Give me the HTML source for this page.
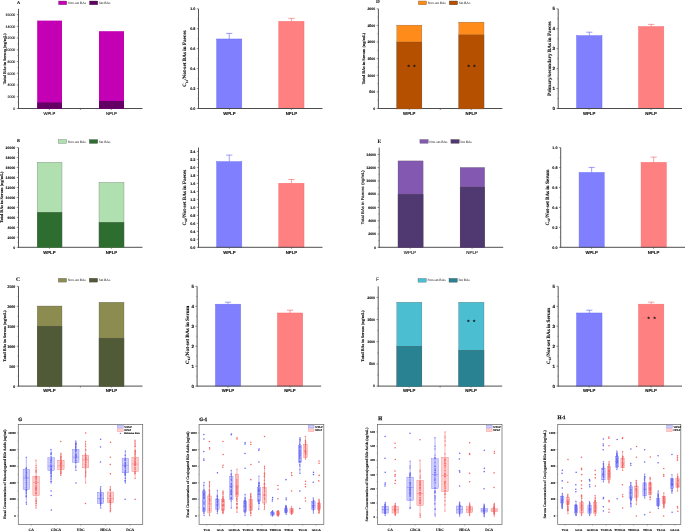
<!DOCTYPE html><html><head><meta charset="utf-8"><title>Bile acid figure</title><style>html,body{margin:0;padding:0;background:#fff}svg{display:block}</style></head><body>
<svg width="685" height="532" viewBox="0 0 685 532" style="will-change:transform" text-rendering="geometricPrecision">
<rect x="0.00" y="0.00" width="685.00" height="532.00" fill="#ffffff" stroke="none" stroke-width="0.3" />
<line x1="18.50" y1="8.80" x2="18.50" y2="108.90" stroke="#444" stroke-width="0.9" />
<line x1="18.10" y1="108.50" x2="142.50" y2="108.50" stroke="#444" stroke-width="0.95" />
<line x1="16.80" y1="108.50" x2="18.50" y2="108.50" stroke="#444" stroke-width="0.6" />
<text x="15.30" y="109.76" font-size="3.5" text-anchor="end" font-family='"Liberation Sans", sans-serif' font-weight="normal" fill="#111"  stroke="#111" stroke-width="0.12">0</text>
<line x1="16.80" y1="96.76" x2="18.50" y2="96.76" stroke="#444" stroke-width="0.6" />
<text x="15.30" y="98.02" font-size="3.5" text-anchor="end" font-family='"Liberation Sans", sans-serif' font-weight="normal" fill="#111"  stroke="#111" stroke-width="0.12">2000</text>
<line x1="16.80" y1="85.03" x2="18.50" y2="85.03" stroke="#444" stroke-width="0.6" />
<text x="15.30" y="86.29" font-size="3.5" text-anchor="end" font-family='"Liberation Sans", sans-serif' font-weight="normal" fill="#111"  stroke="#111" stroke-width="0.12">4000</text>
<line x1="16.80" y1="73.29" x2="18.50" y2="73.29" stroke="#444" stroke-width="0.6" />
<text x="15.30" y="74.55" font-size="3.5" text-anchor="end" font-family='"Liberation Sans", sans-serif' font-weight="normal" fill="#111"  stroke="#111" stroke-width="0.12">6000</text>
<line x1="16.80" y1="61.55" x2="18.50" y2="61.55" stroke="#444" stroke-width="0.6" />
<text x="15.30" y="62.81" font-size="3.5" text-anchor="end" font-family='"Liberation Sans", sans-serif' font-weight="normal" fill="#111"  stroke="#111" stroke-width="0.12">8000</text>
<line x1="16.80" y1="49.81" x2="18.50" y2="49.81" stroke="#444" stroke-width="0.6" />
<text x="15.30" y="51.07" font-size="3.5" text-anchor="end" font-family='"Liberation Sans", sans-serif' font-weight="normal" fill="#111"  stroke="#111" stroke-width="0.12">10000</text>
<line x1="16.80" y1="38.07" x2="18.50" y2="38.07" stroke="#444" stroke-width="0.6" />
<text x="15.30" y="39.33" font-size="3.5" text-anchor="end" font-family='"Liberation Sans", sans-serif' font-weight="normal" fill="#111"  stroke="#111" stroke-width="0.12">12000</text>
<line x1="16.80" y1="26.34" x2="18.50" y2="26.34" stroke="#444" stroke-width="0.6" />
<text x="15.30" y="27.60" font-size="3.5" text-anchor="end" font-family='"Liberation Sans", sans-serif' font-weight="normal" fill="#111"  stroke="#111" stroke-width="0.12">14000</text>
<line x1="16.80" y1="14.60" x2="18.50" y2="14.60" stroke="#444" stroke-width="0.6" />
<text x="15.30" y="15.86" font-size="3.5" text-anchor="end" font-family='"Liberation Sans", sans-serif' font-weight="normal" fill="#111"  stroke="#111" stroke-width="0.12">16000</text>
<line x1="17.50" y1="102.63" x2="18.50" y2="102.63" stroke="#555" stroke-width="0.5" />
<line x1="17.50" y1="90.89" x2="18.50" y2="90.89" stroke="#555" stroke-width="0.5" />
<line x1="17.50" y1="79.16" x2="18.50" y2="79.16" stroke="#555" stroke-width="0.5" />
<line x1="17.50" y1="67.42" x2="18.50" y2="67.42" stroke="#555" stroke-width="0.5" />
<line x1="17.50" y1="55.68" x2="18.50" y2="55.68" stroke="#555" stroke-width="0.5" />
<line x1="17.50" y1="43.94" x2="18.50" y2="43.94" stroke="#555" stroke-width="0.5" />
<line x1="17.50" y1="32.21" x2="18.50" y2="32.21" stroke="#555" stroke-width="0.5" />
<line x1="17.50" y1="20.47" x2="18.50" y2="20.47" stroke="#555" stroke-width="0.5" />
<line x1="49.40" y1="108.50" x2="49.40" y2="110.00" stroke="#444" stroke-width="0.6" />
<line x1="80.40" y1="108.50" x2="80.40" y2="110.00" stroke="#444" stroke-width="0.6" />
<line x1="111.40" y1="108.50" x2="111.40" y2="110.00" stroke="#444" stroke-width="0.6" />
<text x="49.40" y="114.80" font-size="4.2" text-anchor="middle" font-family='"Liberation Sans", sans-serif' font-weight="normal" fill="#111"  stroke="#111" stroke-width="0.12">WPLP</text>
<text x="111.40" y="114.80" font-size="4.2" text-anchor="middle" font-family='"Liberation Sans", sans-serif' font-weight="normal" fill="#111"  stroke="#111" stroke-width="0.12">NPLP</text>
<text x="5.70" y="58.80" font-size="4.2" text-anchor="middle" font-family='"Liberation Serif", serif' font-weight="bold" fill="#111" transform="rotate(-90 5.70 58.80)"  textLength="50.8" lengthAdjust="spacingAndGlyphs" stroke="#111" stroke-width="0.12">Total BAs in Serum (ng/mL)</text>
<rect x="37.20" y="20.60" width="24.80" height="88.35" fill="#c400b4" stroke="none" stroke-width="0.25" />
<rect x="37.20" y="102.50" width="24.80" height="6.45" fill="#640064" stroke="none" stroke-width="0.25" />
<rect x="99.00" y="31.20" width="25.00" height="77.75" fill="#c400b4" stroke="none" stroke-width="0.25" />
<rect x="99.00" y="101.00" width="25.00" height="7.95" fill="#640064" stroke="none" stroke-width="0.25" />
<text x="16.90" y="3.90" font-size="4.3" text-anchor="start" font-family='"Liberation Serif", serif' font-weight="bold" fill="#111"  stroke="#111" stroke-width="0.12">A</text>
<rect x="58.50" y="1.00" width="8.30" height="3.80" fill="#c400b4" stroke="#555" stroke-width="0.3" />
<text x="67.90" y="4.00" font-size="3.5" text-anchor="start" font-family='"Liberation Serif", serif' font-weight="normal" fill="#444"  stroke="#444" stroke-width="0.04">Non-set BAs</text>
<rect x="89.50" y="1.00" width="8.30" height="3.80" fill="#640064" stroke="#333" stroke-width="0.3" />
<text x="98.90" y="4.00" font-size="3.5" text-anchor="start" font-family='"Liberation Serif", serif' font-weight="normal" fill="#444"  stroke="#444" stroke-width="0.04">Set BAs</text>
<line x1="229.25" y1="33.40" x2="229.25" y2="39.00" stroke="#6a6af5" stroke-width="0.65" />
<line x1="226.15" y1="33.40" x2="232.35" y2="33.40" stroke="#6a6af5" stroke-width="0.65" />
<rect x="216.70" y="39.00" width="25.10" height="69.50" fill="#8080ff" stroke="#6a6af5" stroke-width="0.5" />
<line x1="291.40" y1="18.30" x2="291.40" y2="21.40" stroke="#f56a6a" stroke-width="0.65" />
<line x1="288.30" y1="18.30" x2="294.50" y2="18.30" stroke="#f56a6a" stroke-width="0.65" />
<rect x="278.80" y="21.40" width="25.20" height="87.10" fill="#ff8080" stroke="#f56a6a" stroke-width="0.5" />
<line x1="198.50" y1="8.80" x2="198.50" y2="108.90" stroke="#444" stroke-width="0.9" />
<line x1="198.10" y1="108.50" x2="322.50" y2="108.50" stroke="#444" stroke-width="0.95" />
<line x1="196.80" y1="108.50" x2="198.50" y2="108.50" stroke="#444" stroke-width="0.6" />
<text x="195.30" y="109.83" font-size="3.7" text-anchor="end" font-family='"Liberation Sans", sans-serif' font-weight="bold" fill="#111"  stroke="#111" stroke-width="0.12">0.0</text>
<line x1="196.80" y1="88.56" x2="198.50" y2="88.56" stroke="#444" stroke-width="0.6" />
<text x="195.30" y="89.89" font-size="3.7" text-anchor="end" font-family='"Liberation Sans", sans-serif' font-weight="bold" fill="#111"  stroke="#111" stroke-width="0.12">0.2</text>
<line x1="196.80" y1="68.62" x2="198.50" y2="68.62" stroke="#444" stroke-width="0.6" />
<text x="195.30" y="69.95" font-size="3.7" text-anchor="end" font-family='"Liberation Sans", sans-serif' font-weight="bold" fill="#111"  stroke="#111" stroke-width="0.12">0.4</text>
<line x1="196.80" y1="48.68" x2="198.50" y2="48.68" stroke="#444" stroke-width="0.6" />
<text x="195.30" y="50.01" font-size="3.7" text-anchor="end" font-family='"Liberation Sans", sans-serif' font-weight="bold" fill="#111"  stroke="#111" stroke-width="0.12">0.6</text>
<line x1="196.80" y1="28.74" x2="198.50" y2="28.74" stroke="#444" stroke-width="0.6" />
<text x="195.30" y="30.07" font-size="3.7" text-anchor="end" font-family='"Liberation Sans", sans-serif' font-weight="bold" fill="#111"  stroke="#111" stroke-width="0.12">0.8</text>
<line x1="196.80" y1="8.80" x2="198.50" y2="8.80" stroke="#444" stroke-width="0.6" />
<text x="195.30" y="10.13" font-size="3.7" text-anchor="end" font-family='"Liberation Sans", sans-serif' font-weight="bold" fill="#111"  stroke="#111" stroke-width="0.12">1.0</text>
<line x1="197.50" y1="98.53" x2="198.50" y2="98.53" stroke="#555" stroke-width="0.5" />
<line x1="197.50" y1="78.59" x2="198.50" y2="78.59" stroke="#555" stroke-width="0.5" />
<line x1="197.50" y1="58.65" x2="198.50" y2="58.65" stroke="#555" stroke-width="0.5" />
<line x1="197.50" y1="38.71" x2="198.50" y2="38.71" stroke="#555" stroke-width="0.5" />
<line x1="197.50" y1="18.77" x2="198.50" y2="18.77" stroke="#555" stroke-width="0.5" />
<line x1="229.40" y1="108.50" x2="229.40" y2="110.00" stroke="#444" stroke-width="0.6" />
<line x1="291.40" y1="108.50" x2="291.40" y2="110.00" stroke="#444" stroke-width="0.6" />
<text x="229.40" y="114.80" font-size="4.3" text-anchor="middle" font-family='"Liberation Sans", sans-serif' font-weight="bold" fill="#111"  stroke="#111" stroke-width="0.12">WPLP</text>
<text x="291.40" y="114.80" font-size="4.3" text-anchor="middle" font-family='"Liberation Sans", sans-serif' font-weight="bold" fill="#111"  stroke="#111" stroke-width="0.12">NPLP</text>
<text x="186.50" y="58.70" font-size="5.0" text-anchor="middle" font-family='"Liberation Serif", serif' font-weight="bold" fill="#111" transform="rotate(-90 186.50 58.70)"  textLength="56.4" lengthAdjust="spacingAndGlyphs" stroke="#111" stroke-width="0.12">C<tspan font-size="3.2" dy="1.2">12</tspan><tspan dy="-1.2">/Not-set BAs in Faeces</tspan></text>
<line x1="378.40" y1="8.80" x2="378.40" y2="108.90" stroke="#444" stroke-width="0.9" />
<line x1="378.00" y1="108.50" x2="502.40" y2="108.50" stroke="#444" stroke-width="0.95" />
<line x1="376.70" y1="108.50" x2="378.40" y2="108.50" stroke="#444" stroke-width="0.6" />
<text x="375.20" y="109.76" font-size="3.5" text-anchor="end" font-family='"Liberation Sans", sans-serif' font-weight="bold" fill="#111"  stroke="#111" stroke-width="0.12">0</text>
<line x1="376.70" y1="91.88" x2="378.40" y2="91.88" stroke="#444" stroke-width="0.6" />
<text x="375.20" y="93.14" font-size="3.5" text-anchor="end" font-family='"Liberation Sans", sans-serif' font-weight="bold" fill="#111"  stroke="#111" stroke-width="0.12">500</text>
<line x1="376.70" y1="75.27" x2="378.40" y2="75.27" stroke="#444" stroke-width="0.6" />
<text x="375.20" y="76.53" font-size="3.5" text-anchor="end" font-family='"Liberation Sans", sans-serif' font-weight="bold" fill="#111"  stroke="#111" stroke-width="0.12">1000</text>
<line x1="376.70" y1="58.65" x2="378.40" y2="58.65" stroke="#444" stroke-width="0.6" />
<text x="375.20" y="59.91" font-size="3.5" text-anchor="end" font-family='"Liberation Sans", sans-serif' font-weight="bold" fill="#111"  stroke="#111" stroke-width="0.12">1500</text>
<line x1="376.70" y1="42.03" x2="378.40" y2="42.03" stroke="#444" stroke-width="0.6" />
<text x="375.20" y="43.29" font-size="3.5" text-anchor="end" font-family='"Liberation Sans", sans-serif' font-weight="bold" fill="#111"  stroke="#111" stroke-width="0.12">2000</text>
<line x1="376.70" y1="25.42" x2="378.40" y2="25.42" stroke="#444" stroke-width="0.6" />
<text x="375.20" y="26.68" font-size="3.5" text-anchor="end" font-family='"Liberation Sans", sans-serif' font-weight="bold" fill="#111"  stroke="#111" stroke-width="0.12">2500</text>
<line x1="376.70" y1="8.80" x2="378.40" y2="8.80" stroke="#444" stroke-width="0.6" />
<text x="375.20" y="10.06" font-size="3.5" text-anchor="end" font-family='"Liberation Sans", sans-serif' font-weight="bold" fill="#111"  stroke="#111" stroke-width="0.12">3000</text>
<line x1="377.40" y1="100.19" x2="378.40" y2="100.19" stroke="#555" stroke-width="0.5" />
<line x1="377.40" y1="83.58" x2="378.40" y2="83.58" stroke="#555" stroke-width="0.5" />
<line x1="377.40" y1="66.96" x2="378.40" y2="66.96" stroke="#555" stroke-width="0.5" />
<line x1="377.40" y1="50.34" x2="378.40" y2="50.34" stroke="#555" stroke-width="0.5" />
<line x1="377.40" y1="33.72" x2="378.40" y2="33.72" stroke="#555" stroke-width="0.5" />
<line x1="377.40" y1="17.11" x2="378.40" y2="17.11" stroke="#555" stroke-width="0.5" />
<line x1="409.30" y1="108.50" x2="409.30" y2="110.00" stroke="#444" stroke-width="0.6" />
<line x1="440.30" y1="108.50" x2="440.30" y2="110.00" stroke="#444" stroke-width="0.6" />
<line x1="471.30" y1="108.50" x2="471.30" y2="110.00" stroke="#444" stroke-width="0.6" />
<text x="409.30" y="114.80" font-size="4.3" text-anchor="middle" font-family='"Liberation Sans", sans-serif' font-weight="bold" fill="#111"  stroke="#111" stroke-width="0.12">WPLP</text>
<text x="471.30" y="114.80" font-size="4.3" text-anchor="middle" font-family='"Liberation Sans", sans-serif' font-weight="bold" fill="#111"  stroke="#111" stroke-width="0.12">NPLP</text>
<text x="365.00" y="58.45" font-size="4.2" text-anchor="middle" font-family='"Liberation Serif", serif' font-weight="bold" fill="#111" transform="rotate(-90 365.00 58.45)"  textLength="51.5" lengthAdjust="spacingAndGlyphs" stroke="#111" stroke-width="0.12">Total BAs in Serum (ng/mL)</text>
<rect x="396.80" y="25.10" width="25.10" height="83.85" fill="#ff8c1a" stroke="#555" stroke-width="0.25" />
<rect x="396.80" y="42.00" width="25.10" height="66.95" fill="#b45000" stroke="#555" stroke-width="0.25" />
<rect x="458.80" y="22.10" width="25.20" height="86.85" fill="#ff8c1a" stroke="#555" stroke-width="0.25" />
<rect x="458.80" y="34.90" width="25.20" height="74.05" fill="#b45000" stroke="#555" stroke-width="0.25" />
<text x="376.00" y="3.30" font-size="5.2" text-anchor="start" font-family='"Liberation Serif", serif' font-weight="bold" fill="#222"  stroke="#222" stroke-width="0.12">D</text>
<rect x="418.30" y="1.00" width="8.30" height="3.80" fill="#ff8c1a" stroke="#555" stroke-width="0.3" />
<text x="427.70" y="4.00" font-size="3.5" text-anchor="start" font-family='"Liberation Serif", serif' font-weight="normal" fill="#444"  stroke="#444" stroke-width="0.04">Non-set BAs</text>
<rect x="449.30" y="1.00" width="8.30" height="3.80" fill="#b45000" stroke="#333" stroke-width="0.3" />
<text x="458.70" y="4.00" font-size="3.5" text-anchor="start" font-family='"Liberation Serif", serif' font-weight="normal" fill="#444"  stroke="#444" stroke-width="0.04">Set BAs</text>
<text x="408.50" y="67.00" font-size="3.6" text-anchor="middle" font-family='"Liberation Sans", sans-serif' font-weight="normal" fill="#111"  stroke="#111" stroke-width="0.12">★</text>
<text x="414.30" y="67.00" font-size="3.6" text-anchor="middle" font-family='"Liberation Sans", sans-serif' font-weight="normal" fill="#111"  stroke="#111" stroke-width="0.12">★</text>
<text x="468.50" y="67.00" font-size="3.6" text-anchor="middle" font-family='"Liberation Sans", sans-serif' font-weight="normal" fill="#111"  stroke="#111" stroke-width="0.12">★</text>
<text x="474.30" y="67.00" font-size="3.6" text-anchor="middle" font-family='"Liberation Sans", sans-serif' font-weight="normal" fill="#111"  stroke="#111" stroke-width="0.12">★</text>
<line x1="589.30" y1="32.20" x2="589.30" y2="35.70" stroke="#6a6af5" stroke-width="0.65" />
<line x1="586.20" y1="32.20" x2="592.40" y2="32.20" stroke="#6a6af5" stroke-width="0.65" />
<rect x="576.60" y="35.70" width="25.40" height="72.80" fill="#8080ff" stroke="#6a6af5" stroke-width="0.5" />
<line x1="651.20" y1="24.40" x2="651.20" y2="26.60" stroke="#f56a6a" stroke-width="0.65" />
<line x1="648.10" y1="24.40" x2="654.30" y2="24.40" stroke="#f56a6a" stroke-width="0.65" />
<rect x="638.60" y="26.60" width="25.20" height="81.90" fill="#ff8080" stroke="#f56a6a" stroke-width="0.5" />
<line x1="558.20" y1="8.80" x2="558.20" y2="108.90" stroke="#444" stroke-width="0.9" />
<line x1="557.80" y1="108.50" x2="682.00" y2="108.50" stroke="#444" stroke-width="0.95" />
<line x1="556.50" y1="108.50" x2="558.20" y2="108.50" stroke="#444" stroke-width="0.6" />
<text x="555.00" y="110.12" font-size="4.5" text-anchor="end" font-family='"Liberation Sans", sans-serif' font-weight="bold" fill="#111"  stroke="#111" stroke-width="0.12">0</text>
<line x1="556.50" y1="88.56" x2="558.20" y2="88.56" stroke="#444" stroke-width="0.6" />
<text x="555.00" y="90.18" font-size="4.5" text-anchor="end" font-family='"Liberation Sans", sans-serif' font-weight="bold" fill="#111"  stroke="#111" stroke-width="0.12">1</text>
<line x1="556.50" y1="68.62" x2="558.20" y2="68.62" stroke="#444" stroke-width="0.6" />
<text x="555.00" y="70.24" font-size="4.5" text-anchor="end" font-family='"Liberation Sans", sans-serif' font-weight="bold" fill="#111"  stroke="#111" stroke-width="0.12">2</text>
<line x1="556.50" y1="48.68" x2="558.20" y2="48.68" stroke="#444" stroke-width="0.6" />
<text x="555.00" y="50.30" font-size="4.5" text-anchor="end" font-family='"Liberation Sans", sans-serif' font-weight="bold" fill="#111"  stroke="#111" stroke-width="0.12">3</text>
<line x1="556.50" y1="28.74" x2="558.20" y2="28.74" stroke="#444" stroke-width="0.6" />
<text x="555.00" y="30.36" font-size="4.5" text-anchor="end" font-family='"Liberation Sans", sans-serif' font-weight="bold" fill="#111"  stroke="#111" stroke-width="0.12">4</text>
<line x1="556.50" y1="8.80" x2="558.20" y2="8.80" stroke="#444" stroke-width="0.6" />
<text x="555.00" y="10.42" font-size="4.5" text-anchor="end" font-family='"Liberation Sans", sans-serif' font-weight="bold" fill="#111"  stroke="#111" stroke-width="0.12">5</text>
<line x1="557.20" y1="98.53" x2="558.20" y2="98.53" stroke="#555" stroke-width="0.5" />
<line x1="557.20" y1="78.59" x2="558.20" y2="78.59" stroke="#555" stroke-width="0.5" />
<line x1="557.20" y1="58.65" x2="558.20" y2="58.65" stroke="#555" stroke-width="0.5" />
<line x1="557.20" y1="38.71" x2="558.20" y2="38.71" stroke="#555" stroke-width="0.5" />
<line x1="557.20" y1="18.77" x2="558.20" y2="18.77" stroke="#555" stroke-width="0.5" />
<line x1="589.10" y1="108.50" x2="589.10" y2="110.00" stroke="#444" stroke-width="0.6" />
<line x1="651.10" y1="108.50" x2="651.10" y2="110.00" stroke="#444" stroke-width="0.6" />
<text x="589.10" y="114.80" font-size="4.3" text-anchor="middle" font-family='"Liberation Sans", sans-serif' font-weight="bold" fill="#111"  stroke="#111" stroke-width="0.12">WPLP</text>
<text x="651.10" y="114.80" font-size="4.3" text-anchor="middle" font-family='"Liberation Sans", sans-serif' font-weight="bold" fill="#111"  stroke="#111" stroke-width="0.12">NPLP</text>
<text x="550.60" y="58.70" font-size="5.0" text-anchor="middle" font-family='"Liberation Serif", serif' font-weight="bold" fill="#111" transform="rotate(-90 550.60 58.70)"  textLength="74.6" lengthAdjust="spacingAndGlyphs" stroke="#111" stroke-width="0.12">Primary/secondary BAs in Faeces</text>
<line x1="18.50" y1="147.60" x2="18.50" y2="247.70" stroke="#444" stroke-width="0.9" />
<line x1="18.10" y1="247.30" x2="142.50" y2="247.30" stroke="#444" stroke-width="0.95" />
<line x1="16.80" y1="247.30" x2="18.50" y2="247.30" stroke="#444" stroke-width="0.6" />
<text x="15.30" y="248.56" font-size="3.5" text-anchor="end" font-family='"Liberation Sans", sans-serif' font-weight="bold" fill="#111"  stroke="#111" stroke-width="0.12">0</text>
<line x1="16.80" y1="237.33" x2="18.50" y2="237.33" stroke="#444" stroke-width="0.6" />
<text x="15.30" y="238.59" font-size="3.5" text-anchor="end" font-family='"Liberation Sans", sans-serif' font-weight="bold" fill="#111"  stroke="#111" stroke-width="0.12">2000</text>
<line x1="16.80" y1="227.36" x2="18.50" y2="227.36" stroke="#444" stroke-width="0.6" />
<text x="15.30" y="228.62" font-size="3.5" text-anchor="end" font-family='"Liberation Sans", sans-serif' font-weight="bold" fill="#111"  stroke="#111" stroke-width="0.12">4000</text>
<line x1="16.80" y1="217.39" x2="18.50" y2="217.39" stroke="#444" stroke-width="0.6" />
<text x="15.30" y="218.65" font-size="3.5" text-anchor="end" font-family='"Liberation Sans", sans-serif' font-weight="bold" fill="#111"  stroke="#111" stroke-width="0.12">6000</text>
<line x1="16.80" y1="207.42" x2="18.50" y2="207.42" stroke="#444" stroke-width="0.6" />
<text x="15.30" y="208.68" font-size="3.5" text-anchor="end" font-family='"Liberation Sans", sans-serif' font-weight="bold" fill="#111"  stroke="#111" stroke-width="0.12">8000</text>
<line x1="16.80" y1="197.45" x2="18.50" y2="197.45" stroke="#444" stroke-width="0.6" />
<text x="15.30" y="198.71" font-size="3.5" text-anchor="end" font-family='"Liberation Sans", sans-serif' font-weight="bold" fill="#111"  stroke="#111" stroke-width="0.12">10000</text>
<line x1="16.80" y1="187.48" x2="18.50" y2="187.48" stroke="#444" stroke-width="0.6" />
<text x="15.30" y="188.74" font-size="3.5" text-anchor="end" font-family='"Liberation Sans", sans-serif' font-weight="bold" fill="#111"  stroke="#111" stroke-width="0.12">12000</text>
<line x1="16.80" y1="177.51" x2="18.50" y2="177.51" stroke="#444" stroke-width="0.6" />
<text x="15.30" y="178.77" font-size="3.5" text-anchor="end" font-family='"Liberation Sans", sans-serif' font-weight="bold" fill="#111"  stroke="#111" stroke-width="0.12">14000</text>
<line x1="16.80" y1="167.54" x2="18.50" y2="167.54" stroke="#444" stroke-width="0.6" />
<text x="15.30" y="168.80" font-size="3.5" text-anchor="end" font-family='"Liberation Sans", sans-serif' font-weight="bold" fill="#111"  stroke="#111" stroke-width="0.12">16000</text>
<line x1="16.80" y1="157.57" x2="18.50" y2="157.57" stroke="#444" stroke-width="0.6" />
<text x="15.30" y="158.83" font-size="3.5" text-anchor="end" font-family='"Liberation Sans", sans-serif' font-weight="bold" fill="#111"  stroke="#111" stroke-width="0.12">18000</text>
<line x1="16.80" y1="147.60" x2="18.50" y2="147.60" stroke="#444" stroke-width="0.6" />
<text x="15.30" y="148.86" font-size="3.5" text-anchor="end" font-family='"Liberation Sans", sans-serif' font-weight="bold" fill="#111"  stroke="#111" stroke-width="0.12">20000</text>
<line x1="17.50" y1="242.31" x2="18.50" y2="242.31" stroke="#555" stroke-width="0.5" />
<line x1="17.50" y1="232.34" x2="18.50" y2="232.34" stroke="#555" stroke-width="0.5" />
<line x1="17.50" y1="222.38" x2="18.50" y2="222.38" stroke="#555" stroke-width="0.5" />
<line x1="17.50" y1="212.41" x2="18.50" y2="212.41" stroke="#555" stroke-width="0.5" />
<line x1="17.50" y1="202.44" x2="18.50" y2="202.44" stroke="#555" stroke-width="0.5" />
<line x1="17.50" y1="192.47" x2="18.50" y2="192.47" stroke="#555" stroke-width="0.5" />
<line x1="17.50" y1="182.50" x2="18.50" y2="182.50" stroke="#555" stroke-width="0.5" />
<line x1="17.50" y1="172.52" x2="18.50" y2="172.52" stroke="#555" stroke-width="0.5" />
<line x1="17.50" y1="162.56" x2="18.50" y2="162.56" stroke="#555" stroke-width="0.5" />
<line x1="17.50" y1="152.58" x2="18.50" y2="152.58" stroke="#555" stroke-width="0.5" />
<line x1="49.40" y1="247.30" x2="49.40" y2="248.80" stroke="#444" stroke-width="0.6" />
<line x1="111.40" y1="247.30" x2="111.40" y2="248.80" stroke="#444" stroke-width="0.6" />
<text x="49.40" y="253.60" font-size="4.3" text-anchor="middle" font-family='"Liberation Sans", sans-serif' font-weight="bold" fill="#111"  stroke="#111" stroke-width="0.12">WPLP</text>
<text x="111.40" y="253.60" font-size="4.3" text-anchor="middle" font-family='"Liberation Sans", sans-serif' font-weight="bold" fill="#111"  stroke="#111" stroke-width="0.12">NPLP</text>
<text x="3.40" y="197.25" font-size="4.2" text-anchor="middle" font-family='"Liberation Serif", serif' font-weight="bold" fill="#111" transform="rotate(-90 3.40 197.25)"  textLength="51.5" lengthAdjust="spacingAndGlyphs" stroke="#111" stroke-width="0.12">Total BAs in Serum (ng/mL)</text>
<rect x="37.20" y="162.20" width="24.80" height="85.55" fill="#b0e0b0" stroke="#555" stroke-width="0.25" />
<rect x="37.20" y="212.20" width="24.80" height="35.55" fill="#2d6e30" stroke="#555" stroke-width="0.25" />
<rect x="99.00" y="182.30" width="25.00" height="65.45" fill="#b0e0b0" stroke="#555" stroke-width="0.25" />
<rect x="99.00" y="222.20" width="25.00" height="25.55" fill="#2d6e30" stroke="#555" stroke-width="0.25" />
<text x="16.90" y="142.10" font-size="4.3" text-anchor="start" font-family='"Liberation Serif", serif' font-weight="bold" fill="#111"  stroke="#111" stroke-width="0.12">B</text>
<rect x="58.40" y="139.60" width="8.30" height="3.80" fill="#b0e0b0" stroke="#555" stroke-width="0.3" />
<text x="67.80" y="142.60" font-size="3.5" text-anchor="start" font-family='"Liberation Serif", serif' font-weight="normal" fill="#444"  stroke="#444" stroke-width="0.04">Non-set BAs</text>
<rect x="89.40" y="139.60" width="8.30" height="3.80" fill="#2d6e30" stroke="#333" stroke-width="0.3" />
<text x="98.80" y="142.60" font-size="3.5" text-anchor="start" font-family='"Liberation Serif", serif' font-weight="normal" fill="#444"  stroke="#444" stroke-width="0.04">Set BAs</text>
<line x1="229.25" y1="155.10" x2="229.25" y2="161.70" stroke="#6a6af5" stroke-width="0.65" />
<line x1="226.15" y1="155.10" x2="232.35" y2="155.10" stroke="#6a6af5" stroke-width="0.65" />
<rect x="216.70" y="161.70" width="25.10" height="85.60" fill="#8080ff" stroke="#6a6af5" stroke-width="0.5" />
<line x1="291.40" y1="179.50" x2="291.40" y2="183.30" stroke="#f56a6a" stroke-width="0.65" />
<line x1="288.30" y1="179.50" x2="294.50" y2="179.50" stroke="#f56a6a" stroke-width="0.65" />
<rect x="278.80" y="183.30" width="25.20" height="64.00" fill="#ff8080" stroke="#f56a6a" stroke-width="0.5" />
<line x1="198.50" y1="147.60" x2="198.50" y2="247.70" stroke="#444" stroke-width="0.9" />
<line x1="198.10" y1="247.30" x2="322.50" y2="247.30" stroke="#444" stroke-width="0.95" />
<line x1="196.80" y1="247.30" x2="198.50" y2="247.30" stroke="#444" stroke-width="0.6" />
<text x="195.30" y="248.63" font-size="3.7" text-anchor="end" font-family='"Liberation Sans", sans-serif' font-weight="bold" fill="#111"  stroke="#111" stroke-width="0.12">0.0</text>
<line x1="196.80" y1="239.31" x2="198.50" y2="239.31" stroke="#444" stroke-width="0.6" />
<text x="195.30" y="240.64" font-size="3.7" text-anchor="end" font-family='"Liberation Sans", sans-serif' font-weight="bold" fill="#111"  stroke="#111" stroke-width="0.12">0.2</text>
<line x1="196.80" y1="231.32" x2="198.50" y2="231.32" stroke="#444" stroke-width="0.6" />
<text x="195.30" y="232.65" font-size="3.7" text-anchor="end" font-family='"Liberation Sans", sans-serif' font-weight="bold" fill="#111"  stroke="#111" stroke-width="0.12">0.4</text>
<line x1="196.80" y1="223.33" x2="198.50" y2="223.33" stroke="#444" stroke-width="0.6" />
<text x="195.30" y="224.66" font-size="3.7" text-anchor="end" font-family='"Liberation Sans", sans-serif' font-weight="bold" fill="#111"  stroke="#111" stroke-width="0.12">0.6</text>
<line x1="196.80" y1="215.33" x2="198.50" y2="215.33" stroke="#444" stroke-width="0.6" />
<text x="195.30" y="216.67" font-size="3.7" text-anchor="end" font-family='"Liberation Sans", sans-serif' font-weight="bold" fill="#111"  stroke="#111" stroke-width="0.12">0.8</text>
<line x1="196.80" y1="207.34" x2="198.50" y2="207.34" stroke="#444" stroke-width="0.6" />
<text x="195.30" y="208.67" font-size="3.7" text-anchor="end" font-family='"Liberation Sans", sans-serif' font-weight="bold" fill="#111"  stroke="#111" stroke-width="0.12">1.0</text>
<line x1="196.80" y1="199.35" x2="198.50" y2="199.35" stroke="#444" stroke-width="0.6" />
<text x="195.30" y="200.68" font-size="3.7" text-anchor="end" font-family='"Liberation Sans", sans-serif' font-weight="bold" fill="#111"  stroke="#111" stroke-width="0.12">1.2</text>
<line x1="196.80" y1="191.36" x2="198.50" y2="191.36" stroke="#444" stroke-width="0.6" />
<text x="195.30" y="192.69" font-size="3.7" text-anchor="end" font-family='"Liberation Sans", sans-serif' font-weight="bold" fill="#111"  stroke="#111" stroke-width="0.12">1.4</text>
<line x1="196.80" y1="183.37" x2="198.50" y2="183.37" stroke="#444" stroke-width="0.6" />
<text x="195.30" y="184.70" font-size="3.7" text-anchor="end" font-family='"Liberation Sans", sans-serif' font-weight="bold" fill="#111"  stroke="#111" stroke-width="0.12">1.6</text>
<line x1="196.80" y1="175.38" x2="198.50" y2="175.38" stroke="#444" stroke-width="0.6" />
<text x="195.30" y="176.71" font-size="3.7" text-anchor="end" font-family='"Liberation Sans", sans-serif' font-weight="bold" fill="#111"  stroke="#111" stroke-width="0.12">1.8</text>
<line x1="196.80" y1="167.38" x2="198.50" y2="167.38" stroke="#444" stroke-width="0.6" />
<text x="195.30" y="168.72" font-size="3.7" text-anchor="end" font-family='"Liberation Sans", sans-serif' font-weight="bold" fill="#111"  stroke="#111" stroke-width="0.12">2.0</text>
<line x1="196.80" y1="159.39" x2="198.50" y2="159.39" stroke="#444" stroke-width="0.6" />
<text x="195.30" y="160.72" font-size="3.7" text-anchor="end" font-family='"Liberation Sans", sans-serif' font-weight="bold" fill="#111"  stroke="#111" stroke-width="0.12">2.2</text>
<line x1="196.80" y1="151.40" x2="198.50" y2="151.40" stroke="#444" stroke-width="0.6" />
<text x="195.30" y="152.73" font-size="3.7" text-anchor="end" font-family='"Liberation Sans", sans-serif' font-weight="bold" fill="#111"  stroke="#111" stroke-width="0.12">2.4</text>
<line x1="197.50" y1="243.30" x2="198.50" y2="243.30" stroke="#555" stroke-width="0.5" />
<line x1="197.50" y1="235.31" x2="198.50" y2="235.31" stroke="#555" stroke-width="0.5" />
<line x1="197.50" y1="227.32" x2="198.50" y2="227.32" stroke="#555" stroke-width="0.5" />
<line x1="197.50" y1="219.33" x2="198.50" y2="219.33" stroke="#555" stroke-width="0.5" />
<line x1="197.50" y1="211.34" x2="198.50" y2="211.34" stroke="#555" stroke-width="0.5" />
<line x1="197.50" y1="203.35" x2="198.50" y2="203.35" stroke="#555" stroke-width="0.5" />
<line x1="197.50" y1="195.35" x2="198.50" y2="195.35" stroke="#555" stroke-width="0.5" />
<line x1="197.50" y1="187.36" x2="198.50" y2="187.36" stroke="#555" stroke-width="0.5" />
<line x1="197.50" y1="179.37" x2="198.50" y2="179.37" stroke="#555" stroke-width="0.5" />
<line x1="197.50" y1="171.38" x2="198.50" y2="171.38" stroke="#555" stroke-width="0.5" />
<line x1="197.50" y1="163.39" x2="198.50" y2="163.39" stroke="#555" stroke-width="0.5" />
<line x1="197.50" y1="155.40" x2="198.50" y2="155.40" stroke="#555" stroke-width="0.5" />
<line x1="229.40" y1="247.30" x2="229.40" y2="248.80" stroke="#444" stroke-width="0.6" />
<line x1="291.40" y1="247.30" x2="291.40" y2="248.80" stroke="#444" stroke-width="0.6" />
<text x="229.40" y="253.60" font-size="4.3" text-anchor="middle" font-family='"Liberation Sans", sans-serif' font-weight="bold" fill="#111"  stroke="#111" stroke-width="0.12">WPLP</text>
<text x="291.40" y="253.60" font-size="4.3" text-anchor="middle" font-family='"Liberation Sans", sans-serif' font-weight="bold" fill="#111"  stroke="#111" stroke-width="0.12">NPLP</text>
<text x="185.70" y="197.60" font-size="5.0" text-anchor="middle" font-family='"Liberation Serif", serif' font-weight="bold" fill="#111" transform="rotate(-90 185.70 197.60)"  textLength="55.8" lengthAdjust="spacingAndGlyphs" stroke="#111" stroke-width="0.12">C<tspan font-size="3.2" dy="1.2">12</tspan><tspan dy="-1.2">/Not-set BAs in Faeces</tspan></text>
<line x1="379.20" y1="147.60" x2="379.20" y2="247.70" stroke="#444" stroke-width="0.9" />
<line x1="378.80" y1="247.30" x2="503.20" y2="247.30" stroke="#444" stroke-width="0.95" />
<line x1="377.50" y1="247.30" x2="379.20" y2="247.30" stroke="#444" stroke-width="0.6" />
<text x="376.00" y="248.56" font-size="3.5" text-anchor="end" font-family='"Liberation Sans", sans-serif' font-weight="bold" fill="#111"  stroke="#111" stroke-width="0.12">0</text>
<line x1="377.50" y1="234.03" x2="379.20" y2="234.03" stroke="#444" stroke-width="0.6" />
<text x="376.00" y="235.29" font-size="3.5" text-anchor="end" font-family='"Liberation Sans", sans-serif' font-weight="bold" fill="#111"  stroke="#111" stroke-width="0.12">2000</text>
<line x1="377.50" y1="220.76" x2="379.20" y2="220.76" stroke="#444" stroke-width="0.6" />
<text x="376.00" y="222.02" font-size="3.5" text-anchor="end" font-family='"Liberation Sans", sans-serif' font-weight="bold" fill="#111"  stroke="#111" stroke-width="0.12">4000</text>
<line x1="377.50" y1="207.49" x2="379.20" y2="207.49" stroke="#444" stroke-width="0.6" />
<text x="376.00" y="208.75" font-size="3.5" text-anchor="end" font-family='"Liberation Sans", sans-serif' font-weight="bold" fill="#111"  stroke="#111" stroke-width="0.12">6000</text>
<line x1="377.50" y1="194.21" x2="379.20" y2="194.21" stroke="#444" stroke-width="0.6" />
<text x="376.00" y="195.47" font-size="3.5" text-anchor="end" font-family='"Liberation Sans", sans-serif' font-weight="bold" fill="#111"  stroke="#111" stroke-width="0.12">8000</text>
<line x1="377.50" y1="180.94" x2="379.20" y2="180.94" stroke="#444" stroke-width="0.6" />
<text x="376.00" y="182.20" font-size="3.5" text-anchor="end" font-family='"Liberation Sans", sans-serif' font-weight="bold" fill="#111"  stroke="#111" stroke-width="0.12">10000</text>
<line x1="377.50" y1="167.67" x2="379.20" y2="167.67" stroke="#444" stroke-width="0.6" />
<text x="376.00" y="168.93" font-size="3.5" text-anchor="end" font-family='"Liberation Sans", sans-serif' font-weight="bold" fill="#111"  stroke="#111" stroke-width="0.12">12000</text>
<line x1="377.50" y1="154.40" x2="379.20" y2="154.40" stroke="#444" stroke-width="0.6" />
<text x="376.00" y="155.66" font-size="3.5" text-anchor="end" font-family='"Liberation Sans", sans-serif' font-weight="bold" fill="#111"  stroke="#111" stroke-width="0.12">14000</text>
<line x1="378.20" y1="240.66" x2="379.20" y2="240.66" stroke="#555" stroke-width="0.5" />
<line x1="378.20" y1="227.39" x2="379.20" y2="227.39" stroke="#555" stroke-width="0.5" />
<line x1="378.20" y1="214.12" x2="379.20" y2="214.12" stroke="#555" stroke-width="0.5" />
<line x1="378.20" y1="200.85" x2="379.20" y2="200.85" stroke="#555" stroke-width="0.5" />
<line x1="378.20" y1="187.58" x2="379.20" y2="187.58" stroke="#555" stroke-width="0.5" />
<line x1="378.20" y1="174.31" x2="379.20" y2="174.31" stroke="#555" stroke-width="0.5" />
<line x1="378.20" y1="161.04" x2="379.20" y2="161.04" stroke="#555" stroke-width="0.5" />
<line x1="410.10" y1="247.30" x2="410.10" y2="248.80" stroke="#444" stroke-width="0.6" />
<line x1="472.10" y1="247.30" x2="472.10" y2="248.80" stroke="#444" stroke-width="0.6" />
<text x="410.10" y="253.60" font-size="4.4" text-anchor="middle" font-family='"Liberation Sans", sans-serif' font-weight="normal" fill="#111"  stroke="#111" stroke-width="0.12">WPLP</text>
<text x="472.10" y="253.60" font-size="4.4" text-anchor="middle" font-family='"Liberation Sans", sans-serif' font-weight="normal" fill="#111"  stroke="#111" stroke-width="0.12">NPLP</text>
<text x="363.70" y="197.20" font-size="4.0" text-anchor="middle" font-family='"Liberation Sans", sans-serif' font-weight="normal" fill="#111" transform="rotate(-90 363.70 197.20)"  textLength="54.0" lengthAdjust="spacingAndGlyphs" stroke="#111" stroke-width="0.12">Total BAs in Faeces (ng/mL)</text>
<rect x="398.00" y="160.90" width="25.10" height="86.85" fill="#8358b0" stroke="#555" stroke-width="0.25" />
<rect x="398.00" y="194.10" width="25.10" height="53.65" fill="#503870" stroke="#555" stroke-width="0.25" />
<rect x="460.10" y="167.40" width="24.60" height="80.35" fill="#8358b0" stroke="#555" stroke-width="0.25" />
<rect x="460.10" y="187.00" width="24.60" height="60.75" fill="#503870" stroke="#555" stroke-width="0.25" />
<text x="377.40" y="142.70" font-size="5.4" text-anchor="start" font-family='"Liberation Serif", serif' font-weight="bold" fill="#111"  stroke="#111" stroke-width="0.12">E</text>
<rect x="419.90" y="139.50" width="8.30" height="3.80" fill="#8358b0" stroke="#555" stroke-width="0.3" />
<text x="429.30" y="142.50" font-size="3.5" text-anchor="start" font-family='"Liberation Serif", serif' font-weight="normal" fill="#444"  stroke="#444" stroke-width="0.04">Non-set BAs</text>
<rect x="450.90" y="139.50" width="8.30" height="3.80" fill="#503870" stroke="#333" stroke-width="0.3" />
<text x="460.30" y="142.50" font-size="3.5" text-anchor="start" font-family='"Liberation Serif", serif' font-weight="normal" fill="#444"  stroke="#444" stroke-width="0.04">Set BAs</text>
<line x1="591.65" y1="167.40" x2="591.65" y2="172.50" stroke="#6a6af5" stroke-width="0.65" />
<line x1="588.55" y1="167.40" x2="594.75" y2="167.40" stroke="#6a6af5" stroke-width="0.65" />
<rect x="579.10" y="172.50" width="25.10" height="74.80" fill="#8080ff" stroke="#6a6af5" stroke-width="0.5" />
<line x1="653.70" y1="157.10" x2="653.70" y2="162.40" stroke="#f56a6a" stroke-width="0.65" />
<line x1="650.60" y1="157.10" x2="656.80" y2="157.10" stroke="#f56a6a" stroke-width="0.65" />
<rect x="641.10" y="162.40" width="25.20" height="84.90" fill="#ff8080" stroke="#f56a6a" stroke-width="0.5" />
<line x1="560.70" y1="147.60" x2="560.70" y2="247.70" stroke="#444" stroke-width="0.9" />
<line x1="560.30" y1="247.30" x2="685.00" y2="247.30" stroke="#444" stroke-width="0.95" />
<line x1="559.00" y1="247.30" x2="560.70" y2="247.30" stroke="#444" stroke-width="0.6" />
<text x="557.50" y="248.63" font-size="3.7" text-anchor="end" font-family='"Liberation Sans", sans-serif' font-weight="bold" fill="#111"  stroke="#111" stroke-width="0.12">0.0</text>
<line x1="559.00" y1="227.36" x2="560.70" y2="227.36" stroke="#444" stroke-width="0.6" />
<text x="557.50" y="228.69" font-size="3.7" text-anchor="end" font-family='"Liberation Sans", sans-serif' font-weight="bold" fill="#111"  stroke="#111" stroke-width="0.12">0.2</text>
<line x1="559.00" y1="207.42" x2="560.70" y2="207.42" stroke="#444" stroke-width="0.6" />
<text x="557.50" y="208.75" font-size="3.7" text-anchor="end" font-family='"Liberation Sans", sans-serif' font-weight="bold" fill="#111"  stroke="#111" stroke-width="0.12">0.4</text>
<line x1="559.00" y1="187.48" x2="560.70" y2="187.48" stroke="#444" stroke-width="0.6" />
<text x="557.50" y="188.81" font-size="3.7" text-anchor="end" font-family='"Liberation Sans", sans-serif' font-weight="bold" fill="#111"  stroke="#111" stroke-width="0.12">0.6</text>
<line x1="559.00" y1="167.54" x2="560.70" y2="167.54" stroke="#444" stroke-width="0.6" />
<text x="557.50" y="168.87" font-size="3.7" text-anchor="end" font-family='"Liberation Sans", sans-serif' font-weight="bold" fill="#111"  stroke="#111" stroke-width="0.12">0.8</text>
<line x1="559.00" y1="147.60" x2="560.70" y2="147.60" stroke="#444" stroke-width="0.6" />
<text x="557.50" y="148.93" font-size="3.7" text-anchor="end" font-family='"Liberation Sans", sans-serif' font-weight="bold" fill="#111"  stroke="#111" stroke-width="0.12">1.0</text>
<line x1="559.70" y1="237.33" x2="560.70" y2="237.33" stroke="#555" stroke-width="0.5" />
<line x1="559.70" y1="217.39" x2="560.70" y2="217.39" stroke="#555" stroke-width="0.5" />
<line x1="559.70" y1="197.45" x2="560.70" y2="197.45" stroke="#555" stroke-width="0.5" />
<line x1="559.70" y1="177.51" x2="560.70" y2="177.51" stroke="#555" stroke-width="0.5" />
<line x1="559.70" y1="157.57" x2="560.70" y2="157.57" stroke="#555" stroke-width="0.5" />
<line x1="591.60" y1="247.30" x2="591.60" y2="248.80" stroke="#444" stroke-width="0.6" />
<line x1="653.60" y1="247.30" x2="653.60" y2="248.80" stroke="#444" stroke-width="0.6" />
<text x="591.60" y="253.60" font-size="4.3" text-anchor="middle" font-family='"Liberation Sans", sans-serif' font-weight="bold" fill="#111"  stroke="#111" stroke-width="0.12">WPLP</text>
<text x="653.60" y="253.60" font-size="4.3" text-anchor="middle" font-family='"Liberation Sans", sans-serif' font-weight="bold" fill="#111"  stroke="#111" stroke-width="0.12">NPLP</text>
<text x="548.60" y="197.45" font-size="5.0" text-anchor="middle" font-family='"Liberation Serif", serif' font-weight="bold" fill="#111" transform="rotate(-90 548.60 197.45)"  textLength="56.1" lengthAdjust="spacingAndGlyphs" stroke="#111" stroke-width="0.12">C<tspan font-size="3.2" dy="1.2">12</tspan><tspan dy="-1.2">/Not-set BAs in Serum</tspan></text>
<line x1="18.50" y1="286.40" x2="18.50" y2="386.50" stroke="#444" stroke-width="0.9" />
<line x1="18.10" y1="386.10" x2="142.50" y2="386.10" stroke="#444" stroke-width="0.95" />
<line x1="16.80" y1="386.10" x2="18.50" y2="386.10" stroke="#444" stroke-width="0.6" />
<text x="15.30" y="387.54" font-size="4.0" text-anchor="end" font-family='"Liberation Serif", serif' font-weight="bold" fill="#111"  stroke="#111" stroke-width="0.12">0</text>
<line x1="16.80" y1="366.16" x2="18.50" y2="366.16" stroke="#444" stroke-width="0.6" />
<text x="15.30" y="367.60" font-size="4.0" text-anchor="end" font-family='"Liberation Serif", serif' font-weight="bold" fill="#111"  stroke="#111" stroke-width="0.12">500</text>
<line x1="16.80" y1="346.22" x2="18.50" y2="346.22" stroke="#444" stroke-width="0.6" />
<text x="15.30" y="347.66" font-size="4.0" text-anchor="end" font-family='"Liberation Serif", serif' font-weight="bold" fill="#111"  stroke="#111" stroke-width="0.12">1000</text>
<line x1="16.80" y1="326.28" x2="18.50" y2="326.28" stroke="#444" stroke-width="0.6" />
<text x="15.30" y="327.72" font-size="4.0" text-anchor="end" font-family='"Liberation Serif", serif' font-weight="bold" fill="#111"  stroke="#111" stroke-width="0.12">1500</text>
<line x1="16.80" y1="306.34" x2="18.50" y2="306.34" stroke="#444" stroke-width="0.6" />
<text x="15.30" y="307.78" font-size="4.0" text-anchor="end" font-family='"Liberation Serif", serif' font-weight="bold" fill="#111"  stroke="#111" stroke-width="0.12">2000</text>
<line x1="16.80" y1="286.40" x2="18.50" y2="286.40" stroke="#444" stroke-width="0.6" />
<text x="15.30" y="287.84" font-size="4.0" text-anchor="end" font-family='"Liberation Serif", serif' font-weight="bold" fill="#111"  stroke="#111" stroke-width="0.12">2500</text>
<line x1="17.50" y1="376.13" x2="18.50" y2="376.13" stroke="#555" stroke-width="0.5" />
<line x1="17.50" y1="356.19" x2="18.50" y2="356.19" stroke="#555" stroke-width="0.5" />
<line x1="17.50" y1="336.25" x2="18.50" y2="336.25" stroke="#555" stroke-width="0.5" />
<line x1="17.50" y1="316.31" x2="18.50" y2="316.31" stroke="#555" stroke-width="0.5" />
<line x1="17.50" y1="296.37" x2="18.50" y2="296.37" stroke="#555" stroke-width="0.5" />
<line x1="49.40" y1="386.10" x2="49.40" y2="387.60" stroke="#444" stroke-width="0.6" />
<line x1="80.40" y1="386.10" x2="80.40" y2="387.60" stroke="#444" stroke-width="0.6" />
<line x1="111.40" y1="386.10" x2="111.40" y2="387.60" stroke="#444" stroke-width="0.6" />
<text x="49.40" y="392.40" font-size="4.3" text-anchor="middle" font-family='"Liberation Sans", sans-serif' font-weight="bold" fill="#111"  stroke="#111" stroke-width="0.12">WPLP</text>
<text x="111.40" y="392.40" font-size="4.3" text-anchor="middle" font-family='"Liberation Sans", sans-serif' font-weight="bold" fill="#111"  stroke="#111" stroke-width="0.12">NPLP</text>
<text x="6.00" y="335.95" font-size="4.2" text-anchor="middle" font-family='"Liberation Serif", serif' font-weight="bold" fill="#111" transform="rotate(-90 6.00 335.95)"  textLength="51.5" lengthAdjust="spacingAndGlyphs" stroke="#111" stroke-width="0.12">Total BAs in Serum (ng/mL)</text>
<rect x="37.20" y="306.00" width="24.80" height="80.55" fill="#8c8c50" stroke="#555" stroke-width="0.25" />
<rect x="37.20" y="326.10" width="24.80" height="60.45" fill="#505a37" stroke="#555" stroke-width="0.25" />
<rect x="99.00" y="302.20" width="25.00" height="84.35" fill="#8c8c50" stroke="#555" stroke-width="0.25" />
<rect x="99.00" y="338.10" width="25.00" height="48.45" fill="#505a37" stroke="#555" stroke-width="0.25" />
<text x="16.10" y="281.30" font-size="5.4" text-anchor="start" font-family='"Liberation Serif", serif' font-weight="bold" fill="#111"  stroke="#111" stroke-width="0.12">C</text>
<rect x="58.30" y="278.30" width="8.30" height="3.80" fill="#8c8c50" stroke="#555" stroke-width="0.3" />
<text x="67.70" y="281.30" font-size="3.5" text-anchor="start" font-family='"Liberation Serif", serif' font-weight="normal" fill="#444"  stroke="#444" stroke-width="0.04">Non-set BAs</text>
<rect x="89.30" y="278.30" width="8.30" height="3.80" fill="#505a37" stroke="#333" stroke-width="0.3" />
<text x="98.70" y="281.30" font-size="3.5" text-anchor="start" font-family='"Liberation Serif", serif' font-weight="normal" fill="#444"  stroke="#444" stroke-width="0.04">Set BAs</text>
<line x1="228.05" y1="302.20" x2="228.05" y2="304.20" stroke="#6a6af5" stroke-width="0.65" />
<line x1="224.95" y1="302.20" x2="231.15" y2="302.20" stroke="#6a6af5" stroke-width="0.65" />
<rect x="215.50" y="304.20" width="25.10" height="81.90" fill="#8080ff" stroke="#6a6af5" stroke-width="0.5" />
<line x1="290.10" y1="310.20" x2="290.10" y2="313.00" stroke="#f56a6a" stroke-width="0.65" />
<line x1="287.00" y1="310.20" x2="293.20" y2="310.20" stroke="#f56a6a" stroke-width="0.65" />
<rect x="277.50" y="313.00" width="25.20" height="73.10" fill="#ff8080" stroke="#f56a6a" stroke-width="0.5" />
<line x1="197.10" y1="286.40" x2="197.10" y2="386.50" stroke="#444" stroke-width="0.9" />
<line x1="196.70" y1="386.10" x2="321.10" y2="386.10" stroke="#444" stroke-width="0.95" />
<line x1="195.40" y1="386.10" x2="197.10" y2="386.10" stroke="#444" stroke-width="0.6" />
<text x="193.90" y="387.72" font-size="4.5" text-anchor="end" font-family='"Liberation Sans", sans-serif' font-weight="bold" fill="#111"  stroke="#111" stroke-width="0.12">0</text>
<line x1="195.40" y1="366.16" x2="197.10" y2="366.16" stroke="#444" stroke-width="0.6" />
<text x="193.90" y="367.78" font-size="4.5" text-anchor="end" font-family='"Liberation Sans", sans-serif' font-weight="bold" fill="#111"  stroke="#111" stroke-width="0.12">1</text>
<line x1="195.40" y1="346.22" x2="197.10" y2="346.22" stroke="#444" stroke-width="0.6" />
<text x="193.90" y="347.84" font-size="4.5" text-anchor="end" font-family='"Liberation Sans", sans-serif' font-weight="bold" fill="#111"  stroke="#111" stroke-width="0.12">2</text>
<line x1="195.40" y1="326.28" x2="197.10" y2="326.28" stroke="#444" stroke-width="0.6" />
<text x="193.90" y="327.90" font-size="4.5" text-anchor="end" font-family='"Liberation Sans", sans-serif' font-weight="bold" fill="#111"  stroke="#111" stroke-width="0.12">3</text>
<line x1="195.40" y1="306.34" x2="197.10" y2="306.34" stroke="#444" stroke-width="0.6" />
<text x="193.90" y="307.96" font-size="4.5" text-anchor="end" font-family='"Liberation Sans", sans-serif' font-weight="bold" fill="#111"  stroke="#111" stroke-width="0.12">4</text>
<line x1="195.40" y1="286.40" x2="197.10" y2="286.40" stroke="#444" stroke-width="0.6" />
<text x="193.90" y="288.02" font-size="4.5" text-anchor="end" font-family='"Liberation Sans", sans-serif' font-weight="bold" fill="#111"  stroke="#111" stroke-width="0.12">5</text>
<line x1="196.10" y1="376.13" x2="197.10" y2="376.13" stroke="#555" stroke-width="0.5" />
<line x1="196.10" y1="356.19" x2="197.10" y2="356.19" stroke="#555" stroke-width="0.5" />
<line x1="196.10" y1="336.25" x2="197.10" y2="336.25" stroke="#555" stroke-width="0.5" />
<line x1="196.10" y1="316.31" x2="197.10" y2="316.31" stroke="#555" stroke-width="0.5" />
<line x1="196.10" y1="296.37" x2="197.10" y2="296.37" stroke="#555" stroke-width="0.5" />
<line x1="228.00" y1="386.10" x2="228.00" y2="387.60" stroke="#444" stroke-width="0.6" />
<line x1="290.00" y1="386.10" x2="290.00" y2="387.60" stroke="#444" stroke-width="0.6" />
<text x="228.00" y="392.40" font-size="4.3" text-anchor="middle" font-family='"Liberation Sans", sans-serif' font-weight="bold" fill="#111"  stroke="#111" stroke-width="0.12">WPLP</text>
<text x="290.00" y="392.40" font-size="4.3" text-anchor="middle" font-family='"Liberation Sans", sans-serif' font-weight="bold" fill="#111"  stroke="#111" stroke-width="0.12">NPLP</text>
<text x="189.30" y="334.95" font-size="5.0" text-anchor="middle" font-family='"Liberation Serif", serif' font-weight="bold" fill="#111" transform="rotate(-90 189.30 334.95)"  textLength="58.5" lengthAdjust="spacingAndGlyphs" stroke="#111" stroke-width="0.12">C<tspan font-size="3.2" dy="1.2">12</tspan><tspan dy="-1.2">/Not-set BAs in Serum</tspan></text>
<line x1="378.20" y1="286.40" x2="378.20" y2="386.50" stroke="#444" stroke-width="0.9" />
<line x1="377.80" y1="386.10" x2="502.20" y2="386.10" stroke="#444" stroke-width="0.95" />
<line x1="376.50" y1="386.10" x2="378.20" y2="386.10" stroke="#444" stroke-width="0.6" />
<text x="375.00" y="387.36" font-size="3.5" text-anchor="end" font-family='"Liberation Sans", sans-serif' font-weight="bold" fill="#111"  stroke="#111" stroke-width="0.12">0</text>
<line x1="376.50" y1="363.93" x2="378.20" y2="363.93" stroke="#444" stroke-width="0.6" />
<text x="375.00" y="365.19" font-size="3.5" text-anchor="end" font-family='"Liberation Sans", sans-serif' font-weight="bold" fill="#111"  stroke="#111" stroke-width="0.12">500</text>
<line x1="376.50" y1="341.75" x2="378.20" y2="341.75" stroke="#444" stroke-width="0.6" />
<text x="375.00" y="343.01" font-size="3.5" text-anchor="end" font-family='"Liberation Sans", sans-serif' font-weight="bold" fill="#111"  stroke="#111" stroke-width="0.12">1000</text>
<line x1="376.50" y1="319.57" x2="378.20" y2="319.57" stroke="#444" stroke-width="0.6" />
<text x="375.00" y="320.83" font-size="3.5" text-anchor="end" font-family='"Liberation Sans", sans-serif' font-weight="bold" fill="#111"  stroke="#111" stroke-width="0.12">1500</text>
<line x1="376.50" y1="297.40" x2="378.20" y2="297.40" stroke="#444" stroke-width="0.6" />
<text x="375.00" y="298.66" font-size="3.5" text-anchor="end" font-family='"Liberation Sans", sans-serif' font-weight="bold" fill="#111"  stroke="#111" stroke-width="0.12">2000</text>
<line x1="377.20" y1="375.01" x2="378.20" y2="375.01" stroke="#555" stroke-width="0.5" />
<line x1="377.20" y1="352.84" x2="378.20" y2="352.84" stroke="#555" stroke-width="0.5" />
<line x1="377.20" y1="330.66" x2="378.20" y2="330.66" stroke="#555" stroke-width="0.5" />
<line x1="377.20" y1="308.49" x2="378.20" y2="308.49" stroke="#555" stroke-width="0.5" />
<line x1="409.10" y1="386.10" x2="409.10" y2="387.60" stroke="#444" stroke-width="0.6" />
<line x1="440.10" y1="386.10" x2="440.10" y2="387.60" stroke="#444" stroke-width="0.6" />
<line x1="471.10" y1="386.10" x2="471.10" y2="387.60" stroke="#444" stroke-width="0.6" />
<text x="409.10" y="392.40" font-size="4.3" text-anchor="middle" font-family='"Liberation Sans", sans-serif' font-weight="bold" fill="#111"  stroke="#111" stroke-width="0.12">WPLP</text>
<text x="471.10" y="392.40" font-size="4.3" text-anchor="middle" font-family='"Liberation Sans", sans-serif' font-weight="bold" fill="#111"  stroke="#111" stroke-width="0.12">NPLP</text>
<text x="364.20" y="335.95" font-size="4.2" text-anchor="middle" font-family='"Liberation Serif", serif' font-weight="bold" fill="#111" transform="rotate(-90 364.20 335.95)"  textLength="51.5" lengthAdjust="spacingAndGlyphs" stroke="#111" stroke-width="0.12">Total BAs in Serum (ng/mL)</text>
<rect x="396.80" y="302.20" width="25.10" height="84.35" fill="#4bbed2" stroke="#555" stroke-width="0.25" />
<rect x="396.80" y="346.20" width="25.10" height="40.35" fill="#288291" stroke="#555" stroke-width="0.25" />
<rect x="458.60" y="302.20" width="25.40" height="84.35" fill="#4bbed2" stroke="#555" stroke-width="0.25" />
<rect x="458.60" y="350.20" width="25.40" height="36.35" fill="#288291" stroke="#555" stroke-width="0.25" />
<text x="376.10" y="281.10" font-size="4.9" text-anchor="start" font-family='"Liberation Sans", sans-serif' font-weight="normal" fill="#444"  stroke="#444" stroke-width="0.12">F</text>
<rect x="418.00" y="278.40" width="8.30" height="3.80" fill="#4bbed2" stroke="#555" stroke-width="0.3" />
<text x="427.40" y="281.40" font-size="3.5" text-anchor="start" font-family='"Liberation Serif", serif' font-weight="normal" fill="#444"  stroke="#444" stroke-width="0.04">Non-set BAs</text>
<rect x="449.00" y="278.40" width="8.30" height="3.80" fill="#288291" stroke="#333" stroke-width="0.3" />
<text x="458.40" y="281.40" font-size="3.5" text-anchor="start" font-family='"Liberation Serif", serif' font-weight="normal" fill="#444"  stroke="#444" stroke-width="0.04">Set BAs</text>
<text x="468.40" y="322.00" font-size="3.6" text-anchor="middle" font-family='"Liberation Sans", sans-serif' font-weight="normal" fill="#111"  stroke="#111" stroke-width="0.12">★</text>
<text x="474.20" y="322.00" font-size="3.6" text-anchor="middle" font-family='"Liberation Sans", sans-serif' font-weight="normal" fill="#111"  stroke="#111" stroke-width="0.12">★</text>
<line x1="589.30" y1="310.20" x2="589.30" y2="313.00" stroke="#6a6af5" stroke-width="0.65" />
<line x1="586.20" y1="310.20" x2="592.40" y2="310.20" stroke="#6a6af5" stroke-width="0.65" />
<rect x="576.60" y="313.00" width="25.40" height="73.10" fill="#8080ff" stroke="#6a6af5" stroke-width="0.5" />
<line x1="651.20" y1="302.20" x2="651.20" y2="304.20" stroke="#f56a6a" stroke-width="0.65" />
<line x1="648.10" y1="302.20" x2="654.30" y2="302.20" stroke="#f56a6a" stroke-width="0.65" />
<rect x="638.60" y="304.20" width="25.20" height="81.90" fill="#ff8080" stroke="#f56a6a" stroke-width="0.5" />
<line x1="558.20" y1="286.40" x2="558.20" y2="386.50" stroke="#444" stroke-width="0.9" />
<line x1="557.80" y1="386.10" x2="682.00" y2="386.10" stroke="#444" stroke-width="0.95" />
<line x1="556.50" y1="386.10" x2="558.20" y2="386.10" stroke="#444" stroke-width="0.6" />
<text x="555.00" y="387.72" font-size="4.5" text-anchor="end" font-family='"Liberation Sans", sans-serif' font-weight="bold" fill="#111"  stroke="#111" stroke-width="0.12">0</text>
<line x1="556.50" y1="366.16" x2="558.20" y2="366.16" stroke="#444" stroke-width="0.6" />
<text x="555.00" y="367.78" font-size="4.5" text-anchor="end" font-family='"Liberation Sans", sans-serif' font-weight="bold" fill="#111"  stroke="#111" stroke-width="0.12">1</text>
<line x1="556.50" y1="346.22" x2="558.20" y2="346.22" stroke="#444" stroke-width="0.6" />
<text x="555.00" y="347.84" font-size="4.5" text-anchor="end" font-family='"Liberation Sans", sans-serif' font-weight="bold" fill="#111"  stroke="#111" stroke-width="0.12">2</text>
<line x1="556.50" y1="326.28" x2="558.20" y2="326.28" stroke="#444" stroke-width="0.6" />
<text x="555.00" y="327.90" font-size="4.5" text-anchor="end" font-family='"Liberation Sans", sans-serif' font-weight="bold" fill="#111"  stroke="#111" stroke-width="0.12">3</text>
<line x1="556.50" y1="306.34" x2="558.20" y2="306.34" stroke="#444" stroke-width="0.6" />
<text x="555.00" y="307.96" font-size="4.5" text-anchor="end" font-family='"Liberation Sans", sans-serif' font-weight="bold" fill="#111"  stroke="#111" stroke-width="0.12">4</text>
<line x1="556.50" y1="286.40" x2="558.20" y2="286.40" stroke="#444" stroke-width="0.6" />
<text x="555.00" y="288.02" font-size="4.5" text-anchor="end" font-family='"Liberation Sans", sans-serif' font-weight="bold" fill="#111"  stroke="#111" stroke-width="0.12">5</text>
<line x1="557.20" y1="376.13" x2="558.20" y2="376.13" stroke="#555" stroke-width="0.5" />
<line x1="557.20" y1="356.19" x2="558.20" y2="356.19" stroke="#555" stroke-width="0.5" />
<line x1="557.20" y1="336.25" x2="558.20" y2="336.25" stroke="#555" stroke-width="0.5" />
<line x1="557.20" y1="316.31" x2="558.20" y2="316.31" stroke="#555" stroke-width="0.5" />
<line x1="557.20" y1="296.37" x2="558.20" y2="296.37" stroke="#555" stroke-width="0.5" />
<line x1="589.10" y1="386.10" x2="589.10" y2="387.60" stroke="#444" stroke-width="0.6" />
<line x1="651.10" y1="386.10" x2="651.10" y2="387.60" stroke="#444" stroke-width="0.6" />
<text x="589.10" y="392.40" font-size="4.3" text-anchor="middle" font-family='"Liberation Sans", sans-serif' font-weight="bold" fill="#111"  stroke="#111" stroke-width="0.12">WPLP</text>
<text x="651.10" y="392.40" font-size="4.3" text-anchor="middle" font-family='"Liberation Sans", sans-serif' font-weight="bold" fill="#111"  stroke="#111" stroke-width="0.12">NPLP</text>
<text x="549.90" y="335.95" font-size="5.0" text-anchor="middle" font-family='"Liberation Serif", serif' font-weight="bold" fill="#111" transform="rotate(-90 549.90 335.95)"  textLength="56.5" lengthAdjust="spacingAndGlyphs" stroke="#111" stroke-width="0.12">C<tspan font-size="3.2" dy="1.2">12</tspan><tspan dy="-1.2">/Not-set BAs in Serum</tspan></text>
<text x="648.70" y="319.00" font-size="3.6" text-anchor="middle" font-family='"Liberation Sans", sans-serif' font-weight="normal" fill="#111"  stroke="#111" stroke-width="0.12">★</text>
<text x="654.50" y="319.00" font-size="3.6" text-anchor="middle" font-family='"Liberation Sans", sans-serif' font-weight="normal" fill="#111"  stroke="#111" stroke-width="0.12">★</text>
<rect x="18.30" y="424.40" width="124.40" height="100.00" fill="none" stroke="#6a6a6a" stroke-width="0.75" />
<line x1="17.00" y1="515.83" x2="18.30" y2="515.83" stroke="#555" stroke-width="0.4" />
<text x="15.90" y="516.88" font-size="3.1" text-anchor="end" font-family='"Liberation Serif", serif' font-weight="bold" fill="#111"  stroke="#111" stroke-width="0.12">0</text>
<line x1="17.00" y1="499.25" x2="18.30" y2="499.25" stroke="#555" stroke-width="0.4" />
<text x="15.90" y="500.30" font-size="3.1" text-anchor="end" font-family='"Liberation Serif", serif' font-weight="bold" fill="#111"  stroke="#111" stroke-width="0.12">2000</text>
<line x1="17.00" y1="482.66" x2="18.30" y2="482.66" stroke="#555" stroke-width="0.4" />
<text x="15.90" y="483.71" font-size="3.1" text-anchor="end" font-family='"Liberation Serif", serif' font-weight="bold" fill="#111"  stroke="#111" stroke-width="0.12">4000</text>
<line x1="17.00" y1="466.33" x2="18.30" y2="466.33" stroke="#555" stroke-width="0.4" />
<text x="15.90" y="467.38" font-size="3.1" text-anchor="end" font-family='"Liberation Serif", serif' font-weight="bold" fill="#111"  stroke="#111" stroke-width="0.12">6000</text>
<line x1="17.00" y1="449.50" x2="18.30" y2="449.50" stroke="#555" stroke-width="0.4" />
<text x="15.90" y="450.55" font-size="3.1" text-anchor="end" font-family='"Liberation Serif", serif' font-weight="bold" fill="#111"  stroke="#111" stroke-width="0.12">8000</text>
<line x1="17.00" y1="432.91" x2="18.30" y2="432.91" stroke="#555" stroke-width="0.4" />
<text x="15.90" y="433.96" font-size="3.1" text-anchor="end" font-family='"Liberation Serif", serif' font-weight="bold" fill="#111"  stroke="#111" stroke-width="0.12">10000</text>
<line x1="17.50" y1="507.54" x2="18.30" y2="507.54" stroke="#555" stroke-width="0.35" />
<line x1="17.50" y1="490.95" x2="18.30" y2="490.95" stroke="#555" stroke-width="0.35" />
<line x1="17.50" y1="474.50" x2="18.30" y2="474.50" stroke="#555" stroke-width="0.35" />
<line x1="17.50" y1="457.91" x2="18.30" y2="457.91" stroke="#555" stroke-width="0.35" />
<line x1="17.50" y1="441.21" x2="18.30" y2="441.21" stroke="#555" stroke-width="0.35" />
<line x1="31.20" y1="524.40" x2="31.20" y2="525.70" stroke="#555" stroke-width="0.4" />
<text x="31.20" y="531.40" font-size="3.6" text-anchor="middle" font-family='"Liberation Serif", serif' font-weight="bold" fill="#111"  stroke="#111" stroke-width="0.12">CA</text>
<line x1="56.00" y1="524.40" x2="56.00" y2="525.70" stroke="#555" stroke-width="0.4" />
<text x="56.00" y="531.40" font-size="3.6" text-anchor="middle" font-family='"Liberation Serif", serif' font-weight="bold" fill="#111"  stroke="#111" stroke-width="0.12">CDCA</text>
<line x1="80.70" y1="524.40" x2="80.70" y2="525.70" stroke="#555" stroke-width="0.4" />
<text x="80.70" y="531.40" font-size="3.6" text-anchor="middle" font-family='"Liberation Serif", serif' font-weight="bold" fill="#111"  stroke="#111" stroke-width="0.12">UDC</text>
<line x1="105.50" y1="524.40" x2="105.50" y2="525.70" stroke="#555" stroke-width="0.4" />
<text x="105.50" y="531.40" font-size="3.6" text-anchor="middle" font-family='"Liberation Serif", serif' font-weight="bold" fill="#111"  stroke="#111" stroke-width="0.12">HDCA</text>
<line x1="130.20" y1="524.40" x2="130.20" y2="525.70" stroke="#555" stroke-width="0.4" />
<text x="130.20" y="531.40" font-size="3.6" text-anchor="middle" font-family='"Liberation Serif", serif' font-weight="bold" fill="#111"  stroke="#111" stroke-width="0.12">DCA</text>
<line x1="26.30" y1="457.29" x2="26.30" y2="504.27" stroke="#6868f2" stroke-width="0.5" />
<rect x="23.10" y="469.35" width="6.40" height="20.10" fill="#8080ff" stroke="#6868f2" stroke-width="0.35" fill-opacity="0.38"/>
<line x1="23.10" y1="477.89" x2="29.50" y2="477.89" stroke="#6868f2" stroke-width="0.4" />
<circle cx="26.4" cy="472.5" r="0.68" fill="#6868f2" fill-opacity="0.85"/>
<circle cx="26.4" cy="496.3" r="0.68" fill="#6868f2" fill-opacity="0.85"/>
<circle cx="26.2" cy="476.6" r="0.68" fill="#6868f2" fill-opacity="0.85"/>
<circle cx="26.3" cy="490.7" r="0.68" fill="#6868f2" fill-opacity="0.85"/>
<circle cx="26.2" cy="482.1" r="0.68" fill="#6868f2" fill-opacity="0.85"/>
<circle cx="26.1" cy="474.7" r="0.68" fill="#6868f2" fill-opacity="0.85"/>
<circle cx="26.1" cy="468.8" r="0.68" fill="#6868f2" fill-opacity="0.85"/>
<circle cx="26.2" cy="496.4" r="0.68" fill="#6868f2" fill-opacity="0.85"/>
<circle cx="26.2" cy="490.0" r="0.68" fill="#6868f2" fill-opacity="0.85"/>
<circle cx="26.4" cy="471.5" r="0.68" fill="#6868f2" fill-opacity="0.85"/>
<circle cx="26.5" cy="473.2" r="0.68" fill="#6868f2" fill-opacity="0.85"/>
<circle cx="26.3" cy="488.9" r="0.68" fill="#6868f2" fill-opacity="0.85"/>
<circle cx="26.5" cy="489.7" r="0.68" fill="#6868f2" fill-opacity="0.85"/>
<circle cx="26.5" cy="483.0" r="0.68" fill="#6868f2" fill-opacity="0.85"/>
<circle cx="26.5" cy="472.6" r="0.68" fill="#6868f2" fill-opacity="0.85"/>
<circle cx="26.2" cy="495.2" r="0.68" fill="#6868f2" fill-opacity="0.85"/>
<circle cx="26.2" cy="487.4" r="0.68" fill="#6868f2" fill-opacity="0.85"/>
<circle cx="26.2" cy="468.4" r="0.68" fill="#6868f2" fill-opacity="0.85"/>
<circle cx="26.2" cy="475.4" r="0.68" fill="#6868f2" fill-opacity="0.85"/>
<circle cx="26.2" cy="492.4" r="0.68" fill="#6868f2" fill-opacity="0.85"/>
<circle cx="26.3" cy="472.8" r="0.68" fill="#6868f2" fill-opacity="0.85"/>
<circle cx="26.5" cy="478.4" r="0.68" fill="#6868f2" fill-opacity="0.85"/>
<circle cx="26.4" cy="478.5" r="0.68" fill="#6868f2" fill-opacity="0.85"/>
<circle cx="26.3" cy="502.4" r="0.68" fill="#6868f2" fill-opacity="0.85"/>
<circle cx="26.4" cy="477.0" r="0.68" fill="#6868f2" fill-opacity="0.85"/>
<circle cx="26.4" cy="482.4" r="0.68" fill="#6868f2" fill-opacity="0.85"/>
<circle cx="26.1" cy="491.0" r="0.68" fill="#6868f2" fill-opacity="0.85"/>
<circle cx="26.4" cy="476.6" r="0.68" fill="#6868f2" fill-opacity="0.85"/>
<circle cx="26.5" cy="489.6" r="0.68" fill="#6868f2" fill-opacity="0.85"/>
<circle cx="26.4" cy="490.1" r="0.68" fill="#6868f2" fill-opacity="0.85"/>
<circle cx="26.4" cy="467.8" r="0.68" fill="#6868f2" fill-opacity="0.85"/>
<circle cx="26.3" cy="493.5" r="0.68" fill="#6868f2" fill-opacity="0.85"/>
<circle cx="26.2" cy="496.9" r="0.68" fill="#6868f2" fill-opacity="0.85"/>
<circle cx="26.4" cy="480.4" r="0.68" fill="#6868f2" fill-opacity="0.85"/>
<circle cx="26.2" cy="470.5" r="0.68" fill="#6868f2" fill-opacity="0.85"/>
<circle cx="26.4" cy="484.4" r="0.68" fill="#6868f2" fill-opacity="0.85"/>
<circle cx="26.5" cy="486.0" r="0.68" fill="#6868f2" fill-opacity="0.85"/>
<circle cx="26.3" cy="478.9" r="0.68" fill="#6868f2" fill-opacity="0.85"/>
<circle cx="26.3" cy="457.3" r="0.68" fill="#6868f2" fill-opacity="0.85"/>
<circle cx="26.5" cy="504.3" r="0.68" fill="#6868f2" fill-opacity="0.85"/>
<line x1="36.10" y1="460.30" x2="36.10" y2="508.04" stroke="#f26868" stroke-width="0.5" />
<rect x="32.90" y="476.38" width="6.40" height="19.35" fill="#ff8080" stroke="#f26868" stroke-width="0.35" fill-opacity="0.38"/>
<line x1="32.90" y1="482.41" x2="39.30" y2="482.41" stroke="#f26868" stroke-width="0.4" />
<circle cx="36.0" cy="499.8" r="0.68" fill="#f26868" fill-opacity="0.85"/>
<circle cx="36.2" cy="503.2" r="0.68" fill="#f26868" fill-opacity="0.85"/>
<circle cx="36.2" cy="479.5" r="0.68" fill="#f26868" fill-opacity="0.85"/>
<circle cx="36.2" cy="489.4" r="0.68" fill="#f26868" fill-opacity="0.85"/>
<circle cx="36.1" cy="483.5" r="0.68" fill="#f26868" fill-opacity="0.85"/>
<circle cx="36.0" cy="476.2" r="0.68" fill="#f26868" fill-opacity="0.85"/>
<circle cx="35.9" cy="488.4" r="0.68" fill="#f26868" fill-opacity="0.85"/>
<circle cx="36.0" cy="483.6" r="0.68" fill="#f26868" fill-opacity="0.85"/>
<circle cx="35.9" cy="505.5" r="0.68" fill="#f26868" fill-opacity="0.85"/>
<circle cx="36.2" cy="469.9" r="0.68" fill="#f26868" fill-opacity="0.85"/>
<circle cx="36.0" cy="478.2" r="0.68" fill="#f26868" fill-opacity="0.85"/>
<circle cx="36.0" cy="477.7" r="0.68" fill="#f26868" fill-opacity="0.85"/>
<circle cx="35.9" cy="490.3" r="0.68" fill="#f26868" fill-opacity="0.85"/>
<circle cx="36.2" cy="486.8" r="0.68" fill="#f26868" fill-opacity="0.85"/>
<circle cx="36.2" cy="483.5" r="0.68" fill="#f26868" fill-opacity="0.85"/>
<circle cx="36.2" cy="488.0" r="0.68" fill="#f26868" fill-opacity="0.85"/>
<circle cx="36.0" cy="487.8" r="0.68" fill="#f26868" fill-opacity="0.85"/>
<circle cx="36.0" cy="465.6" r="0.68" fill="#f26868" fill-opacity="0.85"/>
<circle cx="36.0" cy="470.7" r="0.68" fill="#f26868" fill-opacity="0.85"/>
<circle cx="36.1" cy="501.2" r="0.68" fill="#f26868" fill-opacity="0.85"/>
<circle cx="36.0" cy="491.9" r="0.68" fill="#f26868" fill-opacity="0.85"/>
<circle cx="36.1" cy="493.2" r="0.68" fill="#f26868" fill-opacity="0.85"/>
<circle cx="36.0" cy="503.6" r="0.68" fill="#f26868" fill-opacity="0.85"/>
<circle cx="36.3" cy="500.8" r="0.68" fill="#f26868" fill-opacity="0.85"/>
<circle cx="36.3" cy="501.7" r="0.68" fill="#f26868" fill-opacity="0.85"/>
<circle cx="36.1" cy="471.4" r="0.68" fill="#f26868" fill-opacity="0.85"/>
<circle cx="36.0" cy="493.0" r="0.68" fill="#f26868" fill-opacity="0.85"/>
<circle cx="36.3" cy="480.9" r="0.68" fill="#f26868" fill-opacity="0.85"/>
<circle cx="36.0" cy="467.8" r="0.68" fill="#f26868" fill-opacity="0.85"/>
<circle cx="36.0" cy="485.8" r="0.68" fill="#f26868" fill-opacity="0.85"/>
<circle cx="35.9" cy="481.6" r="0.68" fill="#f26868" fill-opacity="0.85"/>
<circle cx="36.1" cy="477.2" r="0.68" fill="#f26868" fill-opacity="0.85"/>
<circle cx="36.1" cy="489.5" r="0.68" fill="#f26868" fill-opacity="0.85"/>
<circle cx="36.1" cy="472.7" r="0.68" fill="#f26868" fill-opacity="0.85"/>
<circle cx="36.0" cy="488.2" r="0.68" fill="#f26868" fill-opacity="0.85"/>
<circle cx="36.1" cy="498.1" r="0.68" fill="#f26868" fill-opacity="0.85"/>
<circle cx="35.9" cy="493.5" r="0.68" fill="#f26868" fill-opacity="0.85"/>
<circle cx="36.0" cy="476.5" r="0.68" fill="#f26868" fill-opacity="0.85"/>
<circle cx="35.9" cy="460.3" r="0.68" fill="#f26868" fill-opacity="0.85"/>
<circle cx="36.1" cy="508.0" r="0.68" fill="#f26868" fill-opacity="0.85"/>
<line x1="51.10" y1="449.50" x2="51.10" y2="482.91" stroke="#6868f2" stroke-width="0.5" />
<rect x="47.90" y="457.79" width="6.40" height="12.81" fill="#8080ff" stroke="#6868f2" stroke-width="0.35" fill-opacity="0.38"/>
<line x1="47.90" y1="466.08" x2="54.30" y2="466.08" stroke="#6868f2" stroke-width="0.4" />
<circle cx="51.0" cy="461.1" r="0.68" fill="#6868f2" fill-opacity="0.85"/>
<circle cx="51.0" cy="467.0" r="0.68" fill="#6868f2" fill-opacity="0.85"/>
<circle cx="51.1" cy="460.1" r="0.68" fill="#6868f2" fill-opacity="0.85"/>
<circle cx="51.3" cy="452.8" r="0.68" fill="#6868f2" fill-opacity="0.85"/>
<circle cx="51.2" cy="458.5" r="0.68" fill="#6868f2" fill-opacity="0.85"/>
<circle cx="51.1" cy="470.9" r="0.68" fill="#6868f2" fill-opacity="0.85"/>
<circle cx="51.1" cy="476.5" r="0.68" fill="#6868f2" fill-opacity="0.85"/>
<circle cx="51.1" cy="456.7" r="0.68" fill="#6868f2" fill-opacity="0.85"/>
<circle cx="51.1" cy="468.7" r="0.68" fill="#6868f2" fill-opacity="0.85"/>
<circle cx="51.0" cy="472.1" r="0.68" fill="#6868f2" fill-opacity="0.85"/>
<circle cx="50.9" cy="464.5" r="0.68" fill="#6868f2" fill-opacity="0.85"/>
<circle cx="51.0" cy="453.8" r="0.68" fill="#6868f2" fill-opacity="0.85"/>
<circle cx="51.3" cy="470.9" r="0.68" fill="#6868f2" fill-opacity="0.85"/>
<circle cx="51.0" cy="460.6" r="0.68" fill="#6868f2" fill-opacity="0.85"/>
<circle cx="51.1" cy="475.6" r="0.68" fill="#6868f2" fill-opacity="0.85"/>
<circle cx="51.2" cy="469.7" r="0.68" fill="#6868f2" fill-opacity="0.85"/>
<circle cx="51.2" cy="453.9" r="0.68" fill="#6868f2" fill-opacity="0.85"/>
<circle cx="51.0" cy="469.2" r="0.68" fill="#6868f2" fill-opacity="0.85"/>
<circle cx="51.0" cy="479.3" r="0.68" fill="#6868f2" fill-opacity="0.85"/>
<circle cx="51.0" cy="473.5" r="0.68" fill="#6868f2" fill-opacity="0.85"/>
<circle cx="51.1" cy="466.2" r="0.68" fill="#6868f2" fill-opacity="0.85"/>
<circle cx="51.1" cy="454.2" r="0.68" fill="#6868f2" fill-opacity="0.85"/>
<circle cx="51.3" cy="478.0" r="0.68" fill="#6868f2" fill-opacity="0.85"/>
<circle cx="51.2" cy="481.4" r="0.68" fill="#6868f2" fill-opacity="0.85"/>
<circle cx="51.2" cy="473.1" r="0.68" fill="#6868f2" fill-opacity="0.85"/>
<circle cx="50.9" cy="481.4" r="0.68" fill="#6868f2" fill-opacity="0.85"/>
<circle cx="50.9" cy="466.4" r="0.68" fill="#6868f2" fill-opacity="0.85"/>
<circle cx="51.2" cy="471.5" r="0.68" fill="#6868f2" fill-opacity="0.85"/>
<circle cx="51.3" cy="467.0" r="0.68" fill="#6868f2" fill-opacity="0.85"/>
<circle cx="51.1" cy="468.7" r="0.68" fill="#6868f2" fill-opacity="0.85"/>
<circle cx="51.1" cy="472.6" r="0.68" fill="#6868f2" fill-opacity="0.85"/>
<circle cx="50.9" cy="465.7" r="0.68" fill="#6868f2" fill-opacity="0.85"/>
<circle cx="51.1" cy="462.6" r="0.68" fill="#6868f2" fill-opacity="0.85"/>
<circle cx="51.3" cy="459.7" r="0.68" fill="#6868f2" fill-opacity="0.85"/>
<circle cx="51.2" cy="473.9" r="0.68" fill="#6868f2" fill-opacity="0.85"/>
<circle cx="51.2" cy="460.4" r="0.68" fill="#6868f2" fill-opacity="0.85"/>
<circle cx="51.3" cy="476.0" r="0.68" fill="#6868f2" fill-opacity="0.85"/>
<circle cx="51.0" cy="462.7" r="0.68" fill="#6868f2" fill-opacity="0.85"/>
<circle cx="50.9" cy="449.5" r="0.68" fill="#6868f2" fill-opacity="0.85"/>
<circle cx="51.0" cy="482.9" r="0.68" fill="#6868f2" fill-opacity="0.85"/>
<circle cx="51.11" cy="490.95" r="0.78" fill="#6868f2" fill-opacity="1"/>
<circle cx="51.17" cy="495.48" r="0.78" fill="#6868f2" fill-opacity="1"/>
<circle cx="51.28" cy="510.05" r="0.78" fill="#6868f2" fill-opacity="1"/>
<line x1="60.90" y1="453.27" x2="60.90" y2="475.38" stroke="#f26868" stroke-width="0.5" />
<rect x="57.70" y="460.30" width="6.40" height="9.30" fill="#ff8080" stroke="#f26868" stroke-width="0.35" fill-opacity="0.38"/>
<line x1="57.70" y1="465.83" x2="64.10" y2="465.83" stroke="#f26868" stroke-width="0.4" />
<circle cx="61.0" cy="463.6" r="0.68" fill="#f26868" fill-opacity="0.85"/>
<circle cx="61.1" cy="467.3" r="0.68" fill="#f26868" fill-opacity="0.85"/>
<circle cx="60.7" cy="459.0" r="0.68" fill="#f26868" fill-opacity="0.85"/>
<circle cx="60.9" cy="457.0" r="0.68" fill="#f26868" fill-opacity="0.85"/>
<circle cx="61.0" cy="472.2" r="0.68" fill="#f26868" fill-opacity="0.85"/>
<circle cx="61.0" cy="462.1" r="0.68" fill="#f26868" fill-opacity="0.85"/>
<circle cx="61.1" cy="467.3" r="0.68" fill="#f26868" fill-opacity="0.85"/>
<circle cx="60.7" cy="473.8" r="0.68" fill="#f26868" fill-opacity="0.85"/>
<circle cx="60.8" cy="469.3" r="0.68" fill="#f26868" fill-opacity="0.85"/>
<circle cx="60.7" cy="456.9" r="0.68" fill="#f26868" fill-opacity="0.85"/>
<circle cx="60.8" cy="457.9" r="0.68" fill="#f26868" fill-opacity="0.85"/>
<circle cx="61.1" cy="462.7" r="0.68" fill="#f26868" fill-opacity="0.85"/>
<circle cx="60.9" cy="458.1" r="0.68" fill="#f26868" fill-opacity="0.85"/>
<circle cx="61.1" cy="461.0" r="0.68" fill="#f26868" fill-opacity="0.85"/>
<circle cx="60.8" cy="464.3" r="0.68" fill="#f26868" fill-opacity="0.85"/>
<circle cx="61.0" cy="471.3" r="0.68" fill="#f26868" fill-opacity="0.85"/>
<circle cx="60.9" cy="457.0" r="0.68" fill="#f26868" fill-opacity="0.85"/>
<circle cx="60.8" cy="464.1" r="0.68" fill="#f26868" fill-opacity="0.85"/>
<circle cx="61.0" cy="462.5" r="0.68" fill="#f26868" fill-opacity="0.85"/>
<circle cx="61.1" cy="469.3" r="0.68" fill="#f26868" fill-opacity="0.85"/>
<circle cx="60.7" cy="465.7" r="0.68" fill="#f26868" fill-opacity="0.85"/>
<circle cx="60.9" cy="454.7" r="0.68" fill="#f26868" fill-opacity="0.85"/>
<circle cx="60.9" cy="459.7" r="0.68" fill="#f26868" fill-opacity="0.85"/>
<circle cx="60.8" cy="460.2" r="0.68" fill="#f26868" fill-opacity="0.85"/>
<circle cx="60.8" cy="463.7" r="0.68" fill="#f26868" fill-opacity="0.85"/>
<circle cx="60.8" cy="473.4" r="0.68" fill="#f26868" fill-opacity="0.85"/>
<circle cx="60.8" cy="467.2" r="0.68" fill="#f26868" fill-opacity="0.85"/>
<circle cx="60.8" cy="468.5" r="0.68" fill="#f26868" fill-opacity="0.85"/>
<circle cx="60.9" cy="463.8" r="0.68" fill="#f26868" fill-opacity="0.85"/>
<circle cx="61.0" cy="463.9" r="0.68" fill="#f26868" fill-opacity="0.85"/>
<circle cx="60.8" cy="456.1" r="0.68" fill="#f26868" fill-opacity="0.85"/>
<circle cx="60.7" cy="471.0" r="0.68" fill="#f26868" fill-opacity="0.85"/>
<circle cx="60.8" cy="464.9" r="0.68" fill="#f26868" fill-opacity="0.85"/>
<circle cx="61.0" cy="461.2" r="0.68" fill="#f26868" fill-opacity="0.85"/>
<circle cx="60.8" cy="472.7" r="0.68" fill="#f26868" fill-opacity="0.85"/>
<circle cx="60.8" cy="463.3" r="0.68" fill="#f26868" fill-opacity="0.85"/>
<circle cx="60.8" cy="463.5" r="0.68" fill="#f26868" fill-opacity="0.85"/>
<circle cx="61.0" cy="465.7" r="0.68" fill="#f26868" fill-opacity="0.85"/>
<circle cx="60.9" cy="453.3" r="0.68" fill="#f26868" fill-opacity="0.85"/>
<circle cx="60.7" cy="475.4" r="0.68" fill="#f26868" fill-opacity="0.85"/>
<circle cx="60.74" cy="441.46" r="0.78" fill="#f26868" fill-opacity="1"/>
<line x1="75.80" y1="440.95" x2="75.80" y2="470.35" stroke="#6868f2" stroke-width="0.5" />
<rect x="72.60" y="449.50" width="6.40" height="12.81" fill="#8080ff" stroke="#6868f2" stroke-width="0.35" fill-opacity="0.38"/>
<line x1="72.60" y1="457.29" x2="79.00" y2="457.29" stroke="#6868f2" stroke-width="0.4" />
<circle cx="75.7" cy="451.8" r="0.68" fill="#6868f2" fill-opacity="0.85"/>
<circle cx="75.8" cy="450.8" r="0.68" fill="#6868f2" fill-opacity="0.85"/>
<circle cx="75.8" cy="455.6" r="0.68" fill="#6868f2" fill-opacity="0.85"/>
<circle cx="75.7" cy="447.1" r="0.68" fill="#6868f2" fill-opacity="0.85"/>
<circle cx="75.8" cy="449.8" r="0.68" fill="#6868f2" fill-opacity="0.85"/>
<circle cx="75.8" cy="443.0" r="0.68" fill="#6868f2" fill-opacity="0.85"/>
<circle cx="75.7" cy="454.8" r="0.68" fill="#6868f2" fill-opacity="0.85"/>
<circle cx="76.0" cy="443.0" r="0.68" fill="#6868f2" fill-opacity="0.85"/>
<circle cx="75.7" cy="449.0" r="0.68" fill="#6868f2" fill-opacity="0.85"/>
<circle cx="75.7" cy="448.8" r="0.68" fill="#6868f2" fill-opacity="0.85"/>
<circle cx="75.6" cy="444.8" r="0.68" fill="#6868f2" fill-opacity="0.85"/>
<circle cx="75.9" cy="443.7" r="0.68" fill="#6868f2" fill-opacity="0.85"/>
<circle cx="75.9" cy="456.9" r="0.68" fill="#6868f2" fill-opacity="0.85"/>
<circle cx="75.9" cy="450.5" r="0.68" fill="#6868f2" fill-opacity="0.85"/>
<circle cx="75.8" cy="445.9" r="0.68" fill="#6868f2" fill-opacity="0.85"/>
<circle cx="75.7" cy="444.7" r="0.68" fill="#6868f2" fill-opacity="0.85"/>
<circle cx="75.6" cy="459.0" r="0.68" fill="#6868f2" fill-opacity="0.85"/>
<circle cx="75.9" cy="455.3" r="0.68" fill="#6868f2" fill-opacity="0.85"/>
<circle cx="75.8" cy="444.5" r="0.68" fill="#6868f2" fill-opacity="0.85"/>
<circle cx="75.7" cy="460.8" r="0.68" fill="#6868f2" fill-opacity="0.85"/>
<circle cx="75.9" cy="462.3" r="0.68" fill="#6868f2" fill-opacity="0.85"/>
<circle cx="75.8" cy="447.4" r="0.68" fill="#6868f2" fill-opacity="0.85"/>
<circle cx="76.0" cy="453.9" r="0.68" fill="#6868f2" fill-opacity="0.85"/>
<circle cx="75.9" cy="455.8" r="0.68" fill="#6868f2" fill-opacity="0.85"/>
<circle cx="75.7" cy="458.7" r="0.68" fill="#6868f2" fill-opacity="0.85"/>
<circle cx="76.0" cy="450.3" r="0.68" fill="#6868f2" fill-opacity="0.85"/>
<circle cx="75.6" cy="467.3" r="0.68" fill="#6868f2" fill-opacity="0.85"/>
<circle cx="75.8" cy="460.8" r="0.68" fill="#6868f2" fill-opacity="0.85"/>
<circle cx="75.8" cy="466.1" r="0.68" fill="#6868f2" fill-opacity="0.85"/>
<circle cx="75.7" cy="447.2" r="0.68" fill="#6868f2" fill-opacity="0.85"/>
<circle cx="75.6" cy="457.4" r="0.68" fill="#6868f2" fill-opacity="0.85"/>
<circle cx="75.9" cy="456.6" r="0.68" fill="#6868f2" fill-opacity="0.85"/>
<circle cx="75.6" cy="446.5" r="0.68" fill="#6868f2" fill-opacity="0.85"/>
<circle cx="75.8" cy="454.3" r="0.68" fill="#6868f2" fill-opacity="0.85"/>
<circle cx="76.0" cy="456.5" r="0.68" fill="#6868f2" fill-opacity="0.85"/>
<circle cx="75.7" cy="444.2" r="0.68" fill="#6868f2" fill-opacity="0.85"/>
<circle cx="75.7" cy="462.7" r="0.68" fill="#6868f2" fill-opacity="0.85"/>
<circle cx="75.8" cy="444.3" r="0.68" fill="#6868f2" fill-opacity="0.85"/>
<circle cx="75.8" cy="441.0" r="0.68" fill="#6868f2" fill-opacity="0.85"/>
<circle cx="75.9" cy="470.4" r="0.68" fill="#6868f2" fill-opacity="0.85"/>
<circle cx="75.93" cy="482.91" r="0.78" fill="#6868f2" fill-opacity="1"/>
<line x1="85.60" y1="441.46" x2="85.60" y2="482.91" stroke="#f26868" stroke-width="0.5" />
<rect x="82.40" y="455.28" width="6.40" height="12.56" fill="#ff8080" stroke="#f26868" stroke-width="0.35" fill-opacity="0.38"/>
<line x1="82.40" y1="459.80" x2="88.80" y2="459.80" stroke="#f26868" stroke-width="0.4" />
<circle cx="85.7" cy="458.3" r="0.68" fill="#f26868" fill-opacity="0.85"/>
<circle cx="85.4" cy="464.4" r="0.68" fill="#f26868" fill-opacity="0.85"/>
<circle cx="85.8" cy="462.5" r="0.68" fill="#f26868" fill-opacity="0.85"/>
<circle cx="85.4" cy="468.0" r="0.68" fill="#f26868" fill-opacity="0.85"/>
<circle cx="85.6" cy="458.8" r="0.68" fill="#f26868" fill-opacity="0.85"/>
<circle cx="85.8" cy="458.0" r="0.68" fill="#f26868" fill-opacity="0.85"/>
<circle cx="85.7" cy="459.4" r="0.68" fill="#f26868" fill-opacity="0.85"/>
<circle cx="85.7" cy="475.7" r="0.68" fill="#f26868" fill-opacity="0.85"/>
<circle cx="85.6" cy="459.7" r="0.68" fill="#f26868" fill-opacity="0.85"/>
<circle cx="85.5" cy="454.1" r="0.68" fill="#f26868" fill-opacity="0.85"/>
<circle cx="85.7" cy="466.0" r="0.68" fill="#f26868" fill-opacity="0.85"/>
<circle cx="85.4" cy="455.1" r="0.68" fill="#f26868" fill-opacity="0.85"/>
<circle cx="85.5" cy="446.4" r="0.68" fill="#f26868" fill-opacity="0.85"/>
<circle cx="85.6" cy="456.0" r="0.68" fill="#f26868" fill-opacity="0.85"/>
<circle cx="85.4" cy="476.8" r="0.68" fill="#f26868" fill-opacity="0.85"/>
<circle cx="85.6" cy="444.3" r="0.68" fill="#f26868" fill-opacity="0.85"/>
<circle cx="85.7" cy="474.3" r="0.68" fill="#f26868" fill-opacity="0.85"/>
<circle cx="85.7" cy="457.4" r="0.68" fill="#f26868" fill-opacity="0.85"/>
<circle cx="85.6" cy="466.4" r="0.68" fill="#f26868" fill-opacity="0.85"/>
<circle cx="85.7" cy="471.0" r="0.68" fill="#f26868" fill-opacity="0.85"/>
<circle cx="85.6" cy="459.6" r="0.68" fill="#f26868" fill-opacity="0.85"/>
<circle cx="85.5" cy="453.8" r="0.68" fill="#f26868" fill-opacity="0.85"/>
<circle cx="85.6" cy="473.1" r="0.68" fill="#f26868" fill-opacity="0.85"/>
<circle cx="85.6" cy="457.1" r="0.68" fill="#f26868" fill-opacity="0.85"/>
<circle cx="85.7" cy="462.1" r="0.68" fill="#f26868" fill-opacity="0.85"/>
<circle cx="85.8" cy="455.2" r="0.68" fill="#f26868" fill-opacity="0.85"/>
<circle cx="85.6" cy="458.0" r="0.68" fill="#f26868" fill-opacity="0.85"/>
<circle cx="85.6" cy="472.0" r="0.68" fill="#f26868" fill-opacity="0.85"/>
<circle cx="85.7" cy="472.2" r="0.68" fill="#f26868" fill-opacity="0.85"/>
<circle cx="85.6" cy="449.5" r="0.68" fill="#f26868" fill-opacity="0.85"/>
<circle cx="85.5" cy="463.1" r="0.68" fill="#f26868" fill-opacity="0.85"/>
<circle cx="85.7" cy="465.1" r="0.68" fill="#f26868" fill-opacity="0.85"/>
<circle cx="85.8" cy="450.3" r="0.68" fill="#f26868" fill-opacity="0.85"/>
<circle cx="85.7" cy="469.2" r="0.68" fill="#f26868" fill-opacity="0.85"/>
<circle cx="85.7" cy="464.8" r="0.68" fill="#f26868" fill-opacity="0.85"/>
<circle cx="85.7" cy="460.4" r="0.68" fill="#f26868" fill-opacity="0.85"/>
<circle cx="85.7" cy="456.9" r="0.68" fill="#f26868" fill-opacity="0.85"/>
<circle cx="85.7" cy="461.1" r="0.68" fill="#f26868" fill-opacity="0.85"/>
<circle cx="85.6" cy="441.5" r="0.68" fill="#f26868" fill-opacity="0.85"/>
<circle cx="85.5" cy="482.9" r="0.68" fill="#f26868" fill-opacity="0.85"/>
<circle cx="85.65" cy="432.91" r="0.78" fill="#f26868" fill-opacity="1"/>
<circle cx="85.44" cy="503.52" r="0.78" fill="#f26868" fill-opacity="1"/>
<line x1="100.60" y1="486.68" x2="100.60" y2="508.04" stroke="#6868f2" stroke-width="0.5" />
<rect x="97.40" y="492.46" width="6.40" height="11.06" fill="#8080ff" stroke="#6868f2" stroke-width="0.35" fill-opacity="0.38"/>
<line x1="97.40" y1="498.49" x2="103.80" y2="498.49" stroke="#6868f2" stroke-width="0.4" />
<circle cx="100.6" cy="493.9" r="0.68" fill="#6868f2" fill-opacity="0.85"/>
<circle cx="100.6" cy="494.8" r="0.68" fill="#6868f2" fill-opacity="0.85"/>
<circle cx="100.7" cy="494.5" r="0.68" fill="#6868f2" fill-opacity="0.85"/>
<circle cx="100.7" cy="495.6" r="0.68" fill="#6868f2" fill-opacity="0.85"/>
<circle cx="100.6" cy="500.7" r="0.68" fill="#6868f2" fill-opacity="0.85"/>
<circle cx="100.7" cy="495.6" r="0.68" fill="#6868f2" fill-opacity="0.85"/>
<circle cx="100.5" cy="498.8" r="0.68" fill="#6868f2" fill-opacity="0.85"/>
<circle cx="100.7" cy="505.4" r="0.68" fill="#6868f2" fill-opacity="0.85"/>
<circle cx="100.6" cy="497.1" r="0.68" fill="#6868f2" fill-opacity="0.85"/>
<circle cx="100.7" cy="502.3" r="0.68" fill="#6868f2" fill-opacity="0.85"/>
<circle cx="100.4" cy="500.0" r="0.68" fill="#6868f2" fill-opacity="0.85"/>
<circle cx="100.5" cy="504.0" r="0.68" fill="#6868f2" fill-opacity="0.85"/>
<circle cx="100.4" cy="499.4" r="0.68" fill="#6868f2" fill-opacity="0.85"/>
<circle cx="100.7" cy="496.4" r="0.68" fill="#6868f2" fill-opacity="0.85"/>
<circle cx="100.8" cy="503.4" r="0.68" fill="#6868f2" fill-opacity="0.85"/>
<circle cx="100.7" cy="493.6" r="0.68" fill="#6868f2" fill-opacity="0.85"/>
<circle cx="100.5" cy="497.6" r="0.68" fill="#6868f2" fill-opacity="0.85"/>
<circle cx="100.7" cy="502.8" r="0.68" fill="#6868f2" fill-opacity="0.85"/>
<circle cx="100.7" cy="495.5" r="0.68" fill="#6868f2" fill-opacity="0.85"/>
<circle cx="100.6" cy="491.8" r="0.68" fill="#6868f2" fill-opacity="0.85"/>
<circle cx="100.5" cy="504.0" r="0.68" fill="#6868f2" fill-opacity="0.85"/>
<circle cx="100.5" cy="490.1" r="0.68" fill="#6868f2" fill-opacity="0.85"/>
<circle cx="100.6" cy="490.2" r="0.68" fill="#6868f2" fill-opacity="0.85"/>
<circle cx="100.5" cy="501.0" r="0.68" fill="#6868f2" fill-opacity="0.85"/>
<circle cx="100.6" cy="502.8" r="0.68" fill="#6868f2" fill-opacity="0.85"/>
<circle cx="100.7" cy="500.1" r="0.68" fill="#6868f2" fill-opacity="0.85"/>
<circle cx="100.8" cy="492.6" r="0.68" fill="#6868f2" fill-opacity="0.85"/>
<circle cx="100.4" cy="501.3" r="0.68" fill="#6868f2" fill-opacity="0.85"/>
<circle cx="100.6" cy="503.0" r="0.68" fill="#6868f2" fill-opacity="0.85"/>
<circle cx="100.4" cy="498.8" r="0.68" fill="#6868f2" fill-opacity="0.85"/>
<circle cx="100.4" cy="489.0" r="0.68" fill="#6868f2" fill-opacity="0.85"/>
<circle cx="100.7" cy="497.8" r="0.68" fill="#6868f2" fill-opacity="0.85"/>
<circle cx="100.6" cy="500.5" r="0.68" fill="#6868f2" fill-opacity="0.85"/>
<circle cx="100.8" cy="499.1" r="0.68" fill="#6868f2" fill-opacity="0.85"/>
<circle cx="100.6" cy="502.9" r="0.68" fill="#6868f2" fill-opacity="0.85"/>
<circle cx="100.4" cy="495.6" r="0.68" fill="#6868f2" fill-opacity="0.85"/>
<circle cx="100.6" cy="501.8" r="0.68" fill="#6868f2" fill-opacity="0.85"/>
<circle cx="100.6" cy="494.9" r="0.68" fill="#6868f2" fill-opacity="0.85"/>
<circle cx="100.8" cy="486.7" r="0.68" fill="#6868f2" fill-opacity="0.85"/>
<circle cx="100.8" cy="508.0" r="0.68" fill="#6868f2" fill-opacity="0.85"/>
<circle cx="100.59" cy="439.20" r="0.78" fill="#6868f2" fill-opacity="1"/>
<circle cx="100.56" cy="446.98" r="0.78" fill="#6868f2" fill-opacity="1"/>
<circle cx="100.44" cy="462.06" r="0.78" fill="#6868f2" fill-opacity="1"/>
<line x1="110.40" y1="486.68" x2="110.40" y2="511.81" stroke="#f26868" stroke-width="0.5" />
<rect x="107.20" y="491.96" width="6.40" height="10.80" fill="#ff8080" stroke="#f26868" stroke-width="0.35" fill-opacity="0.38"/>
<line x1="107.20" y1="498.49" x2="113.60" y2="498.49" stroke="#f26868" stroke-width="0.4" />
<circle cx="110.2" cy="510.8" r="0.68" fill="#f26868" fill-opacity="0.85"/>
<circle cx="110.3" cy="500.5" r="0.68" fill="#f26868" fill-opacity="0.85"/>
<circle cx="110.3" cy="499.0" r="0.68" fill="#f26868" fill-opacity="0.85"/>
<circle cx="110.2" cy="489.4" r="0.68" fill="#f26868" fill-opacity="0.85"/>
<circle cx="110.4" cy="501.6" r="0.68" fill="#f26868" fill-opacity="0.85"/>
<circle cx="110.3" cy="507.9" r="0.68" fill="#f26868" fill-opacity="0.85"/>
<circle cx="110.3" cy="502.0" r="0.68" fill="#f26868" fill-opacity="0.85"/>
<circle cx="110.3" cy="500.9" r="0.68" fill="#f26868" fill-opacity="0.85"/>
<circle cx="110.5" cy="504.2" r="0.68" fill="#f26868" fill-opacity="0.85"/>
<circle cx="110.2" cy="495.6" r="0.68" fill="#f26868" fill-opacity="0.85"/>
<circle cx="110.5" cy="496.8" r="0.68" fill="#f26868" fill-opacity="0.85"/>
<circle cx="110.3" cy="489.8" r="0.68" fill="#f26868" fill-opacity="0.85"/>
<circle cx="110.2" cy="495.6" r="0.68" fill="#f26868" fill-opacity="0.85"/>
<circle cx="110.6" cy="500.0" r="0.68" fill="#f26868" fill-opacity="0.85"/>
<circle cx="110.3" cy="501.7" r="0.68" fill="#f26868" fill-opacity="0.85"/>
<circle cx="110.6" cy="509.9" r="0.68" fill="#f26868" fill-opacity="0.85"/>
<circle cx="110.5" cy="503.1" r="0.68" fill="#f26868" fill-opacity="0.85"/>
<circle cx="110.6" cy="502.5" r="0.68" fill="#f26868" fill-opacity="0.85"/>
<circle cx="110.3" cy="496.4" r="0.68" fill="#f26868" fill-opacity="0.85"/>
<circle cx="110.4" cy="493.5" r="0.68" fill="#f26868" fill-opacity="0.85"/>
<circle cx="110.2" cy="502.4" r="0.68" fill="#f26868" fill-opacity="0.85"/>
<circle cx="110.6" cy="508.8" r="0.68" fill="#f26868" fill-opacity="0.85"/>
<circle cx="110.5" cy="502.3" r="0.68" fill="#f26868" fill-opacity="0.85"/>
<circle cx="110.5" cy="503.7" r="0.68" fill="#f26868" fill-opacity="0.85"/>
<circle cx="110.4" cy="496.1" r="0.68" fill="#f26868" fill-opacity="0.85"/>
<circle cx="110.3" cy="504.8" r="0.68" fill="#f26868" fill-opacity="0.85"/>
<circle cx="110.5" cy="500.3" r="0.68" fill="#f26868" fill-opacity="0.85"/>
<circle cx="110.4" cy="489.8" r="0.68" fill="#f26868" fill-opacity="0.85"/>
<circle cx="110.5" cy="498.4" r="0.68" fill="#f26868" fill-opacity="0.85"/>
<circle cx="110.3" cy="500.3" r="0.68" fill="#f26868" fill-opacity="0.85"/>
<circle cx="110.3" cy="500.6" r="0.68" fill="#f26868" fill-opacity="0.85"/>
<circle cx="110.2" cy="506.4" r="0.68" fill="#f26868" fill-opacity="0.85"/>
<circle cx="110.5" cy="494.0" r="0.68" fill="#f26868" fill-opacity="0.85"/>
<circle cx="110.4" cy="502.3" r="0.68" fill="#f26868" fill-opacity="0.85"/>
<circle cx="110.3" cy="490.3" r="0.68" fill="#f26868" fill-opacity="0.85"/>
<circle cx="110.5" cy="501.6" r="0.68" fill="#f26868" fill-opacity="0.85"/>
<circle cx="110.3" cy="489.3" r="0.68" fill="#f26868" fill-opacity="0.85"/>
<circle cx="110.4" cy="500.5" r="0.68" fill="#f26868" fill-opacity="0.85"/>
<circle cx="110.3" cy="486.7" r="0.68" fill="#f26868" fill-opacity="0.85"/>
<circle cx="110.3" cy="511.8" r="0.68" fill="#f26868" fill-opacity="0.85"/>
<circle cx="110.54" cy="442.21" r="0.78" fill="#f26868" fill-opacity="1"/>
<circle cx="110.33" cy="457.29" r="0.78" fill="#f26868" fill-opacity="1"/>
<circle cx="110.27" cy="464.57" r="0.78" fill="#f26868" fill-opacity="1"/>
<circle cx="110.40" cy="473.87" r="0.78" fill="#f26868" fill-opacity="1"/>
<line x1="125.30" y1="451.01" x2="125.30" y2="482.91" stroke="#6868f2" stroke-width="0.5" />
<rect x="122.10" y="458.54" width="6.40" height="14.32" fill="#8080ff" stroke="#6868f2" stroke-width="0.35" fill-opacity="0.38"/>
<line x1="122.10" y1="465.33" x2="128.50" y2="465.33" stroke="#6868f2" stroke-width="0.4" />
<circle cx="125.1" cy="472.3" r="0.68" fill="#6868f2" fill-opacity="0.85"/>
<circle cx="125.3" cy="455.1" r="0.68" fill="#6868f2" fill-opacity="0.85"/>
<circle cx="125.4" cy="471.1" r="0.68" fill="#6868f2" fill-opacity="0.85"/>
<circle cx="125.3" cy="473.7" r="0.68" fill="#6868f2" fill-opacity="0.85"/>
<circle cx="125.3" cy="465.0" r="0.68" fill="#6868f2" fill-opacity="0.85"/>
<circle cx="125.4" cy="477.9" r="0.68" fill="#6868f2" fill-opacity="0.85"/>
<circle cx="125.2" cy="474.2" r="0.68" fill="#6868f2" fill-opacity="0.85"/>
<circle cx="125.4" cy="478.5" r="0.68" fill="#6868f2" fill-opacity="0.85"/>
<circle cx="125.3" cy="472.8" r="0.68" fill="#6868f2" fill-opacity="0.85"/>
<circle cx="125.3" cy="462.7" r="0.68" fill="#6868f2" fill-opacity="0.85"/>
<circle cx="125.3" cy="457.9" r="0.68" fill="#6868f2" fill-opacity="0.85"/>
<circle cx="125.3" cy="473.8" r="0.68" fill="#6868f2" fill-opacity="0.85"/>
<circle cx="125.2" cy="463.0" r="0.68" fill="#6868f2" fill-opacity="0.85"/>
<circle cx="125.2" cy="480.8" r="0.68" fill="#6868f2" fill-opacity="0.85"/>
<circle cx="125.2" cy="474.1" r="0.68" fill="#6868f2" fill-opacity="0.85"/>
<circle cx="125.3" cy="475.6" r="0.68" fill="#6868f2" fill-opacity="0.85"/>
<circle cx="125.3" cy="475.6" r="0.68" fill="#6868f2" fill-opacity="0.85"/>
<circle cx="125.3" cy="466.5" r="0.68" fill="#6868f2" fill-opacity="0.85"/>
<circle cx="125.1" cy="465.2" r="0.68" fill="#6868f2" fill-opacity="0.85"/>
<circle cx="125.2" cy="480.8" r="0.68" fill="#6868f2" fill-opacity="0.85"/>
<circle cx="125.4" cy="464.6" r="0.68" fill="#6868f2" fill-opacity="0.85"/>
<circle cx="125.2" cy="480.9" r="0.68" fill="#6868f2" fill-opacity="0.85"/>
<circle cx="125.3" cy="470.9" r="0.68" fill="#6868f2" fill-opacity="0.85"/>
<circle cx="125.3" cy="463.7" r="0.68" fill="#6868f2" fill-opacity="0.85"/>
<circle cx="125.2" cy="455.5" r="0.68" fill="#6868f2" fill-opacity="0.85"/>
<circle cx="125.5" cy="458.7" r="0.68" fill="#6868f2" fill-opacity="0.85"/>
<circle cx="125.2" cy="460.2" r="0.68" fill="#6868f2" fill-opacity="0.85"/>
<circle cx="125.4" cy="463.2" r="0.68" fill="#6868f2" fill-opacity="0.85"/>
<circle cx="125.2" cy="466.7" r="0.68" fill="#6868f2" fill-opacity="0.85"/>
<circle cx="125.1" cy="459.8" r="0.68" fill="#6868f2" fill-opacity="0.85"/>
<circle cx="125.4" cy="468.8" r="0.68" fill="#6868f2" fill-opacity="0.85"/>
<circle cx="125.3" cy="460.0" r="0.68" fill="#6868f2" fill-opacity="0.85"/>
<circle cx="125.1" cy="466.2" r="0.68" fill="#6868f2" fill-opacity="0.85"/>
<circle cx="125.3" cy="465.6" r="0.68" fill="#6868f2" fill-opacity="0.85"/>
<circle cx="125.3" cy="470.8" r="0.68" fill="#6868f2" fill-opacity="0.85"/>
<circle cx="125.4" cy="462.8" r="0.68" fill="#6868f2" fill-opacity="0.85"/>
<circle cx="125.1" cy="475.1" r="0.68" fill="#6868f2" fill-opacity="0.85"/>
<circle cx="125.2" cy="467.1" r="0.68" fill="#6868f2" fill-opacity="0.85"/>
<circle cx="125.5" cy="451.0" r="0.68" fill="#6868f2" fill-opacity="0.85"/>
<circle cx="125.4" cy="482.9" r="0.68" fill="#6868f2" fill-opacity="0.85"/>
<circle cx="125.16" cy="499.25" r="0.78" fill="#6868f2" fill-opacity="1"/>
<line x1="135.10" y1="440.20" x2="135.10" y2="478.39" stroke="#f26868" stroke-width="0.5" />
<rect x="131.90" y="457.29" width="6.40" height="14.32" fill="#ff8080" stroke="#f26868" stroke-width="0.35" fill-opacity="0.38"/>
<line x1="131.90" y1="464.07" x2="138.30" y2="464.07" stroke="#f26868" stroke-width="0.4" />
<circle cx="135.2" cy="452.3" r="0.68" fill="#f26868" fill-opacity="0.85"/>
<circle cx="135.0" cy="467.4" r="0.68" fill="#f26868" fill-opacity="0.85"/>
<circle cx="135.0" cy="465.1" r="0.68" fill="#f26868" fill-opacity="0.85"/>
<circle cx="135.0" cy="471.6" r="0.68" fill="#f26868" fill-opacity="0.85"/>
<circle cx="135.0" cy="441.8" r="0.68" fill="#f26868" fill-opacity="0.85"/>
<circle cx="135.0" cy="460.1" r="0.68" fill="#f26868" fill-opacity="0.85"/>
<circle cx="134.9" cy="462.9" r="0.68" fill="#f26868" fill-opacity="0.85"/>
<circle cx="135.2" cy="464.2" r="0.68" fill="#f26868" fill-opacity="0.85"/>
<circle cx="135.0" cy="468.6" r="0.68" fill="#f26868" fill-opacity="0.85"/>
<circle cx="135.0" cy="453.6" r="0.68" fill="#f26868" fill-opacity="0.85"/>
<circle cx="135.2" cy="451.5" r="0.68" fill="#f26868" fill-opacity="0.85"/>
<circle cx="134.9" cy="472.1" r="0.68" fill="#f26868" fill-opacity="0.85"/>
<circle cx="135.0" cy="446.5" r="0.68" fill="#f26868" fill-opacity="0.85"/>
<circle cx="135.2" cy="465.1" r="0.68" fill="#f26868" fill-opacity="0.85"/>
<circle cx="135.0" cy="455.1" r="0.68" fill="#f26868" fill-opacity="0.85"/>
<circle cx="135.1" cy="462.4" r="0.68" fill="#f26868" fill-opacity="0.85"/>
<circle cx="135.2" cy="450.9" r="0.68" fill="#f26868" fill-opacity="0.85"/>
<circle cx="135.2" cy="456.4" r="0.68" fill="#f26868" fill-opacity="0.85"/>
<circle cx="135.0" cy="459.9" r="0.68" fill="#f26868" fill-opacity="0.85"/>
<circle cx="135.0" cy="473.7" r="0.68" fill="#f26868" fill-opacity="0.85"/>
<circle cx="135.2" cy="464.9" r="0.68" fill="#f26868" fill-opacity="0.85"/>
<circle cx="135.1" cy="454.7" r="0.68" fill="#f26868" fill-opacity="0.85"/>
<circle cx="135.3" cy="450.2" r="0.68" fill="#f26868" fill-opacity="0.85"/>
<circle cx="135.0" cy="443.4" r="0.68" fill="#f26868" fill-opacity="0.85"/>
<circle cx="135.3" cy="453.4" r="0.68" fill="#f26868" fill-opacity="0.85"/>
<circle cx="135.1" cy="451.4" r="0.68" fill="#f26868" fill-opacity="0.85"/>
<circle cx="135.0" cy="464.2" r="0.68" fill="#f26868" fill-opacity="0.85"/>
<circle cx="135.1" cy="461.6" r="0.68" fill="#f26868" fill-opacity="0.85"/>
<circle cx="135.0" cy="446.1" r="0.68" fill="#f26868" fill-opacity="0.85"/>
<circle cx="135.2" cy="444.9" r="0.68" fill="#f26868" fill-opacity="0.85"/>
<circle cx="135.0" cy="461.4" r="0.68" fill="#f26868" fill-opacity="0.85"/>
<circle cx="135.3" cy="458.5" r="0.68" fill="#f26868" fill-opacity="0.85"/>
<circle cx="135.1" cy="473.6" r="0.68" fill="#f26868" fill-opacity="0.85"/>
<circle cx="135.0" cy="472.2" r="0.68" fill="#f26868" fill-opacity="0.85"/>
<circle cx="135.0" cy="463.4" r="0.68" fill="#f26868" fill-opacity="0.85"/>
<circle cx="135.1" cy="458.8" r="0.68" fill="#f26868" fill-opacity="0.85"/>
<circle cx="135.0" cy="465.1" r="0.68" fill="#f26868" fill-opacity="0.85"/>
<circle cx="135.2" cy="469.5" r="0.68" fill="#f26868" fill-opacity="0.85"/>
<circle cx="134.9" cy="440.2" r="0.68" fill="#f26868" fill-opacity="0.85"/>
<circle cx="135.1" cy="478.4" r="0.68" fill="#f26868" fill-opacity="0.85"/>
<circle cx="135.12" cy="499.25" r="0.78" fill="#f26868" fill-opacity="1"/>
<text x="18.30" y="421.00" font-size="5.0" text-anchor="start" font-family='"Liberation Serif", serif' font-weight="bold" fill="#111"  stroke="#111" stroke-width="0.25">G</text>
<text x="6.20" y="474.20" font-size="3.75" text-anchor="middle" font-family='"Liberation Serif", serif' font-weight="bold" fill="#111" transform="rotate(-90 6.20 474.20)"  textLength="89.2" lengthAdjust="spacingAndGlyphs" stroke="#111" stroke-width="0.12">Fecal Concentration of Unconjugated Bile Acids (ng/ml)</text>
<rect x="117.60" y="425.30" width="5.60" height="2.70" fill="#8080ff" stroke="#6868f2" stroke-width="0.3" fill-opacity="0.38"/>
<text x="124.20" y="427.60" font-size="2.7" text-anchor="start" font-family='"Liberation Serif", serif' font-weight="bold" fill="#111"  stroke="#111" stroke-width="0.12">WPLP</text>
<rect x="117.60" y="428.90" width="5.60" height="2.70" fill="#ff8080" stroke="#f26868" stroke-width="0.3" fill-opacity="0.38"/>
<text x="124.20" y="431.20" font-size="2.7" text-anchor="start" font-family='"Liberation Serif", serif' font-weight="bold" fill="#111"  stroke="#111" stroke-width="0.12">NPLP</text>
<circle cx="120.40" cy="433.40" r="0.7" fill="#6868f2"/>
<text x="124.20" y="434.30" font-size="2.7" text-anchor="start" font-family='"Liberation Serif", serif' font-weight="bold" fill="#111"  stroke="#111" stroke-width="0.12">Extreme data</text>
<rect x="199.10" y="424.40" width="124.70" height="100.00" fill="none" stroke="#6a6a6a" stroke-width="0.75" />
<line x1="197.80" y1="515.83" x2="199.10" y2="515.83" stroke="#555" stroke-width="0.4" />
<text x="196.70" y="516.88" font-size="3.1" text-anchor="end" font-family='"Liberation Serif", serif' font-weight="bold" fill="#111"  stroke="#111" stroke-width="0.12">0</text>
<line x1="197.80" y1="499.25" x2="199.10" y2="499.25" stroke="#555" stroke-width="0.4" />
<text x="196.70" y="500.30" font-size="3.1" text-anchor="end" font-family='"Liberation Serif", serif' font-weight="bold" fill="#111"  stroke="#111" stroke-width="0.12">200</text>
<line x1="197.80" y1="482.66" x2="199.10" y2="482.66" stroke="#555" stroke-width="0.4" />
<text x="196.70" y="483.71" font-size="3.1" text-anchor="end" font-family='"Liberation Serif", serif' font-weight="bold" fill="#111"  stroke="#111" stroke-width="0.12">400</text>
<line x1="197.80" y1="466.33" x2="199.10" y2="466.33" stroke="#555" stroke-width="0.4" />
<text x="196.70" y="467.38" font-size="3.1" text-anchor="end" font-family='"Liberation Serif", serif' font-weight="bold" fill="#111"  stroke="#111" stroke-width="0.12">600</text>
<line x1="197.80" y1="449.50" x2="199.10" y2="449.50" stroke="#555" stroke-width="0.4" />
<text x="196.70" y="450.55" font-size="3.1" text-anchor="end" font-family='"Liberation Serif", serif' font-weight="bold" fill="#111"  stroke="#111" stroke-width="0.12">800</text>
<line x1="197.80" y1="432.91" x2="199.10" y2="432.91" stroke="#555" stroke-width="0.4" />
<text x="196.70" y="433.96" font-size="3.1" text-anchor="end" font-family='"Liberation Serif", serif' font-weight="bold" fill="#111"  stroke="#111" stroke-width="0.12">1000</text>
<line x1="198.30" y1="507.54" x2="199.10" y2="507.54" stroke="#555" stroke-width="0.35" />
<line x1="198.30" y1="490.95" x2="199.10" y2="490.95" stroke="#555" stroke-width="0.35" />
<line x1="198.30" y1="474.50" x2="199.10" y2="474.50" stroke="#555" stroke-width="0.35" />
<line x1="198.30" y1="457.91" x2="199.10" y2="457.91" stroke="#555" stroke-width="0.35" />
<line x1="198.30" y1="441.21" x2="199.10" y2="441.21" stroke="#555" stroke-width="0.35" />
<line x1="206.70" y1="524.40" x2="206.70" y2="525.70" stroke="#555" stroke-width="0.4" />
<text x="206.70" y="531.40" font-size="3.1" text-anchor="middle" font-family='"Liberation Serif", serif' font-weight="bold" fill="#111"  stroke="#111" stroke-width="0.12">TCA</text>
<line x1="220.20" y1="524.40" x2="220.20" y2="525.70" stroke="#555" stroke-width="0.4" />
<text x="220.20" y="531.40" font-size="3.1" text-anchor="middle" font-family='"Liberation Serif", serif' font-weight="bold" fill="#111"  stroke="#111" stroke-width="0.12">GCA</text>
<line x1="234.10" y1="524.40" x2="234.10" y2="525.70" stroke="#555" stroke-width="0.4" />
<text x="234.10" y="531.40" font-size="3.1" text-anchor="middle" font-family='"Liberation Serif", serif' font-weight="bold" fill="#111"  stroke="#111" stroke-width="0.12">GCDCA</text>
<line x1="247.90" y1="524.40" x2="247.90" y2="525.70" stroke="#555" stroke-width="0.4" />
<text x="247.90" y="531.40" font-size="3.1" text-anchor="middle" font-family='"Liberation Serif", serif' font-weight="bold" fill="#111"  stroke="#111" stroke-width="0.12">TCDCA</text>
<line x1="261.70" y1="524.40" x2="261.70" y2="525.70" stroke="#555" stroke-width="0.4" />
<text x="261.70" y="531.40" font-size="3.1" text-anchor="middle" font-family='"Liberation Serif", serif' font-weight="bold" fill="#111"  stroke="#111" stroke-width="0.12">TUDCA</text>
<line x1="275.30" y1="524.40" x2="275.30" y2="525.70" stroke="#555" stroke-width="0.4" />
<text x="275.30" y="531.40" font-size="3.1" text-anchor="middle" font-family='"Liberation Serif", serif' font-weight="bold" fill="#111"  stroke="#111" stroke-width="0.12">THDCA</text>
<line x1="288.80" y1="524.40" x2="288.80" y2="525.70" stroke="#555" stroke-width="0.4" />
<text x="288.80" y="531.40" font-size="3.1" text-anchor="middle" font-family='"Liberation Serif", serif' font-weight="bold" fill="#111"  stroke="#111" stroke-width="0.12">THCA</text>
<line x1="302.70" y1="524.40" x2="302.70" y2="525.70" stroke="#555" stroke-width="0.4" />
<text x="302.70" y="531.40" font-size="3.1" text-anchor="middle" font-family='"Liberation Serif", serif' font-weight="bold" fill="#111"  stroke="#111" stroke-width="0.12">TLCA</text>
<line x1="316.20" y1="524.40" x2="316.20" y2="525.70" stroke="#555" stroke-width="0.4" />
<text x="316.20" y="531.40" font-size="3.1" text-anchor="middle" font-family='"Liberation Serif", serif' font-weight="bold" fill="#111"  stroke="#111" stroke-width="0.12">GLCA</text>
<line x1="203.90" y1="482.41" x2="203.90" y2="515.58" stroke="#6868f2" stroke-width="0.5" />
<rect x="202.20" y="490.95" width="3.40" height="20.35" fill="#8080ff" stroke="#6868f2" stroke-width="0.35" fill-opacity="0.38"/>
<line x1="202.20" y1="501.13" x2="205.60" y2="501.13" stroke="#6868f2" stroke-width="0.4" />
<circle cx="204.1" cy="496.7" r="0.68" fill="#6868f2" fill-opacity="0.85"/>
<circle cx="204.0" cy="502.2" r="0.68" fill="#6868f2" fill-opacity="0.85"/>
<circle cx="204.0" cy="495.5" r="0.68" fill="#6868f2" fill-opacity="0.85"/>
<circle cx="204.1" cy="492.5" r="0.68" fill="#6868f2" fill-opacity="0.85"/>
<circle cx="204.0" cy="498.7" r="0.68" fill="#6868f2" fill-opacity="0.85"/>
<circle cx="203.8" cy="494.6" r="0.68" fill="#6868f2" fill-opacity="0.85"/>
<circle cx="203.8" cy="512.0" r="0.68" fill="#6868f2" fill-opacity="0.85"/>
<circle cx="203.8" cy="485.5" r="0.68" fill="#6868f2" fill-opacity="0.85"/>
<circle cx="203.7" cy="493.8" r="0.68" fill="#6868f2" fill-opacity="0.85"/>
<circle cx="204.0" cy="509.0" r="0.68" fill="#6868f2" fill-opacity="0.85"/>
<circle cx="204.0" cy="509.2" r="0.68" fill="#6868f2" fill-opacity="0.85"/>
<circle cx="203.8" cy="508.4" r="0.68" fill="#6868f2" fill-opacity="0.85"/>
<circle cx="203.8" cy="494.2" r="0.68" fill="#6868f2" fill-opacity="0.85"/>
<circle cx="204.0" cy="504.2" r="0.68" fill="#6868f2" fill-opacity="0.85"/>
<circle cx="204.0" cy="508.9" r="0.68" fill="#6868f2" fill-opacity="0.85"/>
<circle cx="204.1" cy="513.3" r="0.68" fill="#6868f2" fill-opacity="0.85"/>
<circle cx="203.8" cy="495.6" r="0.68" fill="#6868f2" fill-opacity="0.85"/>
<circle cx="204.0" cy="497.8" r="0.68" fill="#6868f2" fill-opacity="0.85"/>
<circle cx="204.0" cy="490.9" r="0.68" fill="#6868f2" fill-opacity="0.85"/>
<circle cx="204.0" cy="511.0" r="0.68" fill="#6868f2" fill-opacity="0.85"/>
<circle cx="203.8" cy="494.0" r="0.68" fill="#6868f2" fill-opacity="0.85"/>
<circle cx="203.8" cy="493.7" r="0.68" fill="#6868f2" fill-opacity="0.85"/>
<circle cx="204.0" cy="489.5" r="0.68" fill="#6868f2" fill-opacity="0.85"/>
<circle cx="203.8" cy="491.9" r="0.68" fill="#6868f2" fill-opacity="0.85"/>
<circle cx="203.8" cy="493.7" r="0.68" fill="#6868f2" fill-opacity="0.85"/>
<circle cx="203.9" cy="503.2" r="0.68" fill="#6868f2" fill-opacity="0.85"/>
<circle cx="203.8" cy="495.1" r="0.68" fill="#6868f2" fill-opacity="0.85"/>
<circle cx="204.0" cy="490.8" r="0.68" fill="#6868f2" fill-opacity="0.85"/>
<circle cx="203.8" cy="510.7" r="0.68" fill="#6868f2" fill-opacity="0.85"/>
<circle cx="203.7" cy="507.8" r="0.68" fill="#6868f2" fill-opacity="0.85"/>
<circle cx="203.9" cy="493.8" r="0.68" fill="#6868f2" fill-opacity="0.85"/>
<circle cx="204.0" cy="498.2" r="0.68" fill="#6868f2" fill-opacity="0.85"/>
<circle cx="204.0" cy="497.7" r="0.68" fill="#6868f2" fill-opacity="0.85"/>
<circle cx="204.0" cy="497.0" r="0.68" fill="#6868f2" fill-opacity="0.85"/>
<circle cx="204.1" cy="482.4" r="0.68" fill="#6868f2" fill-opacity="0.85"/>
<circle cx="204.1" cy="515.6" r="0.68" fill="#6868f2" fill-opacity="0.85"/>
<circle cx="203.90" cy="434.42" r="0.78" fill="#6868f2" fill-opacity="1"/>
<circle cx="203.90" cy="438.94" r="0.78" fill="#6868f2" fill-opacity="1"/>
<circle cx="203.76" cy="451.51" r="0.78" fill="#6868f2" fill-opacity="1"/>
<circle cx="203.82" cy="459.05" r="0.78" fill="#6868f2" fill-opacity="1"/>
<circle cx="203.93" cy="460.30" r="0.78" fill="#6868f2" fill-opacity="1"/>
<line x1="209.50" y1="481.66" x2="209.50" y2="515.58" stroke="#f26868" stroke-width="0.5" />
<rect x="207.80" y="495.98" width="3.40" height="16.33" fill="#ff8080" stroke="#f26868" stroke-width="0.35" fill-opacity="0.38"/>
<line x1="207.80" y1="504.15" x2="211.20" y2="504.15" stroke="#f26868" stroke-width="0.4" />
<circle cx="209.5" cy="495.0" r="0.68" fill="#f26868" fill-opacity="0.85"/>
<circle cx="209.5" cy="491.2" r="0.68" fill="#f26868" fill-opacity="0.85"/>
<circle cx="209.4" cy="482.2" r="0.68" fill="#f26868" fill-opacity="0.85"/>
<circle cx="209.6" cy="494.3" r="0.68" fill="#f26868" fill-opacity="0.85"/>
<circle cx="209.5" cy="498.3" r="0.68" fill="#f26868" fill-opacity="0.85"/>
<circle cx="209.6" cy="510.5" r="0.68" fill="#f26868" fill-opacity="0.85"/>
<circle cx="209.5" cy="500.4" r="0.68" fill="#f26868" fill-opacity="0.85"/>
<circle cx="209.3" cy="489.5" r="0.68" fill="#f26868" fill-opacity="0.85"/>
<circle cx="209.4" cy="506.3" r="0.68" fill="#f26868" fill-opacity="0.85"/>
<circle cx="209.4" cy="486.8" r="0.68" fill="#f26868" fill-opacity="0.85"/>
<circle cx="209.7" cy="500.3" r="0.68" fill="#f26868" fill-opacity="0.85"/>
<circle cx="209.5" cy="501.4" r="0.68" fill="#f26868" fill-opacity="0.85"/>
<circle cx="209.3" cy="494.7" r="0.68" fill="#f26868" fill-opacity="0.85"/>
<circle cx="209.4" cy="499.6" r="0.68" fill="#f26868" fill-opacity="0.85"/>
<circle cx="209.4" cy="503.5" r="0.68" fill="#f26868" fill-opacity="0.85"/>
<circle cx="209.5" cy="508.5" r="0.68" fill="#f26868" fill-opacity="0.85"/>
<circle cx="209.5" cy="492.8" r="0.68" fill="#f26868" fill-opacity="0.85"/>
<circle cx="209.5" cy="499.7" r="0.68" fill="#f26868" fill-opacity="0.85"/>
<circle cx="209.4" cy="499.1" r="0.68" fill="#f26868" fill-opacity="0.85"/>
<circle cx="209.3" cy="509.9" r="0.68" fill="#f26868" fill-opacity="0.85"/>
<circle cx="209.5" cy="490.8" r="0.68" fill="#f26868" fill-opacity="0.85"/>
<circle cx="209.4" cy="502.9" r="0.68" fill="#f26868" fill-opacity="0.85"/>
<circle cx="209.3" cy="494.5" r="0.68" fill="#f26868" fill-opacity="0.85"/>
<circle cx="209.5" cy="496.1" r="0.68" fill="#f26868" fill-opacity="0.85"/>
<circle cx="209.7" cy="499.7" r="0.68" fill="#f26868" fill-opacity="0.85"/>
<circle cx="209.3" cy="498.2" r="0.68" fill="#f26868" fill-opacity="0.85"/>
<circle cx="209.4" cy="508.8" r="0.68" fill="#f26868" fill-opacity="0.85"/>
<circle cx="209.6" cy="493.6" r="0.68" fill="#f26868" fill-opacity="0.85"/>
<circle cx="209.4" cy="496.1" r="0.68" fill="#f26868" fill-opacity="0.85"/>
<circle cx="209.4" cy="496.0" r="0.68" fill="#f26868" fill-opacity="0.85"/>
<circle cx="209.5" cy="490.5" r="0.68" fill="#f26868" fill-opacity="0.85"/>
<circle cx="209.4" cy="514.1" r="0.68" fill="#f26868" fill-opacity="0.85"/>
<circle cx="209.5" cy="485.8" r="0.68" fill="#f26868" fill-opacity="0.85"/>
<circle cx="209.5" cy="484.0" r="0.68" fill="#f26868" fill-opacity="0.85"/>
<circle cx="209.7" cy="481.7" r="0.68" fill="#f26868" fill-opacity="0.85"/>
<circle cx="209.7" cy="515.6" r="0.68" fill="#f26868" fill-opacity="0.85"/>
<circle cx="209.31" cy="441.46" r="0.78" fill="#f26868" fill-opacity="1"/>
<circle cx="209.52" cy="447.74" r="0.78" fill="#f26868" fill-opacity="1"/>
<circle cx="209.61" cy="448.99" r="0.78" fill="#f26868" fill-opacity="1"/>
<line x1="217.40" y1="490.45" x2="217.40" y2="513.57" stroke="#6868f2" stroke-width="0.5" />
<rect x="215.70" y="498.99" width="3.40" height="10.55" fill="#8080ff" stroke="#6868f2" stroke-width="0.35" fill-opacity="0.38"/>
<line x1="215.70" y1="504.27" x2="219.10" y2="504.27" stroke="#6868f2" stroke-width="0.4" />
<circle cx="217.2" cy="506.1" r="0.68" fill="#6868f2" fill-opacity="0.85"/>
<circle cx="217.5" cy="496.5" r="0.68" fill="#6868f2" fill-opacity="0.85"/>
<circle cx="217.4" cy="496.6" r="0.68" fill="#6868f2" fill-opacity="0.85"/>
<circle cx="217.5" cy="503.1" r="0.68" fill="#6868f2" fill-opacity="0.85"/>
<circle cx="217.2" cy="496.3" r="0.68" fill="#6868f2" fill-opacity="0.85"/>
<circle cx="217.4" cy="505.2" r="0.68" fill="#6868f2" fill-opacity="0.85"/>
<circle cx="217.4" cy="511.5" r="0.68" fill="#6868f2" fill-opacity="0.85"/>
<circle cx="217.6" cy="500.6" r="0.68" fill="#6868f2" fill-opacity="0.85"/>
<circle cx="217.6" cy="499.7" r="0.68" fill="#6868f2" fill-opacity="0.85"/>
<circle cx="217.5" cy="510.4" r="0.68" fill="#6868f2" fill-opacity="0.85"/>
<circle cx="217.3" cy="504.8" r="0.68" fill="#6868f2" fill-opacity="0.85"/>
<circle cx="217.3" cy="508.5" r="0.68" fill="#6868f2" fill-opacity="0.85"/>
<circle cx="217.3" cy="495.2" r="0.68" fill="#6868f2" fill-opacity="0.85"/>
<circle cx="217.4" cy="499.5" r="0.68" fill="#6868f2" fill-opacity="0.85"/>
<circle cx="217.3" cy="500.7" r="0.68" fill="#6868f2" fill-opacity="0.85"/>
<circle cx="217.3" cy="498.8" r="0.68" fill="#6868f2" fill-opacity="0.85"/>
<circle cx="217.5" cy="504.5" r="0.68" fill="#6868f2" fill-opacity="0.85"/>
<circle cx="217.5" cy="509.2" r="0.68" fill="#6868f2" fill-opacity="0.85"/>
<circle cx="217.3" cy="501.6" r="0.68" fill="#6868f2" fill-opacity="0.85"/>
<circle cx="217.6" cy="502.8" r="0.68" fill="#6868f2" fill-opacity="0.85"/>
<circle cx="217.3" cy="498.7" r="0.68" fill="#6868f2" fill-opacity="0.85"/>
<circle cx="217.4" cy="500.1" r="0.68" fill="#6868f2" fill-opacity="0.85"/>
<circle cx="217.3" cy="505.0" r="0.68" fill="#6868f2" fill-opacity="0.85"/>
<circle cx="217.5" cy="506.0" r="0.68" fill="#6868f2" fill-opacity="0.85"/>
<circle cx="217.5" cy="501.4" r="0.68" fill="#6868f2" fill-opacity="0.85"/>
<circle cx="217.3" cy="502.5" r="0.68" fill="#6868f2" fill-opacity="0.85"/>
<circle cx="217.5" cy="502.1" r="0.68" fill="#6868f2" fill-opacity="0.85"/>
<circle cx="217.5" cy="501.1" r="0.68" fill="#6868f2" fill-opacity="0.85"/>
<circle cx="217.3" cy="498.0" r="0.68" fill="#6868f2" fill-opacity="0.85"/>
<circle cx="217.3" cy="499.5" r="0.68" fill="#6868f2" fill-opacity="0.85"/>
<circle cx="217.4" cy="507.6" r="0.68" fill="#6868f2" fill-opacity="0.85"/>
<circle cx="217.6" cy="501.3" r="0.68" fill="#6868f2" fill-opacity="0.85"/>
<circle cx="217.3" cy="499.4" r="0.68" fill="#6868f2" fill-opacity="0.85"/>
<circle cx="217.5" cy="506.1" r="0.68" fill="#6868f2" fill-opacity="0.85"/>
<circle cx="217.4" cy="490.5" r="0.68" fill="#6868f2" fill-opacity="0.85"/>
<circle cx="217.4" cy="513.6" r="0.68" fill="#6868f2" fill-opacity="0.85"/>
<circle cx="217.43" cy="472.86" r="0.78" fill="#6868f2" fill-opacity="1"/>
<line x1="223.00" y1="490.95" x2="223.00" y2="513.57" stroke="#f26868" stroke-width="0.5" />
<rect x="221.30" y="499.50" width="3.40" height="11.06" fill="#ff8080" stroke="#f26868" stroke-width="0.35" fill-opacity="0.38"/>
<line x1="221.30" y1="505.03" x2="224.70" y2="505.03" stroke="#f26868" stroke-width="0.4" />
<circle cx="222.9" cy="509.4" r="0.68" fill="#f26868" fill-opacity="0.85"/>
<circle cx="223.1" cy="504.4" r="0.68" fill="#f26868" fill-opacity="0.85"/>
<circle cx="222.9" cy="512.4" r="0.68" fill="#f26868" fill-opacity="0.85"/>
<circle cx="222.9" cy="511.8" r="0.68" fill="#f26868" fill-opacity="0.85"/>
<circle cx="222.9" cy="498.8" r="0.68" fill="#f26868" fill-opacity="0.85"/>
<circle cx="223.1" cy="499.1" r="0.68" fill="#f26868" fill-opacity="0.85"/>
<circle cx="222.8" cy="510.0" r="0.68" fill="#f26868" fill-opacity="0.85"/>
<circle cx="223.1" cy="504.1" r="0.68" fill="#f26868" fill-opacity="0.85"/>
<circle cx="223.1" cy="509.0" r="0.68" fill="#f26868" fill-opacity="0.85"/>
<circle cx="222.9" cy="501.7" r="0.68" fill="#f26868" fill-opacity="0.85"/>
<circle cx="223.0" cy="492.2" r="0.68" fill="#f26868" fill-opacity="0.85"/>
<circle cx="223.1" cy="500.0" r="0.68" fill="#f26868" fill-opacity="0.85"/>
<circle cx="223.0" cy="501.4" r="0.68" fill="#f26868" fill-opacity="0.85"/>
<circle cx="222.9" cy="510.6" r="0.68" fill="#f26868" fill-opacity="0.85"/>
<circle cx="222.8" cy="506.9" r="0.68" fill="#f26868" fill-opacity="0.85"/>
<circle cx="223.0" cy="494.2" r="0.68" fill="#f26868" fill-opacity="0.85"/>
<circle cx="222.9" cy="496.2" r="0.68" fill="#f26868" fill-opacity="0.85"/>
<circle cx="223.1" cy="499.6" r="0.68" fill="#f26868" fill-opacity="0.85"/>
<circle cx="222.9" cy="500.8" r="0.68" fill="#f26868" fill-opacity="0.85"/>
<circle cx="223.0" cy="502.1" r="0.68" fill="#f26868" fill-opacity="0.85"/>
<circle cx="223.1" cy="505.8" r="0.68" fill="#f26868" fill-opacity="0.85"/>
<circle cx="223.1" cy="501.4" r="0.68" fill="#f26868" fill-opacity="0.85"/>
<circle cx="222.9" cy="505.4" r="0.68" fill="#f26868" fill-opacity="0.85"/>
<circle cx="223.0" cy="496.9" r="0.68" fill="#f26868" fill-opacity="0.85"/>
<circle cx="223.0" cy="506.0" r="0.68" fill="#f26868" fill-opacity="0.85"/>
<circle cx="223.2" cy="505.1" r="0.68" fill="#f26868" fill-opacity="0.85"/>
<circle cx="222.9" cy="512.3" r="0.68" fill="#f26868" fill-opacity="0.85"/>
<circle cx="223.2" cy="510.7" r="0.68" fill="#f26868" fill-opacity="0.85"/>
<circle cx="223.1" cy="500.7" r="0.68" fill="#f26868" fill-opacity="0.85"/>
<circle cx="222.9" cy="508.8" r="0.68" fill="#f26868" fill-opacity="0.85"/>
<circle cx="223.1" cy="497.7" r="0.68" fill="#f26868" fill-opacity="0.85"/>
<circle cx="222.9" cy="498.7" r="0.68" fill="#f26868" fill-opacity="0.85"/>
<circle cx="222.8" cy="500.7" r="0.68" fill="#f26868" fill-opacity="0.85"/>
<circle cx="223.1" cy="493.0" r="0.68" fill="#f26868" fill-opacity="0.85"/>
<circle cx="223.0" cy="491.0" r="0.68" fill="#f26868" fill-opacity="0.85"/>
<circle cx="223.0" cy="513.6" r="0.68" fill="#f26868" fill-opacity="0.85"/>
<circle cx="223.00" cy="441.46" r="0.78" fill="#f26868" fill-opacity="1"/>
<circle cx="223.16" cy="454.52" r="0.78" fill="#f26868" fill-opacity="1"/>
<circle cx="223.10" cy="465.33" r="0.78" fill="#f26868" fill-opacity="1"/>
<circle cx="222.81" cy="467.34" r="0.78" fill="#f26868" fill-opacity="1"/>
<line x1="231.30" y1="470.35" x2="231.30" y2="508.04" stroke="#6868f2" stroke-width="0.5" />
<rect x="229.60" y="476.63" width="3.40" height="23.12" fill="#8080ff" stroke="#6868f2" stroke-width="0.35" fill-opacity="0.38"/>
<line x1="229.60" y1="486.18" x2="233.00" y2="486.18" stroke="#6868f2" stroke-width="0.4" />
<circle cx="231.5" cy="491.9" r="0.68" fill="#6868f2" fill-opacity="0.85"/>
<circle cx="231.4" cy="487.6" r="0.68" fill="#6868f2" fill-opacity="0.85"/>
<circle cx="231.2" cy="491.7" r="0.68" fill="#6868f2" fill-opacity="0.85"/>
<circle cx="231.5" cy="475.6" r="0.68" fill="#6868f2" fill-opacity="0.85"/>
<circle cx="231.1" cy="494.5" r="0.68" fill="#6868f2" fill-opacity="0.85"/>
<circle cx="231.3" cy="486.7" r="0.68" fill="#6868f2" fill-opacity="0.85"/>
<circle cx="231.5" cy="484.8" r="0.68" fill="#6868f2" fill-opacity="0.85"/>
<circle cx="231.2" cy="483.5" r="0.68" fill="#6868f2" fill-opacity="0.85"/>
<circle cx="231.5" cy="480.5" r="0.68" fill="#6868f2" fill-opacity="0.85"/>
<circle cx="231.4" cy="489.4" r="0.68" fill="#6868f2" fill-opacity="0.85"/>
<circle cx="231.1" cy="492.0" r="0.68" fill="#6868f2" fill-opacity="0.85"/>
<circle cx="231.2" cy="479.0" r="0.68" fill="#6868f2" fill-opacity="0.85"/>
<circle cx="231.3" cy="497.9" r="0.68" fill="#6868f2" fill-opacity="0.85"/>
<circle cx="231.2" cy="486.8" r="0.68" fill="#6868f2" fill-opacity="0.85"/>
<circle cx="231.4" cy="493.4" r="0.68" fill="#6868f2" fill-opacity="0.85"/>
<circle cx="231.2" cy="494.2" r="0.68" fill="#6868f2" fill-opacity="0.85"/>
<circle cx="231.4" cy="491.1" r="0.68" fill="#6868f2" fill-opacity="0.85"/>
<circle cx="231.2" cy="491.9" r="0.68" fill="#6868f2" fill-opacity="0.85"/>
<circle cx="231.1" cy="501.0" r="0.68" fill="#6868f2" fill-opacity="0.85"/>
<circle cx="231.3" cy="484.0" r="0.68" fill="#6868f2" fill-opacity="0.85"/>
<circle cx="231.1" cy="490.5" r="0.68" fill="#6868f2" fill-opacity="0.85"/>
<circle cx="231.3" cy="498.7" r="0.68" fill="#6868f2" fill-opacity="0.85"/>
<circle cx="231.4" cy="487.0" r="0.68" fill="#6868f2" fill-opacity="0.85"/>
<circle cx="231.3" cy="476.8" r="0.68" fill="#6868f2" fill-opacity="0.85"/>
<circle cx="231.3" cy="486.6" r="0.68" fill="#6868f2" fill-opacity="0.85"/>
<circle cx="231.1" cy="493.9" r="0.68" fill="#6868f2" fill-opacity="0.85"/>
<circle cx="231.3" cy="494.1" r="0.68" fill="#6868f2" fill-opacity="0.85"/>
<circle cx="231.1" cy="474.3" r="0.68" fill="#6868f2" fill-opacity="0.85"/>
<circle cx="231.4" cy="490.9" r="0.68" fill="#6868f2" fill-opacity="0.85"/>
<circle cx="231.2" cy="497.6" r="0.68" fill="#6868f2" fill-opacity="0.85"/>
<circle cx="231.3" cy="479.6" r="0.68" fill="#6868f2" fill-opacity="0.85"/>
<circle cx="231.2" cy="486.1" r="0.68" fill="#6868f2" fill-opacity="0.85"/>
<circle cx="231.2" cy="474.0" r="0.68" fill="#6868f2" fill-opacity="0.85"/>
<circle cx="231.4" cy="498.4" r="0.68" fill="#6868f2" fill-opacity="0.85"/>
<circle cx="231.2" cy="470.4" r="0.68" fill="#6868f2" fill-opacity="0.85"/>
<circle cx="231.2" cy="508.0" r="0.68" fill="#6868f2" fill-opacity="0.85"/>
<circle cx="231.48" cy="433.92" r="0.78" fill="#6868f2" fill-opacity="1"/>
<circle cx="231.23" cy="434.67" r="0.78" fill="#6868f2" fill-opacity="1"/>
<line x1="236.90" y1="469.10" x2="236.90" y2="512.31" stroke="#f26868" stroke-width="0.5" />
<rect x="235.20" y="474.12" width="3.40" height="22.36" fill="#ff8080" stroke="#f26868" stroke-width="0.35" fill-opacity="0.38"/>
<line x1="235.20" y1="486.18" x2="238.60" y2="486.18" stroke="#f26868" stroke-width="0.4" />
<circle cx="236.7" cy="500.3" r="0.68" fill="#f26868" fill-opacity="0.85"/>
<circle cx="236.8" cy="489.3" r="0.68" fill="#f26868" fill-opacity="0.85"/>
<circle cx="237.1" cy="492.3" r="0.68" fill="#f26868" fill-opacity="0.85"/>
<circle cx="236.9" cy="494.7" r="0.68" fill="#f26868" fill-opacity="0.85"/>
<circle cx="237.0" cy="499.2" r="0.68" fill="#f26868" fill-opacity="0.85"/>
<circle cx="236.8" cy="493.8" r="0.68" fill="#f26868" fill-opacity="0.85"/>
<circle cx="236.8" cy="493.3" r="0.68" fill="#f26868" fill-opacity="0.85"/>
<circle cx="236.7" cy="483.9" r="0.68" fill="#f26868" fill-opacity="0.85"/>
<circle cx="236.9" cy="507.9" r="0.68" fill="#f26868" fill-opacity="0.85"/>
<circle cx="237.0" cy="506.8" r="0.68" fill="#f26868" fill-opacity="0.85"/>
<circle cx="236.9" cy="498.9" r="0.68" fill="#f26868" fill-opacity="0.85"/>
<circle cx="236.9" cy="508.6" r="0.68" fill="#f26868" fill-opacity="0.85"/>
<circle cx="237.1" cy="501.3" r="0.68" fill="#f26868" fill-opacity="0.85"/>
<circle cx="237.1" cy="504.3" r="0.68" fill="#f26868" fill-opacity="0.85"/>
<circle cx="237.0" cy="487.5" r="0.68" fill="#f26868" fill-opacity="0.85"/>
<circle cx="236.7" cy="498.3" r="0.68" fill="#f26868" fill-opacity="0.85"/>
<circle cx="236.9" cy="491.0" r="0.68" fill="#f26868" fill-opacity="0.85"/>
<circle cx="236.9" cy="503.7" r="0.68" fill="#f26868" fill-opacity="0.85"/>
<circle cx="237.1" cy="503.8" r="0.68" fill="#f26868" fill-opacity="0.85"/>
<circle cx="236.8" cy="488.8" r="0.68" fill="#f26868" fill-opacity="0.85"/>
<circle cx="237.0" cy="482.1" r="0.68" fill="#f26868" fill-opacity="0.85"/>
<circle cx="237.0" cy="485.1" r="0.68" fill="#f26868" fill-opacity="0.85"/>
<circle cx="236.9" cy="487.0" r="0.68" fill="#f26868" fill-opacity="0.85"/>
<circle cx="236.9" cy="479.7" r="0.68" fill="#f26868" fill-opacity="0.85"/>
<circle cx="237.0" cy="493.7" r="0.68" fill="#f26868" fill-opacity="0.85"/>
<circle cx="237.1" cy="507.7" r="0.68" fill="#f26868" fill-opacity="0.85"/>
<circle cx="236.9" cy="493.2" r="0.68" fill="#f26868" fill-opacity="0.85"/>
<circle cx="236.8" cy="481.1" r="0.68" fill="#f26868" fill-opacity="0.85"/>
<circle cx="237.1" cy="497.1" r="0.68" fill="#f26868" fill-opacity="0.85"/>
<circle cx="236.7" cy="503.7" r="0.68" fill="#f26868" fill-opacity="0.85"/>
<circle cx="237.0" cy="486.3" r="0.68" fill="#f26868" fill-opacity="0.85"/>
<circle cx="237.0" cy="488.2" r="0.68" fill="#f26868" fill-opacity="0.85"/>
<circle cx="236.9" cy="490.5" r="0.68" fill="#f26868" fill-opacity="0.85"/>
<circle cx="236.9" cy="491.8" r="0.68" fill="#f26868" fill-opacity="0.85"/>
<circle cx="237.0" cy="469.1" r="0.68" fill="#f26868" fill-opacity="0.85"/>
<circle cx="237.1" cy="512.3" r="0.68" fill="#f26868" fill-opacity="0.85"/>
<circle cx="236.99" cy="437.69" r="0.78" fill="#f26868" fill-opacity="1"/>
<circle cx="237.00" cy="438.94" r="0.78" fill="#f26868" fill-opacity="1"/>
<line x1="245.10" y1="494.47" x2="245.10" y2="515.58" stroke="#6868f2" stroke-width="0.5" />
<rect x="243.40" y="501.01" width="3.40" height="10.80" fill="#8080ff" stroke="#6868f2" stroke-width="0.35" fill-opacity="0.38"/>
<line x1="243.40" y1="506.41" x2="246.80" y2="506.41" stroke="#6868f2" stroke-width="0.4" />
<circle cx="245.1" cy="501.0" r="0.68" fill="#6868f2" fill-opacity="0.85"/>
<circle cx="244.9" cy="512.7" r="0.68" fill="#6868f2" fill-opacity="0.85"/>
<circle cx="245.2" cy="510.3" r="0.68" fill="#6868f2" fill-opacity="0.85"/>
<circle cx="244.9" cy="503.4" r="0.68" fill="#6868f2" fill-opacity="0.85"/>
<circle cx="245.1" cy="504.7" r="0.68" fill="#6868f2" fill-opacity="0.85"/>
<circle cx="245.1" cy="511.2" r="0.68" fill="#6868f2" fill-opacity="0.85"/>
<circle cx="244.9" cy="510.6" r="0.68" fill="#6868f2" fill-opacity="0.85"/>
<circle cx="245.2" cy="509.6" r="0.68" fill="#6868f2" fill-opacity="0.85"/>
<circle cx="245.2" cy="508.6" r="0.68" fill="#6868f2" fill-opacity="0.85"/>
<circle cx="245.1" cy="506.0" r="0.68" fill="#6868f2" fill-opacity="0.85"/>
<circle cx="245.1" cy="501.8" r="0.68" fill="#6868f2" fill-opacity="0.85"/>
<circle cx="245.1" cy="503.4" r="0.68" fill="#6868f2" fill-opacity="0.85"/>
<circle cx="245.1" cy="498.5" r="0.68" fill="#6868f2" fill-opacity="0.85"/>
<circle cx="245.0" cy="512.1" r="0.68" fill="#6868f2" fill-opacity="0.85"/>
<circle cx="245.2" cy="502.7" r="0.68" fill="#6868f2" fill-opacity="0.85"/>
<circle cx="245.3" cy="504.8" r="0.68" fill="#6868f2" fill-opacity="0.85"/>
<circle cx="245.2" cy="510.5" r="0.68" fill="#6868f2" fill-opacity="0.85"/>
<circle cx="245.3" cy="508.9" r="0.68" fill="#6868f2" fill-opacity="0.85"/>
<circle cx="245.0" cy="503.5" r="0.68" fill="#6868f2" fill-opacity="0.85"/>
<circle cx="245.3" cy="500.7" r="0.68" fill="#6868f2" fill-opacity="0.85"/>
<circle cx="244.9" cy="501.0" r="0.68" fill="#6868f2" fill-opacity="0.85"/>
<circle cx="245.1" cy="505.6" r="0.68" fill="#6868f2" fill-opacity="0.85"/>
<circle cx="245.0" cy="507.2" r="0.68" fill="#6868f2" fill-opacity="0.85"/>
<circle cx="245.1" cy="499.6" r="0.68" fill="#6868f2" fill-opacity="0.85"/>
<circle cx="245.2" cy="505.1" r="0.68" fill="#6868f2" fill-opacity="0.85"/>
<circle cx="245.2" cy="507.8" r="0.68" fill="#6868f2" fill-opacity="0.85"/>
<circle cx="245.1" cy="500.9" r="0.68" fill="#6868f2" fill-opacity="0.85"/>
<circle cx="245.0" cy="506.2" r="0.68" fill="#6868f2" fill-opacity="0.85"/>
<circle cx="245.0" cy="501.4" r="0.68" fill="#6868f2" fill-opacity="0.85"/>
<circle cx="245.1" cy="500.5" r="0.68" fill="#6868f2" fill-opacity="0.85"/>
<circle cx="245.0" cy="497.8" r="0.68" fill="#6868f2" fill-opacity="0.85"/>
<circle cx="245.0" cy="502.9" r="0.68" fill="#6868f2" fill-opacity="0.85"/>
<circle cx="245.2" cy="503.4" r="0.68" fill="#6868f2" fill-opacity="0.85"/>
<circle cx="245.1" cy="501.3" r="0.68" fill="#6868f2" fill-opacity="0.85"/>
<circle cx="245.1" cy="494.5" r="0.68" fill="#6868f2" fill-opacity="0.85"/>
<circle cx="245.0" cy="515.6" r="0.68" fill="#6868f2" fill-opacity="0.85"/>
<circle cx="245.18" cy="442.71" r="0.78" fill="#6868f2" fill-opacity="1"/>
<circle cx="244.98" cy="443.97" r="0.78" fill="#6868f2" fill-opacity="1"/>
<circle cx="245.01" cy="453.52" r="0.78" fill="#6868f2" fill-opacity="1"/>
<circle cx="245.12" cy="468.34" r="0.78" fill="#6868f2" fill-opacity="1"/>
<line x1="250.70" y1="493.47" x2="250.70" y2="515.58" stroke="#f26868" stroke-width="0.5" />
<rect x="249.00" y="499.25" width="3.40" height="11.31" fill="#ff8080" stroke="#f26868" stroke-width="0.35" fill-opacity="0.38"/>
<line x1="249.00" y1="504.90" x2="252.40" y2="504.90" stroke="#f26868" stroke-width="0.4" />
<circle cx="250.9" cy="503.8" r="0.68" fill="#f26868" fill-opacity="0.85"/>
<circle cx="250.8" cy="508.3" r="0.68" fill="#f26868" fill-opacity="0.85"/>
<circle cx="250.5" cy="501.2" r="0.68" fill="#f26868" fill-opacity="0.85"/>
<circle cx="250.5" cy="506.7" r="0.68" fill="#f26868" fill-opacity="0.85"/>
<circle cx="250.5" cy="510.8" r="0.68" fill="#f26868" fill-opacity="0.85"/>
<circle cx="250.8" cy="496.5" r="0.68" fill="#f26868" fill-opacity="0.85"/>
<circle cx="250.7" cy="512.6" r="0.68" fill="#f26868" fill-opacity="0.85"/>
<circle cx="250.7" cy="497.4" r="0.68" fill="#f26868" fill-opacity="0.85"/>
<circle cx="250.7" cy="505.2" r="0.68" fill="#f26868" fill-opacity="0.85"/>
<circle cx="250.7" cy="495.1" r="0.68" fill="#f26868" fill-opacity="0.85"/>
<circle cx="250.7" cy="494.3" r="0.68" fill="#f26868" fill-opacity="0.85"/>
<circle cx="250.8" cy="496.7" r="0.68" fill="#f26868" fill-opacity="0.85"/>
<circle cx="250.9" cy="500.7" r="0.68" fill="#f26868" fill-opacity="0.85"/>
<circle cx="250.8" cy="502.6" r="0.68" fill="#f26868" fill-opacity="0.85"/>
<circle cx="250.8" cy="509.4" r="0.68" fill="#f26868" fill-opacity="0.85"/>
<circle cx="250.9" cy="502.9" r="0.68" fill="#f26868" fill-opacity="0.85"/>
<circle cx="250.8" cy="505.3" r="0.68" fill="#f26868" fill-opacity="0.85"/>
<circle cx="250.8" cy="500.7" r="0.68" fill="#f26868" fill-opacity="0.85"/>
<circle cx="250.5" cy="506.7" r="0.68" fill="#f26868" fill-opacity="0.85"/>
<circle cx="250.8" cy="498.5" r="0.68" fill="#f26868" fill-opacity="0.85"/>
<circle cx="250.8" cy="513.1" r="0.68" fill="#f26868" fill-opacity="0.85"/>
<circle cx="250.7" cy="496.1" r="0.68" fill="#f26868" fill-opacity="0.85"/>
<circle cx="250.9" cy="509.0" r="0.68" fill="#f26868" fill-opacity="0.85"/>
<circle cx="250.6" cy="499.4" r="0.68" fill="#f26868" fill-opacity="0.85"/>
<circle cx="250.9" cy="507.0" r="0.68" fill="#f26868" fill-opacity="0.85"/>
<circle cx="250.7" cy="503.2" r="0.68" fill="#f26868" fill-opacity="0.85"/>
<circle cx="250.8" cy="507.6" r="0.68" fill="#f26868" fill-opacity="0.85"/>
<circle cx="250.6" cy="499.1" r="0.68" fill="#f26868" fill-opacity="0.85"/>
<circle cx="250.6" cy="501.1" r="0.68" fill="#f26868" fill-opacity="0.85"/>
<circle cx="250.6" cy="512.6" r="0.68" fill="#f26868" fill-opacity="0.85"/>
<circle cx="250.6" cy="506.7" r="0.68" fill="#f26868" fill-opacity="0.85"/>
<circle cx="250.5" cy="510.9" r="0.68" fill="#f26868" fill-opacity="0.85"/>
<circle cx="250.7" cy="513.2" r="0.68" fill="#f26868" fill-opacity="0.85"/>
<circle cx="250.9" cy="507.2" r="0.68" fill="#f26868" fill-opacity="0.85"/>
<circle cx="250.8" cy="493.5" r="0.68" fill="#f26868" fill-opacity="0.85"/>
<circle cx="250.9" cy="515.6" r="0.68" fill="#f26868" fill-opacity="0.85"/>
<circle cx="250.80" cy="442.21" r="0.78" fill="#f26868" fill-opacity="1"/>
<circle cx="250.83" cy="444.47" r="0.78" fill="#f26868" fill-opacity="1"/>
<circle cx="250.90" cy="464.57" r="0.78" fill="#f26868" fill-opacity="1"/>
<circle cx="250.80" cy="479.65" r="0.78" fill="#f26868" fill-opacity="1"/>
<line x1="258.90" y1="476.13" x2="258.90" y2="509.30" stroke="#6868f2" stroke-width="0.5" />
<rect x="257.20" y="487.19" width="3.40" height="14.07" fill="#8080ff" stroke="#6868f2" stroke-width="0.35" fill-opacity="0.38"/>
<line x1="257.20" y1="494.22" x2="260.60" y2="494.22" stroke="#6868f2" stroke-width="0.4" />
<circle cx="258.9" cy="490.0" r="0.68" fill="#6868f2" fill-opacity="0.85"/>
<circle cx="258.8" cy="483.2" r="0.68" fill="#6868f2" fill-opacity="0.85"/>
<circle cx="258.7" cy="500.8" r="0.68" fill="#6868f2" fill-opacity="0.85"/>
<circle cx="259.0" cy="494.4" r="0.68" fill="#6868f2" fill-opacity="0.85"/>
<circle cx="258.9" cy="483.6" r="0.68" fill="#6868f2" fill-opacity="0.85"/>
<circle cx="258.7" cy="491.5" r="0.68" fill="#6868f2" fill-opacity="0.85"/>
<circle cx="258.9" cy="488.1" r="0.68" fill="#6868f2" fill-opacity="0.85"/>
<circle cx="259.0" cy="494.1" r="0.68" fill="#6868f2" fill-opacity="0.85"/>
<circle cx="258.9" cy="485.8" r="0.68" fill="#6868f2" fill-opacity="0.85"/>
<circle cx="258.8" cy="491.9" r="0.68" fill="#6868f2" fill-opacity="0.85"/>
<circle cx="258.9" cy="483.2" r="0.68" fill="#6868f2" fill-opacity="0.85"/>
<circle cx="258.9" cy="489.1" r="0.68" fill="#6868f2" fill-opacity="0.85"/>
<circle cx="259.0" cy="485.1" r="0.68" fill="#6868f2" fill-opacity="0.85"/>
<circle cx="258.8" cy="501.0" r="0.68" fill="#6868f2" fill-opacity="0.85"/>
<circle cx="259.0" cy="503.3" r="0.68" fill="#6868f2" fill-opacity="0.85"/>
<circle cx="259.1" cy="482.5" r="0.68" fill="#6868f2" fill-opacity="0.85"/>
<circle cx="259.0" cy="493.7" r="0.68" fill="#6868f2" fill-opacity="0.85"/>
<circle cx="259.0" cy="500.4" r="0.68" fill="#6868f2" fill-opacity="0.85"/>
<circle cx="258.8" cy="485.4" r="0.68" fill="#6868f2" fill-opacity="0.85"/>
<circle cx="259.1" cy="489.7" r="0.68" fill="#6868f2" fill-opacity="0.85"/>
<circle cx="258.8" cy="499.2" r="0.68" fill="#6868f2" fill-opacity="0.85"/>
<circle cx="258.8" cy="496.1" r="0.68" fill="#6868f2" fill-opacity="0.85"/>
<circle cx="258.9" cy="489.5" r="0.68" fill="#6868f2" fill-opacity="0.85"/>
<circle cx="259.1" cy="503.4" r="0.68" fill="#6868f2" fill-opacity="0.85"/>
<circle cx="258.7" cy="486.5" r="0.68" fill="#6868f2" fill-opacity="0.85"/>
<circle cx="258.8" cy="490.7" r="0.68" fill="#6868f2" fill-opacity="0.85"/>
<circle cx="258.7" cy="502.1" r="0.68" fill="#6868f2" fill-opacity="0.85"/>
<circle cx="258.9" cy="491.2" r="0.68" fill="#6868f2" fill-opacity="0.85"/>
<circle cx="258.8" cy="486.3" r="0.68" fill="#6868f2" fill-opacity="0.85"/>
<circle cx="258.8" cy="483.9" r="0.68" fill="#6868f2" fill-opacity="0.85"/>
<circle cx="259.0" cy="491.5" r="0.68" fill="#6868f2" fill-opacity="0.85"/>
<circle cx="258.9" cy="488.9" r="0.68" fill="#6868f2" fill-opacity="0.85"/>
<circle cx="259.1" cy="485.4" r="0.68" fill="#6868f2" fill-opacity="0.85"/>
<circle cx="258.9" cy="503.0" r="0.68" fill="#6868f2" fill-opacity="0.85"/>
<circle cx="259.0" cy="476.1" r="0.68" fill="#6868f2" fill-opacity="0.85"/>
<circle cx="258.7" cy="509.3" r="0.68" fill="#6868f2" fill-opacity="0.85"/>
<circle cx="259.08" cy="448.99" r="0.78" fill="#6868f2" fill-opacity="1"/>
<circle cx="258.79" cy="450.25" r="0.78" fill="#6868f2" fill-opacity="1"/>
<circle cx="258.89" cy="462.06" r="0.78" fill="#6868f2" fill-opacity="1"/>
<line x1="264.50" y1="466.08" x2="264.50" y2="509.30" stroke="#f26868" stroke-width="0.5" />
<rect x="262.80" y="487.19" width="3.40" height="15.83" fill="#ff8080" stroke="#f26868" stroke-width="0.35" fill-opacity="0.38"/>
<line x1="262.80" y1="495.10" x2="266.20" y2="495.10" stroke="#f26868" stroke-width="0.4" />
<circle cx="264.3" cy="488.1" r="0.68" fill="#f26868" fill-opacity="0.85"/>
<circle cx="264.3" cy="497.1" r="0.68" fill="#f26868" fill-opacity="0.85"/>
<circle cx="264.4" cy="487.1" r="0.68" fill="#f26868" fill-opacity="0.85"/>
<circle cx="264.3" cy="476.5" r="0.68" fill="#f26868" fill-opacity="0.85"/>
<circle cx="264.5" cy="466.7" r="0.68" fill="#f26868" fill-opacity="0.85"/>
<circle cx="264.6" cy="498.7" r="0.68" fill="#f26868" fill-opacity="0.85"/>
<circle cx="264.4" cy="486.2" r="0.68" fill="#f26868" fill-opacity="0.85"/>
<circle cx="264.6" cy="494.9" r="0.68" fill="#f26868" fill-opacity="0.85"/>
<circle cx="264.6" cy="491.8" r="0.68" fill="#f26868" fill-opacity="0.85"/>
<circle cx="264.4" cy="503.9" r="0.68" fill="#f26868" fill-opacity="0.85"/>
<circle cx="264.5" cy="484.3" r="0.68" fill="#f26868" fill-opacity="0.85"/>
<circle cx="264.4" cy="493.9" r="0.68" fill="#f26868" fill-opacity="0.85"/>
<circle cx="264.7" cy="474.3" r="0.68" fill="#f26868" fill-opacity="0.85"/>
<circle cx="264.5" cy="504.6" r="0.68" fill="#f26868" fill-opacity="0.85"/>
<circle cx="264.3" cy="484.6" r="0.68" fill="#f26868" fill-opacity="0.85"/>
<circle cx="264.4" cy="480.5" r="0.68" fill="#f26868" fill-opacity="0.85"/>
<circle cx="264.6" cy="473.0" r="0.68" fill="#f26868" fill-opacity="0.85"/>
<circle cx="264.5" cy="507.0" r="0.68" fill="#f26868" fill-opacity="0.85"/>
<circle cx="264.6" cy="488.5" r="0.68" fill="#f26868" fill-opacity="0.85"/>
<circle cx="264.4" cy="482.9" r="0.68" fill="#f26868" fill-opacity="0.85"/>
<circle cx="264.6" cy="489.7" r="0.68" fill="#f26868" fill-opacity="0.85"/>
<circle cx="264.6" cy="484.0" r="0.68" fill="#f26868" fill-opacity="0.85"/>
<circle cx="264.3" cy="473.4" r="0.68" fill="#f26868" fill-opacity="0.85"/>
<circle cx="264.5" cy="477.5" r="0.68" fill="#f26868" fill-opacity="0.85"/>
<circle cx="264.4" cy="486.6" r="0.68" fill="#f26868" fill-opacity="0.85"/>
<circle cx="264.6" cy="494.8" r="0.68" fill="#f26868" fill-opacity="0.85"/>
<circle cx="264.6" cy="491.2" r="0.68" fill="#f26868" fill-opacity="0.85"/>
<circle cx="264.6" cy="499.6" r="0.68" fill="#f26868" fill-opacity="0.85"/>
<circle cx="264.4" cy="475.4" r="0.68" fill="#f26868" fill-opacity="0.85"/>
<circle cx="264.3" cy="495.4" r="0.68" fill="#f26868" fill-opacity="0.85"/>
<circle cx="264.6" cy="468.6" r="0.68" fill="#f26868" fill-opacity="0.85"/>
<circle cx="264.5" cy="484.5" r="0.68" fill="#f26868" fill-opacity="0.85"/>
<circle cx="264.4" cy="480.0" r="0.68" fill="#f26868" fill-opacity="0.85"/>
<circle cx="264.4" cy="483.8" r="0.68" fill="#f26868" fill-opacity="0.85"/>
<circle cx="264.5" cy="466.1" r="0.68" fill="#f26868" fill-opacity="0.85"/>
<circle cx="264.3" cy="509.3" r="0.68" fill="#f26868" fill-opacity="0.85"/>
<circle cx="264.55" cy="436.43" r="0.78" fill="#f26868" fill-opacity="1"/>
<line x1="272.50" y1="510.55" x2="272.50" y2="516.08" stroke="#6868f2" stroke-width="0.5" />
<rect x="270.80" y="512.31" width="3.40" height="2.76" fill="#8080ff" stroke="#6868f2" stroke-width="0.35" fill-opacity="0.38"/>
<line x1="270.80" y1="513.69" x2="274.20" y2="513.69" stroke="#6868f2" stroke-width="0.4" />
<circle cx="272.4" cy="512.7" r="0.68" fill="#6868f2" fill-opacity="0.85"/>
<circle cx="272.7" cy="514.6" r="0.68" fill="#6868f2" fill-opacity="0.85"/>
<circle cx="272.6" cy="514.4" r="0.68" fill="#6868f2" fill-opacity="0.85"/>
<circle cx="272.6" cy="513.5" r="0.68" fill="#6868f2" fill-opacity="0.85"/>
<circle cx="272.6" cy="514.9" r="0.68" fill="#6868f2" fill-opacity="0.85"/>
<circle cx="272.3" cy="515.3" r="0.68" fill="#6868f2" fill-opacity="0.85"/>
<circle cx="272.6" cy="513.1" r="0.68" fill="#6868f2" fill-opacity="0.85"/>
<circle cx="272.5" cy="513.8" r="0.68" fill="#6868f2" fill-opacity="0.85"/>
<circle cx="272.5" cy="514.8" r="0.68" fill="#6868f2" fill-opacity="0.85"/>
<circle cx="272.4" cy="513.8" r="0.68" fill="#6868f2" fill-opacity="0.85"/>
<circle cx="272.6" cy="512.5" r="0.68" fill="#6868f2" fill-opacity="0.85"/>
<circle cx="272.6" cy="514.3" r="0.68" fill="#6868f2" fill-opacity="0.85"/>
<circle cx="272.6" cy="511.6" r="0.68" fill="#6868f2" fill-opacity="0.85"/>
<circle cx="272.4" cy="511.4" r="0.68" fill="#6868f2" fill-opacity="0.85"/>
<circle cx="272.4" cy="512.0" r="0.68" fill="#6868f2" fill-opacity="0.85"/>
<circle cx="272.4" cy="513.5" r="0.68" fill="#6868f2" fill-opacity="0.85"/>
<circle cx="272.3" cy="514.0" r="0.68" fill="#6868f2" fill-opacity="0.85"/>
<circle cx="272.4" cy="511.6" r="0.68" fill="#6868f2" fill-opacity="0.85"/>
<circle cx="272.3" cy="511.6" r="0.68" fill="#6868f2" fill-opacity="0.85"/>
<circle cx="272.6" cy="513.7" r="0.68" fill="#6868f2" fill-opacity="0.85"/>
<circle cx="272.4" cy="511.4" r="0.68" fill="#6868f2" fill-opacity="0.85"/>
<circle cx="272.3" cy="512.0" r="0.68" fill="#6868f2" fill-opacity="0.85"/>
<circle cx="272.3" cy="512.7" r="0.68" fill="#6868f2" fill-opacity="0.85"/>
<circle cx="272.6" cy="514.5" r="0.68" fill="#6868f2" fill-opacity="0.85"/>
<circle cx="272.4" cy="512.1" r="0.68" fill="#6868f2" fill-opacity="0.85"/>
<circle cx="272.5" cy="511.5" r="0.68" fill="#6868f2" fill-opacity="0.85"/>
<circle cx="272.5" cy="512.7" r="0.68" fill="#6868f2" fill-opacity="0.85"/>
<circle cx="272.6" cy="515.1" r="0.68" fill="#6868f2" fill-opacity="0.85"/>
<circle cx="272.7" cy="513.4" r="0.68" fill="#6868f2" fill-opacity="0.85"/>
<circle cx="272.4" cy="511.6" r="0.68" fill="#6868f2" fill-opacity="0.85"/>
<circle cx="272.6" cy="513.3" r="0.68" fill="#6868f2" fill-opacity="0.85"/>
<circle cx="272.7" cy="512.9" r="0.68" fill="#6868f2" fill-opacity="0.85"/>
<circle cx="272.5" cy="512.5" r="0.68" fill="#6868f2" fill-opacity="0.85"/>
<circle cx="272.7" cy="511.8" r="0.68" fill="#6868f2" fill-opacity="0.85"/>
<circle cx="272.6" cy="510.6" r="0.68" fill="#6868f2" fill-opacity="0.85"/>
<circle cx="272.4" cy="516.1" r="0.68" fill="#6868f2" fill-opacity="0.85"/>
<circle cx="272.65" cy="497.49" r="0.78" fill="#6868f2" fill-opacity="1"/>
<circle cx="272.53" cy="499.25" r="0.78" fill="#6868f2" fill-opacity="1"/>
<circle cx="272.34" cy="501.01" r="0.78" fill="#6868f2" fill-opacity="1"/>
<line x1="278.10" y1="510.55" x2="278.10" y2="516.08" stroke="#f26868" stroke-width="0.5" />
<rect x="276.40" y="511.81" width="3.40" height="3.27" fill="#ff8080" stroke="#f26868" stroke-width="0.35" fill-opacity="0.38"/>
<line x1="276.40" y1="513.44" x2="279.80" y2="513.44" stroke="#f26868" stroke-width="0.4" />
<circle cx="278.1" cy="513.5" r="0.68" fill="#f26868" fill-opacity="0.85"/>
<circle cx="278.2" cy="512.6" r="0.68" fill="#f26868" fill-opacity="0.85"/>
<circle cx="278.0" cy="514.3" r="0.68" fill="#f26868" fill-opacity="0.85"/>
<circle cx="278.3" cy="511.4" r="0.68" fill="#f26868" fill-opacity="0.85"/>
<circle cx="278.1" cy="513.0" r="0.68" fill="#f26868" fill-opacity="0.85"/>
<circle cx="278.1" cy="515.0" r="0.68" fill="#f26868" fill-opacity="0.85"/>
<circle cx="278.0" cy="514.8" r="0.68" fill="#f26868" fill-opacity="0.85"/>
<circle cx="277.9" cy="514.8" r="0.68" fill="#f26868" fill-opacity="0.85"/>
<circle cx="278.3" cy="513.9" r="0.68" fill="#f26868" fill-opacity="0.85"/>
<circle cx="278.2" cy="514.6" r="0.68" fill="#f26868" fill-opacity="0.85"/>
<circle cx="277.9" cy="514.5" r="0.68" fill="#f26868" fill-opacity="0.85"/>
<circle cx="278.0" cy="511.8" r="0.68" fill="#f26868" fill-opacity="0.85"/>
<circle cx="278.1" cy="513.2" r="0.68" fill="#f26868" fill-opacity="0.85"/>
<circle cx="278.1" cy="513.9" r="0.68" fill="#f26868" fill-opacity="0.85"/>
<circle cx="278.0" cy="512.8" r="0.68" fill="#f26868" fill-opacity="0.85"/>
<circle cx="278.3" cy="515.7" r="0.68" fill="#f26868" fill-opacity="0.85"/>
<circle cx="278.0" cy="514.7" r="0.68" fill="#f26868" fill-opacity="0.85"/>
<circle cx="278.1" cy="513.1" r="0.68" fill="#f26868" fill-opacity="0.85"/>
<circle cx="278.3" cy="511.8" r="0.68" fill="#f26868" fill-opacity="0.85"/>
<circle cx="278.2" cy="514.6" r="0.68" fill="#f26868" fill-opacity="0.85"/>
<circle cx="278.1" cy="515.2" r="0.68" fill="#f26868" fill-opacity="0.85"/>
<circle cx="278.0" cy="514.2" r="0.68" fill="#f26868" fill-opacity="0.85"/>
<circle cx="278.1" cy="513.7" r="0.68" fill="#f26868" fill-opacity="0.85"/>
<circle cx="278.1" cy="514.8" r="0.68" fill="#f26868" fill-opacity="0.85"/>
<circle cx="278.2" cy="512.2" r="0.68" fill="#f26868" fill-opacity="0.85"/>
<circle cx="278.0" cy="512.4" r="0.68" fill="#f26868" fill-opacity="0.85"/>
<circle cx="278.0" cy="513.4" r="0.68" fill="#f26868" fill-opacity="0.85"/>
<circle cx="278.1" cy="514.7" r="0.68" fill="#f26868" fill-opacity="0.85"/>
<circle cx="278.0" cy="514.2" r="0.68" fill="#f26868" fill-opacity="0.85"/>
<circle cx="278.3" cy="512.5" r="0.68" fill="#f26868" fill-opacity="0.85"/>
<circle cx="278.1" cy="511.3" r="0.68" fill="#f26868" fill-opacity="0.85"/>
<circle cx="278.0" cy="513.1" r="0.68" fill="#f26868" fill-opacity="0.85"/>
<circle cx="278.0" cy="512.7" r="0.68" fill="#f26868" fill-opacity="0.85"/>
<circle cx="278.2" cy="511.3" r="0.68" fill="#f26868" fill-opacity="0.85"/>
<circle cx="278.0" cy="510.6" r="0.68" fill="#f26868" fill-opacity="0.85"/>
<circle cx="278.2" cy="516.1" r="0.68" fill="#f26868" fill-opacity="0.85"/>
<circle cx="277.91" cy="485.43" r="0.78" fill="#f26868" fill-opacity="1"/>
<circle cx="277.98" cy="489.20" r="0.78" fill="#f26868" fill-opacity="1"/>
<circle cx="277.92" cy="498.74" r="0.78" fill="#f26868" fill-opacity="1"/>
<line x1="286.00" y1="505.53" x2="286.00" y2="514.32" stroke="#6868f2" stroke-width="0.5" />
<rect x="284.30" y="508.79" width="3.40" height="3.77" fill="#8080ff" stroke="#6868f2" stroke-width="0.35" fill-opacity="0.38"/>
<line x1="284.30" y1="510.68" x2="287.70" y2="510.68" stroke="#6868f2" stroke-width="0.4" />
<circle cx="285.9" cy="509.7" r="0.68" fill="#6868f2" fill-opacity="0.85"/>
<circle cx="286.2" cy="512.4" r="0.68" fill="#6868f2" fill-opacity="0.85"/>
<circle cx="285.9" cy="506.7" r="0.68" fill="#6868f2" fill-opacity="0.85"/>
<circle cx="286.2" cy="511.1" r="0.68" fill="#6868f2" fill-opacity="0.85"/>
<circle cx="286.0" cy="512.3" r="0.68" fill="#6868f2" fill-opacity="0.85"/>
<circle cx="286.2" cy="511.0" r="0.68" fill="#6868f2" fill-opacity="0.85"/>
<circle cx="286.1" cy="510.3" r="0.68" fill="#6868f2" fill-opacity="0.85"/>
<circle cx="286.1" cy="507.9" r="0.68" fill="#6868f2" fill-opacity="0.85"/>
<circle cx="286.0" cy="506.2" r="0.68" fill="#6868f2" fill-opacity="0.85"/>
<circle cx="286.1" cy="509.2" r="0.68" fill="#6868f2" fill-opacity="0.85"/>
<circle cx="286.0" cy="507.5" r="0.68" fill="#6868f2" fill-opacity="0.85"/>
<circle cx="285.8" cy="511.9" r="0.68" fill="#6868f2" fill-opacity="0.85"/>
<circle cx="286.2" cy="511.5" r="0.68" fill="#6868f2" fill-opacity="0.85"/>
<circle cx="286.1" cy="510.7" r="0.68" fill="#6868f2" fill-opacity="0.85"/>
<circle cx="286.1" cy="511.9" r="0.68" fill="#6868f2" fill-opacity="0.85"/>
<circle cx="286.1" cy="507.5" r="0.68" fill="#6868f2" fill-opacity="0.85"/>
<circle cx="285.9" cy="510.8" r="0.68" fill="#6868f2" fill-opacity="0.85"/>
<circle cx="286.0" cy="510.7" r="0.68" fill="#6868f2" fill-opacity="0.85"/>
<circle cx="286.1" cy="511.6" r="0.68" fill="#6868f2" fill-opacity="0.85"/>
<circle cx="286.2" cy="511.6" r="0.68" fill="#6868f2" fill-opacity="0.85"/>
<circle cx="286.2" cy="509.7" r="0.68" fill="#6868f2" fill-opacity="0.85"/>
<circle cx="285.9" cy="507.9" r="0.68" fill="#6868f2" fill-opacity="0.85"/>
<circle cx="286.1" cy="508.1" r="0.68" fill="#6868f2" fill-opacity="0.85"/>
<circle cx="286.0" cy="511.4" r="0.68" fill="#6868f2" fill-opacity="0.85"/>
<circle cx="286.0" cy="506.7" r="0.68" fill="#6868f2" fill-opacity="0.85"/>
<circle cx="285.9" cy="508.9" r="0.68" fill="#6868f2" fill-opacity="0.85"/>
<circle cx="285.9" cy="509.7" r="0.68" fill="#6868f2" fill-opacity="0.85"/>
<circle cx="286.0" cy="506.9" r="0.68" fill="#6868f2" fill-opacity="0.85"/>
<circle cx="286.0" cy="508.3" r="0.68" fill="#6868f2" fill-opacity="0.85"/>
<circle cx="285.9" cy="507.9" r="0.68" fill="#6868f2" fill-opacity="0.85"/>
<circle cx="285.9" cy="506.8" r="0.68" fill="#6868f2" fill-opacity="0.85"/>
<circle cx="286.0" cy="512.8" r="0.68" fill="#6868f2" fill-opacity="0.85"/>
<circle cx="286.1" cy="507.8" r="0.68" fill="#6868f2" fill-opacity="0.85"/>
<circle cx="286.0" cy="508.2" r="0.68" fill="#6868f2" fill-opacity="0.85"/>
<circle cx="285.9" cy="505.5" r="0.68" fill="#6868f2" fill-opacity="0.85"/>
<circle cx="286.2" cy="514.3" r="0.68" fill="#6868f2" fill-opacity="0.85"/>
<circle cx="285.95" cy="479.65" r="0.78" fill="#6868f2" fill-opacity="1"/>
<circle cx="286.18" cy="497.99" r="0.78" fill="#6868f2" fill-opacity="1"/>
<circle cx="286.19" cy="499.75" r="0.78" fill="#6868f2" fill-opacity="1"/>
<line x1="291.60" y1="506.78" x2="291.60" y2="514.32" stroke="#f26868" stroke-width="0.5" />
<rect x="289.90" y="508.79" width="3.40" height="4.27" fill="#ff8080" stroke="#f26868" stroke-width="0.35" fill-opacity="0.38"/>
<line x1="289.90" y1="510.93" x2="293.30" y2="510.93" stroke="#f26868" stroke-width="0.4" />
<circle cx="291.6" cy="508.7" r="0.68" fill="#f26868" fill-opacity="0.85"/>
<circle cx="291.5" cy="509.0" r="0.68" fill="#f26868" fill-opacity="0.85"/>
<circle cx="291.4" cy="511.6" r="0.68" fill="#f26868" fill-opacity="0.85"/>
<circle cx="291.6" cy="509.3" r="0.68" fill="#f26868" fill-opacity="0.85"/>
<circle cx="291.8" cy="510.8" r="0.68" fill="#f26868" fill-opacity="0.85"/>
<circle cx="291.8" cy="509.2" r="0.68" fill="#f26868" fill-opacity="0.85"/>
<circle cx="291.4" cy="509.0" r="0.68" fill="#f26868" fill-opacity="0.85"/>
<circle cx="291.6" cy="513.4" r="0.68" fill="#f26868" fill-opacity="0.85"/>
<circle cx="291.6" cy="511.2" r="0.68" fill="#f26868" fill-opacity="0.85"/>
<circle cx="291.5" cy="513.8" r="0.68" fill="#f26868" fill-opacity="0.85"/>
<circle cx="291.7" cy="511.2" r="0.68" fill="#f26868" fill-opacity="0.85"/>
<circle cx="291.6" cy="509.5" r="0.68" fill="#f26868" fill-opacity="0.85"/>
<circle cx="291.7" cy="513.4" r="0.68" fill="#f26868" fill-opacity="0.85"/>
<circle cx="291.5" cy="510.1" r="0.68" fill="#f26868" fill-opacity="0.85"/>
<circle cx="291.8" cy="512.7" r="0.68" fill="#f26868" fill-opacity="0.85"/>
<circle cx="291.7" cy="512.1" r="0.68" fill="#f26868" fill-opacity="0.85"/>
<circle cx="291.6" cy="511.2" r="0.68" fill="#f26868" fill-opacity="0.85"/>
<circle cx="291.5" cy="512.4" r="0.68" fill="#f26868" fill-opacity="0.85"/>
<circle cx="291.6" cy="511.2" r="0.68" fill="#f26868" fill-opacity="0.85"/>
<circle cx="291.5" cy="509.1" r="0.68" fill="#f26868" fill-opacity="0.85"/>
<circle cx="291.7" cy="508.8" r="0.68" fill="#f26868" fill-opacity="0.85"/>
<circle cx="291.7" cy="511.0" r="0.68" fill="#f26868" fill-opacity="0.85"/>
<circle cx="291.6" cy="511.8" r="0.68" fill="#f26868" fill-opacity="0.85"/>
<circle cx="291.8" cy="510.5" r="0.68" fill="#f26868" fill-opacity="0.85"/>
<circle cx="291.4" cy="510.2" r="0.68" fill="#f26868" fill-opacity="0.85"/>
<circle cx="291.7" cy="510.2" r="0.68" fill="#f26868" fill-opacity="0.85"/>
<circle cx="291.7" cy="512.9" r="0.68" fill="#f26868" fill-opacity="0.85"/>
<circle cx="291.4" cy="513.3" r="0.68" fill="#f26868" fill-opacity="0.85"/>
<circle cx="291.5" cy="508.6" r="0.68" fill="#f26868" fill-opacity="0.85"/>
<circle cx="291.4" cy="511.6" r="0.68" fill="#f26868" fill-opacity="0.85"/>
<circle cx="291.6" cy="510.6" r="0.68" fill="#f26868" fill-opacity="0.85"/>
<circle cx="291.7" cy="510.7" r="0.68" fill="#f26868" fill-opacity="0.85"/>
<circle cx="291.5" cy="512.0" r="0.68" fill="#f26868" fill-opacity="0.85"/>
<circle cx="291.7" cy="511.7" r="0.68" fill="#f26868" fill-opacity="0.85"/>
<circle cx="291.5" cy="506.8" r="0.68" fill="#f26868" fill-opacity="0.85"/>
<circle cx="291.7" cy="514.3" r="0.68" fill="#f26868" fill-opacity="0.85"/>
<circle cx="291.51" cy="472.86" r="0.78" fill="#f26868" fill-opacity="1"/>
<circle cx="291.79" cy="475.38" r="0.78" fill="#f26868" fill-opacity="1"/>
<circle cx="291.58" cy="490.95" r="0.78" fill="#f26868" fill-opacity="1"/>
<line x1="299.90" y1="437.69" x2="299.90" y2="473.37" stroke="#6868f2" stroke-width="0.5" />
<rect x="298.20" y="445.23" width="3.40" height="17.59" fill="#8080ff" stroke="#6868f2" stroke-width="0.35" fill-opacity="0.38"/>
<line x1="298.20" y1="453.52" x2="301.60" y2="453.52" stroke="#6868f2" stroke-width="0.4" />
<circle cx="299.7" cy="457.5" r="0.68" fill="#6868f2" fill-opacity="0.85"/>
<circle cx="299.8" cy="469.6" r="0.68" fill="#6868f2" fill-opacity="0.85"/>
<circle cx="300.0" cy="439.8" r="0.68" fill="#6868f2" fill-opacity="0.85"/>
<circle cx="299.9" cy="446.5" r="0.68" fill="#6868f2" fill-opacity="0.85"/>
<circle cx="300.1" cy="454.4" r="0.68" fill="#6868f2" fill-opacity="0.85"/>
<circle cx="299.7" cy="456.4" r="0.68" fill="#6868f2" fill-opacity="0.85"/>
<circle cx="299.9" cy="452.1" r="0.68" fill="#6868f2" fill-opacity="0.85"/>
<circle cx="299.8" cy="449.6" r="0.68" fill="#6868f2" fill-opacity="0.85"/>
<circle cx="299.7" cy="460.9" r="0.68" fill="#6868f2" fill-opacity="0.85"/>
<circle cx="299.7" cy="447.3" r="0.68" fill="#6868f2" fill-opacity="0.85"/>
<circle cx="299.7" cy="458.3" r="0.68" fill="#6868f2" fill-opacity="0.85"/>
<circle cx="299.8" cy="447.1" r="0.68" fill="#6868f2" fill-opacity="0.85"/>
<circle cx="299.9" cy="461.1" r="0.68" fill="#6868f2" fill-opacity="0.85"/>
<circle cx="299.9" cy="446.9" r="0.68" fill="#6868f2" fill-opacity="0.85"/>
<circle cx="299.8" cy="444.6" r="0.68" fill="#6868f2" fill-opacity="0.85"/>
<circle cx="300.0" cy="455.1" r="0.68" fill="#6868f2" fill-opacity="0.85"/>
<circle cx="299.9" cy="458.7" r="0.68" fill="#6868f2" fill-opacity="0.85"/>
<circle cx="300.1" cy="461.6" r="0.68" fill="#6868f2" fill-opacity="0.85"/>
<circle cx="299.8" cy="443.2" r="0.68" fill="#6868f2" fill-opacity="0.85"/>
<circle cx="299.9" cy="453.2" r="0.68" fill="#6868f2" fill-opacity="0.85"/>
<circle cx="299.9" cy="465.9" r="0.68" fill="#6868f2" fill-opacity="0.85"/>
<circle cx="299.8" cy="450.9" r="0.68" fill="#6868f2" fill-opacity="0.85"/>
<circle cx="300.0" cy="451.2" r="0.68" fill="#6868f2" fill-opacity="0.85"/>
<circle cx="299.8" cy="455.7" r="0.68" fill="#6868f2" fill-opacity="0.85"/>
<circle cx="300.1" cy="439.3" r="0.68" fill="#6868f2" fill-opacity="0.85"/>
<circle cx="299.8" cy="455.6" r="0.68" fill="#6868f2" fill-opacity="0.85"/>
<circle cx="299.8" cy="444.5" r="0.68" fill="#6868f2" fill-opacity="0.85"/>
<circle cx="299.9" cy="448.7" r="0.68" fill="#6868f2" fill-opacity="0.85"/>
<circle cx="299.9" cy="441.6" r="0.68" fill="#6868f2" fill-opacity="0.85"/>
<circle cx="299.8" cy="461.8" r="0.68" fill="#6868f2" fill-opacity="0.85"/>
<circle cx="299.7" cy="452.2" r="0.68" fill="#6868f2" fill-opacity="0.85"/>
<circle cx="300.1" cy="440.6" r="0.68" fill="#6868f2" fill-opacity="0.85"/>
<circle cx="299.8" cy="450.8" r="0.68" fill="#6868f2" fill-opacity="0.85"/>
<circle cx="299.7" cy="464.8" r="0.68" fill="#6868f2" fill-opacity="0.85"/>
<circle cx="300.0" cy="437.7" r="0.68" fill="#6868f2" fill-opacity="0.85"/>
<circle cx="299.9" cy="473.4" r="0.68" fill="#6868f2" fill-opacity="0.85"/>
<circle cx="299.83" cy="490.95" r="0.78" fill="#6868f2" fill-opacity="1"/>
<circle cx="299.83" cy="508.54" r="0.78" fill="#6868f2" fill-opacity="1"/>
<line x1="305.50" y1="436.43" x2="305.50" y2="459.05" stroke="#f26868" stroke-width="0.5" />
<rect x="303.80" y="444.47" width="3.40" height="13.32" fill="#ff8080" stroke="#f26868" stroke-width="0.35" fill-opacity="0.38"/>
<line x1="303.80" y1="451.01" x2="307.20" y2="451.01" stroke="#f26868" stroke-width="0.4" />
<circle cx="305.6" cy="448.5" r="0.68" fill="#f26868" fill-opacity="0.85"/>
<circle cx="305.6" cy="441.4" r="0.68" fill="#f26868" fill-opacity="0.85"/>
<circle cx="305.6" cy="442.9" r="0.68" fill="#f26868" fill-opacity="0.85"/>
<circle cx="305.5" cy="442.1" r="0.68" fill="#f26868" fill-opacity="0.85"/>
<circle cx="305.6" cy="451.8" r="0.68" fill="#f26868" fill-opacity="0.85"/>
<circle cx="305.7" cy="452.5" r="0.68" fill="#f26868" fill-opacity="0.85"/>
<circle cx="305.4" cy="446.9" r="0.68" fill="#f26868" fill-opacity="0.85"/>
<circle cx="305.3" cy="451.0" r="0.68" fill="#f26868" fill-opacity="0.85"/>
<circle cx="305.5" cy="451.5" r="0.68" fill="#f26868" fill-opacity="0.85"/>
<circle cx="305.5" cy="444.5" r="0.68" fill="#f26868" fill-opacity="0.85"/>
<circle cx="305.4" cy="440.4" r="0.68" fill="#f26868" fill-opacity="0.85"/>
<circle cx="305.4" cy="451.6" r="0.68" fill="#f26868" fill-opacity="0.85"/>
<circle cx="305.6" cy="456.3" r="0.68" fill="#f26868" fill-opacity="0.85"/>
<circle cx="305.5" cy="441.3" r="0.68" fill="#f26868" fill-opacity="0.85"/>
<circle cx="305.4" cy="443.1" r="0.68" fill="#f26868" fill-opacity="0.85"/>
<circle cx="305.4" cy="452.0" r="0.68" fill="#f26868" fill-opacity="0.85"/>
<circle cx="305.5" cy="445.6" r="0.68" fill="#f26868" fill-opacity="0.85"/>
<circle cx="305.4" cy="453.0" r="0.68" fill="#f26868" fill-opacity="0.85"/>
<circle cx="305.5" cy="444.5" r="0.68" fill="#f26868" fill-opacity="0.85"/>
<circle cx="305.5" cy="449.4" r="0.68" fill="#f26868" fill-opacity="0.85"/>
<circle cx="305.5" cy="449.9" r="0.68" fill="#f26868" fill-opacity="0.85"/>
<circle cx="305.5" cy="454.8" r="0.68" fill="#f26868" fill-opacity="0.85"/>
<circle cx="305.6" cy="453.9" r="0.68" fill="#f26868" fill-opacity="0.85"/>
<circle cx="305.3" cy="447.8" r="0.68" fill="#f26868" fill-opacity="0.85"/>
<circle cx="305.7" cy="453.7" r="0.68" fill="#f26868" fill-opacity="0.85"/>
<circle cx="305.4" cy="450.3" r="0.68" fill="#f26868" fill-opacity="0.85"/>
<circle cx="305.3" cy="446.1" r="0.68" fill="#f26868" fill-opacity="0.85"/>
<circle cx="305.6" cy="454.3" r="0.68" fill="#f26868" fill-opacity="0.85"/>
<circle cx="305.5" cy="451.8" r="0.68" fill="#f26868" fill-opacity="0.85"/>
<circle cx="305.5" cy="443.1" r="0.68" fill="#f26868" fill-opacity="0.85"/>
<circle cx="305.4" cy="453.1" r="0.68" fill="#f26868" fill-opacity="0.85"/>
<circle cx="305.6" cy="446.6" r="0.68" fill="#f26868" fill-opacity="0.85"/>
<circle cx="305.4" cy="451.2" r="0.68" fill="#f26868" fill-opacity="0.85"/>
<circle cx="305.6" cy="444.6" r="0.68" fill="#f26868" fill-opacity="0.85"/>
<circle cx="305.4" cy="436.4" r="0.68" fill="#f26868" fill-opacity="0.85"/>
<circle cx="305.5" cy="459.0" r="0.68" fill="#f26868" fill-opacity="0.85"/>
<circle cx="305.56" cy="481.16" r="0.78" fill="#f26868" fill-opacity="1"/>
<circle cx="305.45" cy="484.17" r="0.78" fill="#f26868" fill-opacity="1"/>
<circle cx="305.49" cy="486.68" r="0.78" fill="#f26868" fill-opacity="1"/>
<circle cx="305.33" cy="497.99" r="0.78" fill="#f26868" fill-opacity="1"/>
<circle cx="305.56" cy="501.01" r="0.78" fill="#f26868" fill-opacity="1"/>
<line x1="313.40" y1="497.99" x2="313.40" y2="513.07" stroke="#6868f2" stroke-width="0.5" />
<rect x="311.70" y="501.76" width="3.40" height="7.54" fill="#8080ff" stroke="#6868f2" stroke-width="0.35" fill-opacity="0.38"/>
<line x1="311.70" y1="505.53" x2="315.10" y2="505.53" stroke="#6868f2" stroke-width="0.4" />
<circle cx="313.2" cy="506.7" r="0.68" fill="#6868f2" fill-opacity="0.85"/>
<circle cx="313.5" cy="503.4" r="0.68" fill="#6868f2" fill-opacity="0.85"/>
<circle cx="313.4" cy="503.5" r="0.68" fill="#6868f2" fill-opacity="0.85"/>
<circle cx="313.3" cy="504.9" r="0.68" fill="#6868f2" fill-opacity="0.85"/>
<circle cx="313.2" cy="502.5" r="0.68" fill="#6868f2" fill-opacity="0.85"/>
<circle cx="313.4" cy="500.6" r="0.68" fill="#6868f2" fill-opacity="0.85"/>
<circle cx="313.4" cy="509.4" r="0.68" fill="#6868f2" fill-opacity="0.85"/>
<circle cx="313.5" cy="506.1" r="0.68" fill="#6868f2" fill-opacity="0.85"/>
<circle cx="313.3" cy="510.7" r="0.68" fill="#6868f2" fill-opacity="0.85"/>
<circle cx="313.4" cy="507.2" r="0.68" fill="#6868f2" fill-opacity="0.85"/>
<circle cx="313.6" cy="504.3" r="0.68" fill="#6868f2" fill-opacity="0.85"/>
<circle cx="313.3" cy="503.2" r="0.68" fill="#6868f2" fill-opacity="0.85"/>
<circle cx="313.6" cy="500.7" r="0.68" fill="#6868f2" fill-opacity="0.85"/>
<circle cx="313.6" cy="501.8" r="0.68" fill="#6868f2" fill-opacity="0.85"/>
<circle cx="313.6" cy="500.4" r="0.68" fill="#6868f2" fill-opacity="0.85"/>
<circle cx="313.6" cy="502.8" r="0.68" fill="#6868f2" fill-opacity="0.85"/>
<circle cx="313.3" cy="507.8" r="0.68" fill="#6868f2" fill-opacity="0.85"/>
<circle cx="313.5" cy="506.7" r="0.68" fill="#6868f2" fill-opacity="0.85"/>
<circle cx="313.4" cy="500.3" r="0.68" fill="#6868f2" fill-opacity="0.85"/>
<circle cx="313.3" cy="505.4" r="0.68" fill="#6868f2" fill-opacity="0.85"/>
<circle cx="313.6" cy="506.2" r="0.68" fill="#6868f2" fill-opacity="0.85"/>
<circle cx="313.5" cy="507.6" r="0.68" fill="#6868f2" fill-opacity="0.85"/>
<circle cx="313.5" cy="509.5" r="0.68" fill="#6868f2" fill-opacity="0.85"/>
<circle cx="313.4" cy="507.0" r="0.68" fill="#6868f2" fill-opacity="0.85"/>
<circle cx="313.2" cy="508.0" r="0.68" fill="#6868f2" fill-opacity="0.85"/>
<circle cx="313.5" cy="505.3" r="0.68" fill="#6868f2" fill-opacity="0.85"/>
<circle cx="313.3" cy="505.5" r="0.68" fill="#6868f2" fill-opacity="0.85"/>
<circle cx="313.3" cy="501.8" r="0.68" fill="#6868f2" fill-opacity="0.85"/>
<circle cx="313.4" cy="507.6" r="0.68" fill="#6868f2" fill-opacity="0.85"/>
<circle cx="313.3" cy="502.7" r="0.68" fill="#6868f2" fill-opacity="0.85"/>
<circle cx="313.4" cy="502.6" r="0.68" fill="#6868f2" fill-opacity="0.85"/>
<circle cx="313.5" cy="505.3" r="0.68" fill="#6868f2" fill-opacity="0.85"/>
<circle cx="313.2" cy="506.0" r="0.68" fill="#6868f2" fill-opacity="0.85"/>
<circle cx="313.5" cy="508.1" r="0.68" fill="#6868f2" fill-opacity="0.85"/>
<circle cx="313.2" cy="498.0" r="0.68" fill="#6868f2" fill-opacity="0.85"/>
<circle cx="313.4" cy="513.1" r="0.68" fill="#6868f2" fill-opacity="0.85"/>
<circle cx="313.46" cy="472.36" r="0.78" fill="#6868f2" fill-opacity="1"/>
<circle cx="313.47" cy="474.62" r="0.78" fill="#6868f2" fill-opacity="1"/>
<circle cx="313.22" cy="482.16" r="0.78" fill="#6868f2" fill-opacity="1"/>
<line x1="319.00" y1="499.25" x2="319.00" y2="513.07" stroke="#f26868" stroke-width="0.5" />
<rect x="317.30" y="503.02" width="3.40" height="6.78" fill="#ff8080" stroke="#f26868" stroke-width="0.35" fill-opacity="0.38"/>
<line x1="317.30" y1="506.41" x2="320.70" y2="506.41" stroke="#f26868" stroke-width="0.4" />
<circle cx="319.1" cy="504.3" r="0.68" fill="#f26868" fill-opacity="0.85"/>
<circle cx="319.1" cy="503.4" r="0.68" fill="#f26868" fill-opacity="0.85"/>
<circle cx="319.0" cy="505.3" r="0.68" fill="#f26868" fill-opacity="0.85"/>
<circle cx="318.8" cy="508.6" r="0.68" fill="#f26868" fill-opacity="0.85"/>
<circle cx="319.0" cy="502.6" r="0.68" fill="#f26868" fill-opacity="0.85"/>
<circle cx="319.1" cy="510.4" r="0.68" fill="#f26868" fill-opacity="0.85"/>
<circle cx="319.2" cy="507.0" r="0.68" fill="#f26868" fill-opacity="0.85"/>
<circle cx="319.1" cy="507.9" r="0.68" fill="#f26868" fill-opacity="0.85"/>
<circle cx="318.8" cy="505.5" r="0.68" fill="#f26868" fill-opacity="0.85"/>
<circle cx="319.2" cy="501.4" r="0.68" fill="#f26868" fill-opacity="0.85"/>
<circle cx="319.1" cy="511.2" r="0.68" fill="#f26868" fill-opacity="0.85"/>
<circle cx="318.9" cy="512.8" r="0.68" fill="#f26868" fill-opacity="0.85"/>
<circle cx="319.2" cy="502.6" r="0.68" fill="#f26868" fill-opacity="0.85"/>
<circle cx="319.1" cy="507.9" r="0.68" fill="#f26868" fill-opacity="0.85"/>
<circle cx="319.2" cy="503.6" r="0.68" fill="#f26868" fill-opacity="0.85"/>
<circle cx="318.9" cy="507.4" r="0.68" fill="#f26868" fill-opacity="0.85"/>
<circle cx="319.0" cy="503.8" r="0.68" fill="#f26868" fill-opacity="0.85"/>
<circle cx="319.0" cy="507.7" r="0.68" fill="#f26868" fill-opacity="0.85"/>
<circle cx="318.9" cy="509.8" r="0.68" fill="#f26868" fill-opacity="0.85"/>
<circle cx="319.1" cy="506.5" r="0.68" fill="#f26868" fill-opacity="0.85"/>
<circle cx="319.0" cy="505.1" r="0.68" fill="#f26868" fill-opacity="0.85"/>
<circle cx="318.9" cy="507.3" r="0.68" fill="#f26868" fill-opacity="0.85"/>
<circle cx="319.0" cy="509.0" r="0.68" fill="#f26868" fill-opacity="0.85"/>
<circle cx="319.2" cy="504.0" r="0.68" fill="#f26868" fill-opacity="0.85"/>
<circle cx="319.0" cy="510.7" r="0.68" fill="#f26868" fill-opacity="0.85"/>
<circle cx="319.2" cy="503.7" r="0.68" fill="#f26868" fill-opacity="0.85"/>
<circle cx="319.0" cy="503.0" r="0.68" fill="#f26868" fill-opacity="0.85"/>
<circle cx="319.2" cy="508.3" r="0.68" fill="#f26868" fill-opacity="0.85"/>
<circle cx="318.8" cy="505.3" r="0.68" fill="#f26868" fill-opacity="0.85"/>
<circle cx="319.0" cy="509.3" r="0.68" fill="#f26868" fill-opacity="0.85"/>
<circle cx="319.0" cy="500.4" r="0.68" fill="#f26868" fill-opacity="0.85"/>
<circle cx="319.1" cy="512.1" r="0.68" fill="#f26868" fill-opacity="0.85"/>
<circle cx="319.2" cy="509.0" r="0.68" fill="#f26868" fill-opacity="0.85"/>
<circle cx="319.0" cy="505.9" r="0.68" fill="#f26868" fill-opacity="0.85"/>
<circle cx="319.0" cy="499.2" r="0.68" fill="#f26868" fill-opacity="0.85"/>
<circle cx="319.1" cy="513.1" r="0.68" fill="#f26868" fill-opacity="0.85"/>
<circle cx="319.01" cy="461.06" r="0.78" fill="#f26868" fill-opacity="1"/>
<circle cx="319.08" cy="463.32" r="0.78" fill="#f26868" fill-opacity="1"/>
<circle cx="319.18" cy="475.38" r="0.78" fill="#f26868" fill-opacity="1"/>
<circle cx="318.81" cy="480.90" r="0.78" fill="#f26868" fill-opacity="1"/>
<text x="199.30" y="421.00" font-size="5.0" text-anchor="start" font-family='"Liberation Serif", serif' font-weight="bold" fill="#111"  stroke="#111" stroke-width="0.25">G-1</text>
<text x="188.80" y="474.50" font-size="3.75" text-anchor="middle" font-family='"Liberation Serif", serif' font-weight="bold" fill="#111" transform="rotate(-90 188.80 474.50)"  textLength="86.2" lengthAdjust="spacingAndGlyphs" stroke="#111" stroke-width="0.12">Fecal Concentration of Conjugated Bile Acids (ng/ml)</text>
<rect x="308.40" y="425.30" width="5.60" height="2.70" fill="#8080ff" stroke="#6868f2" stroke-width="0.3" fill-opacity="0.38"/>
<text x="315.00" y="427.60" font-size="2.7" text-anchor="start" font-family='"Liberation Serif", serif' font-weight="bold" fill="#111"  stroke="#111" stroke-width="0.12">WPLP</text>
<rect x="308.40" y="428.90" width="5.60" height="2.70" fill="#ff8080" stroke="#f26868" stroke-width="0.3" fill-opacity="0.38"/>
<text x="315.00" y="431.20" font-size="2.7" text-anchor="start" font-family='"Liberation Serif", serif' font-weight="bold" fill="#111"  stroke="#111" stroke-width="0.12">NPLP</text>
<rect x="377.40" y="424.40" width="124.60" height="100.00" fill="none" stroke="#6a6a6a" stroke-width="0.75" />
<line x1="376.10" y1="517.34" x2="377.40" y2="517.34" stroke="#555" stroke-width="0.4" />
<text x="375.00" y="518.39" font-size="3.1" text-anchor="end" font-family='"Liberation Serif", serif' font-weight="bold" fill="#111"  stroke="#111" stroke-width="0.12">0</text>
<line x1="376.10" y1="503.02" x2="377.40" y2="503.02" stroke="#555" stroke-width="0.4" />
<text x="375.00" y="504.07" font-size="3.1" text-anchor="end" font-family='"Liberation Serif", serif' font-weight="bold" fill="#111"  stroke="#111" stroke-width="0.12">100</text>
<line x1="376.10" y1="488.69" x2="377.40" y2="488.69" stroke="#555" stroke-width="0.4" />
<text x="375.00" y="489.74" font-size="3.1" text-anchor="end" font-family='"Liberation Serif", serif' font-weight="bold" fill="#111"  stroke="#111" stroke-width="0.12">200</text>
<line x1="376.10" y1="474.62" x2="377.40" y2="474.62" stroke="#555" stroke-width="0.4" />
<text x="375.00" y="475.67" font-size="3.1" text-anchor="end" font-family='"Liberation Serif", serif' font-weight="bold" fill="#111"  stroke="#111" stroke-width="0.12">300</text>
<line x1="376.10" y1="460.30" x2="377.40" y2="460.30" stroke="#555" stroke-width="0.4" />
<text x="375.00" y="461.35" font-size="3.1" text-anchor="end" font-family='"Liberation Serif", serif' font-weight="bold" fill="#111"  stroke="#111" stroke-width="0.12">400</text>
<line x1="376.10" y1="446.23" x2="377.40" y2="446.23" stroke="#555" stroke-width="0.4" />
<text x="375.00" y="447.28" font-size="3.1" text-anchor="end" font-family='"Liberation Serif", serif' font-weight="bold" fill="#111"  stroke="#111" stroke-width="0.12">500</text>
<line x1="376.10" y1="431.91" x2="377.40" y2="431.91" stroke="#555" stroke-width="0.4" />
<text x="375.00" y="432.96" font-size="3.1" text-anchor="end" font-family='"Liberation Serif", serif' font-weight="bold" fill="#111"  stroke="#111" stroke-width="0.12">600</text>
<line x1="376.60" y1="510.18" x2="377.40" y2="510.18" stroke="#555" stroke-width="0.35" />
<line x1="376.60" y1="495.85" x2="377.40" y2="495.85" stroke="#555" stroke-width="0.35" />
<line x1="376.60" y1="481.66" x2="377.40" y2="481.66" stroke="#555" stroke-width="0.35" />
<line x1="376.60" y1="467.46" x2="377.40" y2="467.46" stroke="#555" stroke-width="0.35" />
<line x1="376.60" y1="453.27" x2="377.40" y2="453.27" stroke="#555" stroke-width="0.35" />
<line x1="376.60" y1="439.07" x2="377.40" y2="439.07" stroke="#555" stroke-width="0.35" />
<line x1="390.20" y1="524.40" x2="390.20" y2="525.70" stroke="#555" stroke-width="0.4" />
<text x="390.20" y="531.40" font-size="3.6" text-anchor="middle" font-family='"Liberation Serif", serif' font-weight="bold" fill="#111"  stroke="#111" stroke-width="0.12">CA</text>
<line x1="415.10" y1="524.40" x2="415.10" y2="525.70" stroke="#555" stroke-width="0.4" />
<text x="415.10" y="531.40" font-size="3.6" text-anchor="middle" font-family='"Liberation Serif", serif' font-weight="bold" fill="#111"  stroke="#111" stroke-width="0.12">CDCA</text>
<line x1="440.00" y1="524.40" x2="440.00" y2="525.70" stroke="#555" stroke-width="0.4" />
<text x="440.00" y="531.40" font-size="3.6" text-anchor="middle" font-family='"Liberation Serif", serif' font-weight="bold" fill="#111"  stroke="#111" stroke-width="0.12">UDC</text>
<line x1="464.60" y1="524.40" x2="464.60" y2="525.70" stroke="#555" stroke-width="0.4" />
<text x="464.60" y="531.40" font-size="3.6" text-anchor="middle" font-family='"Liberation Serif", serif' font-weight="bold" fill="#111"  stroke="#111" stroke-width="0.12">HDCA</text>
<line x1="489.20" y1="524.40" x2="489.20" y2="525.70" stroke="#555" stroke-width="0.4" />
<text x="489.20" y="531.40" font-size="3.6" text-anchor="middle" font-family='"Liberation Serif", serif' font-weight="bold" fill="#111"  stroke="#111" stroke-width="0.12">DCA</text>
<line x1="385.20" y1="502.51" x2="385.20" y2="515.58" stroke="#6868f2" stroke-width="0.5" />
<rect x="382.00" y="506.28" width="6.40" height="6.78" fill="#8080ff" stroke="#6868f2" stroke-width="0.35" fill-opacity="0.38"/>
<line x1="382.00" y1="509.67" x2="388.40" y2="509.67" stroke="#6868f2" stroke-width="0.4" />
<circle cx="385.3" cy="512.3" r="0.68" fill="#6868f2" fill-opacity="0.85"/>
<circle cx="385.1" cy="504.7" r="0.68" fill="#6868f2" fill-opacity="0.85"/>
<circle cx="385.0" cy="509.8" r="0.68" fill="#6868f2" fill-opacity="0.85"/>
<circle cx="385.0" cy="507.5" r="0.68" fill="#6868f2" fill-opacity="0.85"/>
<circle cx="385.2" cy="507.9" r="0.68" fill="#6868f2" fill-opacity="0.85"/>
<circle cx="385.2" cy="511.1" r="0.68" fill="#6868f2" fill-opacity="0.85"/>
<circle cx="385.2" cy="513.3" r="0.68" fill="#6868f2" fill-opacity="0.85"/>
<circle cx="385.4" cy="507.5" r="0.68" fill="#6868f2" fill-opacity="0.85"/>
<circle cx="385.2" cy="507.2" r="0.68" fill="#6868f2" fill-opacity="0.85"/>
<circle cx="385.1" cy="504.1" r="0.68" fill="#6868f2" fill-opacity="0.85"/>
<circle cx="385.2" cy="504.3" r="0.68" fill="#6868f2" fill-opacity="0.85"/>
<circle cx="385.1" cy="512.7" r="0.68" fill="#6868f2" fill-opacity="0.85"/>
<circle cx="385.4" cy="507.4" r="0.68" fill="#6868f2" fill-opacity="0.85"/>
<circle cx="385.2" cy="507.1" r="0.68" fill="#6868f2" fill-opacity="0.85"/>
<circle cx="385.2" cy="513.4" r="0.68" fill="#6868f2" fill-opacity="0.85"/>
<circle cx="385.2" cy="508.1" r="0.68" fill="#6868f2" fill-opacity="0.85"/>
<circle cx="385.1" cy="509.3" r="0.68" fill="#6868f2" fill-opacity="0.85"/>
<circle cx="385.1" cy="511.6" r="0.68" fill="#6868f2" fill-opacity="0.85"/>
<circle cx="385.2" cy="510.8" r="0.68" fill="#6868f2" fill-opacity="0.85"/>
<circle cx="385.2" cy="512.0" r="0.68" fill="#6868f2" fill-opacity="0.85"/>
<circle cx="385.4" cy="509.9" r="0.68" fill="#6868f2" fill-opacity="0.85"/>
<circle cx="385.2" cy="509.1" r="0.68" fill="#6868f2" fill-opacity="0.85"/>
<circle cx="385.1" cy="511.3" r="0.68" fill="#6868f2" fill-opacity="0.85"/>
<circle cx="385.0" cy="509.7" r="0.68" fill="#6868f2" fill-opacity="0.85"/>
<circle cx="385.1" cy="506.5" r="0.68" fill="#6868f2" fill-opacity="0.85"/>
<circle cx="385.1" cy="507.7" r="0.68" fill="#6868f2" fill-opacity="0.85"/>
<circle cx="385.3" cy="510.9" r="0.68" fill="#6868f2" fill-opacity="0.85"/>
<circle cx="385.4" cy="508.7" r="0.68" fill="#6868f2" fill-opacity="0.85"/>
<circle cx="385.1" cy="512.5" r="0.68" fill="#6868f2" fill-opacity="0.85"/>
<circle cx="385.3" cy="511.4" r="0.68" fill="#6868f2" fill-opacity="0.85"/>
<circle cx="385.2" cy="507.7" r="0.68" fill="#6868f2" fill-opacity="0.85"/>
<circle cx="385.2" cy="512.7" r="0.68" fill="#6868f2" fill-opacity="0.85"/>
<circle cx="385.2" cy="505.3" r="0.68" fill="#6868f2" fill-opacity="0.85"/>
<circle cx="385.0" cy="513.7" r="0.68" fill="#6868f2" fill-opacity="0.85"/>
<circle cx="385.0" cy="509.8" r="0.68" fill="#6868f2" fill-opacity="0.85"/>
<circle cx="385.3" cy="506.2" r="0.68" fill="#6868f2" fill-opacity="0.85"/>
<circle cx="385.3" cy="507.2" r="0.68" fill="#6868f2" fill-opacity="0.85"/>
<circle cx="385.2" cy="505.3" r="0.68" fill="#6868f2" fill-opacity="0.85"/>
<circle cx="385.4" cy="502.5" r="0.68" fill="#6868f2" fill-opacity="0.85"/>
<circle cx="385.3" cy="515.6" r="0.68" fill="#6868f2" fill-opacity="0.85"/>
<circle cx="385.12" cy="436.43" r="0.78" fill="#6868f2" fill-opacity="1"/>
<circle cx="385.03" cy="458.29" r="0.78" fill="#6868f2" fill-opacity="1"/>
<circle cx="385.22" cy="472.36" r="0.78" fill="#6868f2" fill-opacity="1"/>
<circle cx="385.26" cy="482.91" r="0.78" fill="#6868f2" fill-opacity="1"/>
<circle cx="385.09" cy="484.17" r="0.78" fill="#6868f2" fill-opacity="1"/>
<circle cx="385.02" cy="485.93" r="0.78" fill="#6868f2" fill-opacity="1"/>
<line x1="395.20" y1="503.52" x2="395.20" y2="515.58" stroke="#f26868" stroke-width="0.5" />
<rect x="392.00" y="506.28" width="6.40" height="6.78" fill="#ff8080" stroke="#f26868" stroke-width="0.35" fill-opacity="0.38"/>
<line x1="392.00" y1="509.67" x2="398.40" y2="509.67" stroke="#f26868" stroke-width="0.4" />
<circle cx="395.3" cy="507.8" r="0.68" fill="#f26868" fill-opacity="0.85"/>
<circle cx="395.0" cy="509.9" r="0.68" fill="#f26868" fill-opacity="0.85"/>
<circle cx="395.4" cy="507.5" r="0.68" fill="#f26868" fill-opacity="0.85"/>
<circle cx="395.2" cy="507.9" r="0.68" fill="#f26868" fill-opacity="0.85"/>
<circle cx="395.3" cy="511.2" r="0.68" fill="#f26868" fill-opacity="0.85"/>
<circle cx="395.2" cy="509.8" r="0.68" fill="#f26868" fill-opacity="0.85"/>
<circle cx="395.3" cy="508.8" r="0.68" fill="#f26868" fill-opacity="0.85"/>
<circle cx="395.1" cy="512.7" r="0.68" fill="#f26868" fill-opacity="0.85"/>
<circle cx="395.2" cy="509.4" r="0.68" fill="#f26868" fill-opacity="0.85"/>
<circle cx="395.0" cy="509.0" r="0.68" fill="#f26868" fill-opacity="0.85"/>
<circle cx="395.2" cy="514.4" r="0.68" fill="#f26868" fill-opacity="0.85"/>
<circle cx="395.0" cy="505.5" r="0.68" fill="#f26868" fill-opacity="0.85"/>
<circle cx="395.3" cy="506.5" r="0.68" fill="#f26868" fill-opacity="0.85"/>
<circle cx="395.3" cy="514.6" r="0.68" fill="#f26868" fill-opacity="0.85"/>
<circle cx="395.2" cy="506.6" r="0.68" fill="#f26868" fill-opacity="0.85"/>
<circle cx="395.4" cy="508.8" r="0.68" fill="#f26868" fill-opacity="0.85"/>
<circle cx="395.4" cy="506.9" r="0.68" fill="#f26868" fill-opacity="0.85"/>
<circle cx="395.4" cy="508.3" r="0.68" fill="#f26868" fill-opacity="0.85"/>
<circle cx="395.0" cy="508.0" r="0.68" fill="#f26868" fill-opacity="0.85"/>
<circle cx="395.3" cy="506.2" r="0.68" fill="#f26868" fill-opacity="0.85"/>
<circle cx="395.3" cy="513.6" r="0.68" fill="#f26868" fill-opacity="0.85"/>
<circle cx="395.2" cy="512.4" r="0.68" fill="#f26868" fill-opacity="0.85"/>
<circle cx="395.0" cy="510.7" r="0.68" fill="#f26868" fill-opacity="0.85"/>
<circle cx="395.4" cy="505.2" r="0.68" fill="#f26868" fill-opacity="0.85"/>
<circle cx="395.2" cy="509.5" r="0.68" fill="#f26868" fill-opacity="0.85"/>
<circle cx="395.2" cy="508.1" r="0.68" fill="#f26868" fill-opacity="0.85"/>
<circle cx="395.3" cy="508.2" r="0.68" fill="#f26868" fill-opacity="0.85"/>
<circle cx="395.1" cy="511.1" r="0.68" fill="#f26868" fill-opacity="0.85"/>
<circle cx="395.0" cy="505.4" r="0.68" fill="#f26868" fill-opacity="0.85"/>
<circle cx="395.4" cy="510.8" r="0.68" fill="#f26868" fill-opacity="0.85"/>
<circle cx="395.1" cy="509.8" r="0.68" fill="#f26868" fill-opacity="0.85"/>
<circle cx="395.0" cy="510.8" r="0.68" fill="#f26868" fill-opacity="0.85"/>
<circle cx="395.1" cy="510.7" r="0.68" fill="#f26868" fill-opacity="0.85"/>
<circle cx="395.4" cy="507.7" r="0.68" fill="#f26868" fill-opacity="0.85"/>
<circle cx="395.3" cy="510.7" r="0.68" fill="#f26868" fill-opacity="0.85"/>
<circle cx="395.1" cy="510.6" r="0.68" fill="#f26868" fill-opacity="0.85"/>
<circle cx="395.1" cy="509.5" r="0.68" fill="#f26868" fill-opacity="0.85"/>
<circle cx="395.4" cy="509.9" r="0.68" fill="#f26868" fill-opacity="0.85"/>
<circle cx="395.3" cy="503.5" r="0.68" fill="#f26868" fill-opacity="0.85"/>
<circle cx="395.2" cy="515.6" r="0.68" fill="#f26868" fill-opacity="0.85"/>
<circle cx="395.05" cy="443.22" r="0.78" fill="#f26868" fill-opacity="1"/>
<circle cx="395.17" cy="447.74" r="0.78" fill="#f26868" fill-opacity="1"/>
<circle cx="395.38" cy="459.55" r="0.78" fill="#f26868" fill-opacity="1"/>
<circle cx="395.00" cy="471.11" r="0.78" fill="#f26868" fill-opacity="1"/>
<circle cx="395.17" cy="474.62" r="0.78" fill="#f26868" fill-opacity="1"/>
<circle cx="395.02" cy="476.13" r="0.78" fill="#f26868" fill-opacity="1"/>
<circle cx="395.40" cy="480.40" r="0.78" fill="#f26868" fill-opacity="1"/>
<circle cx="395.04" cy="483.42" r="0.78" fill="#f26868" fill-opacity="1"/>
<line x1="410.10" y1="461.06" x2="410.10" y2="508.54" stroke="#6868f2" stroke-width="0.5" />
<rect x="406.90" y="477.14" width="6.40" height="23.37" fill="#8080ff" stroke="#6868f2" stroke-width="0.35" fill-opacity="0.38"/>
<line x1="406.90" y1="487.44" x2="413.30" y2="487.44" stroke="#6868f2" stroke-width="0.4" />
<circle cx="410.2" cy="490.2" r="0.68" fill="#6868f2" fill-opacity="0.85"/>
<circle cx="410.1" cy="496.2" r="0.68" fill="#6868f2" fill-opacity="0.85"/>
<circle cx="410.0" cy="490.1" r="0.68" fill="#6868f2" fill-opacity="0.85"/>
<circle cx="410.0" cy="488.4" r="0.68" fill="#6868f2" fill-opacity="0.85"/>
<circle cx="410.0" cy="492.5" r="0.68" fill="#6868f2" fill-opacity="0.85"/>
<circle cx="410.0" cy="468.0" r="0.68" fill="#6868f2" fill-opacity="0.85"/>
<circle cx="410.0" cy="482.8" r="0.68" fill="#6868f2" fill-opacity="0.85"/>
<circle cx="410.2" cy="489.7" r="0.68" fill="#6868f2" fill-opacity="0.85"/>
<circle cx="410.2" cy="472.8" r="0.68" fill="#6868f2" fill-opacity="0.85"/>
<circle cx="410.2" cy="485.6" r="0.68" fill="#6868f2" fill-opacity="0.85"/>
<circle cx="410.3" cy="483.6" r="0.68" fill="#6868f2" fill-opacity="0.85"/>
<circle cx="410.2" cy="482.5" r="0.68" fill="#6868f2" fill-opacity="0.85"/>
<circle cx="409.9" cy="479.9" r="0.68" fill="#6868f2" fill-opacity="0.85"/>
<circle cx="409.9" cy="475.1" r="0.68" fill="#6868f2" fill-opacity="0.85"/>
<circle cx="410.0" cy="489.2" r="0.68" fill="#6868f2" fill-opacity="0.85"/>
<circle cx="410.0" cy="475.8" r="0.68" fill="#6868f2" fill-opacity="0.85"/>
<circle cx="410.1" cy="487.0" r="0.68" fill="#6868f2" fill-opacity="0.85"/>
<circle cx="410.2" cy="465.9" r="0.68" fill="#6868f2" fill-opacity="0.85"/>
<circle cx="410.1" cy="474.5" r="0.68" fill="#6868f2" fill-opacity="0.85"/>
<circle cx="410.1" cy="495.7" r="0.68" fill="#6868f2" fill-opacity="0.85"/>
<circle cx="410.0" cy="491.1" r="0.68" fill="#6868f2" fill-opacity="0.85"/>
<circle cx="410.3" cy="499.6" r="0.68" fill="#6868f2" fill-opacity="0.85"/>
<circle cx="410.2" cy="494.2" r="0.68" fill="#6868f2" fill-opacity="0.85"/>
<circle cx="410.0" cy="473.6" r="0.68" fill="#6868f2" fill-opacity="0.85"/>
<circle cx="409.9" cy="476.6" r="0.68" fill="#6868f2" fill-opacity="0.85"/>
<circle cx="410.3" cy="474.7" r="0.68" fill="#6868f2" fill-opacity="0.85"/>
<circle cx="410.0" cy="493.2" r="0.68" fill="#6868f2" fill-opacity="0.85"/>
<circle cx="410.2" cy="492.0" r="0.68" fill="#6868f2" fill-opacity="0.85"/>
<circle cx="409.9" cy="482.4" r="0.68" fill="#6868f2" fill-opacity="0.85"/>
<circle cx="410.2" cy="487.5" r="0.68" fill="#6868f2" fill-opacity="0.85"/>
<circle cx="410.0" cy="493.3" r="0.68" fill="#6868f2" fill-opacity="0.85"/>
<circle cx="410.3" cy="483.9" r="0.68" fill="#6868f2" fill-opacity="0.85"/>
<circle cx="410.0" cy="484.6" r="0.68" fill="#6868f2" fill-opacity="0.85"/>
<circle cx="409.9" cy="477.4" r="0.68" fill="#6868f2" fill-opacity="0.85"/>
<circle cx="410.0" cy="473.9" r="0.68" fill="#6868f2" fill-opacity="0.85"/>
<circle cx="410.2" cy="494.7" r="0.68" fill="#6868f2" fill-opacity="0.85"/>
<circle cx="410.3" cy="507.4" r="0.68" fill="#6868f2" fill-opacity="0.85"/>
<circle cx="410.2" cy="489.7" r="0.68" fill="#6868f2" fill-opacity="0.85"/>
<circle cx="410.2" cy="461.1" r="0.68" fill="#6868f2" fill-opacity="0.85"/>
<circle cx="410.0" cy="508.5" r="0.68" fill="#6868f2" fill-opacity="0.85"/>
<circle cx="410.01" cy="433.17" r="0.78" fill="#6868f2" fill-opacity="1"/>
<line x1="420.10" y1="460.30" x2="420.10" y2="517.34" stroke="#f26868" stroke-width="0.5" />
<rect x="416.90" y="480.40" width="6.40" height="25.13" fill="#ff8080" stroke="#f26868" stroke-width="0.35" fill-opacity="0.38"/>
<line x1="416.90" y1="493.47" x2="423.30" y2="493.47" stroke="#f26868" stroke-width="0.4" />
<circle cx="420.3" cy="494.5" r="0.68" fill="#f26868" fill-opacity="0.85"/>
<circle cx="420.2" cy="486.0" r="0.68" fill="#f26868" fill-opacity="0.85"/>
<circle cx="420.3" cy="476.9" r="0.68" fill="#f26868" fill-opacity="0.85"/>
<circle cx="420.0" cy="500.5" r="0.68" fill="#f26868" fill-opacity="0.85"/>
<circle cx="420.0" cy="487.6" r="0.68" fill="#f26868" fill-opacity="0.85"/>
<circle cx="419.9" cy="495.2" r="0.68" fill="#f26868" fill-opacity="0.85"/>
<circle cx="420.0" cy="481.9" r="0.68" fill="#f26868" fill-opacity="0.85"/>
<circle cx="419.9" cy="488.9" r="0.68" fill="#f26868" fill-opacity="0.85"/>
<circle cx="420.1" cy="481.1" r="0.68" fill="#f26868" fill-opacity="0.85"/>
<circle cx="420.0" cy="478.0" r="0.68" fill="#f26868" fill-opacity="0.85"/>
<circle cx="420.2" cy="483.6" r="0.68" fill="#f26868" fill-opacity="0.85"/>
<circle cx="420.1" cy="471.7" r="0.68" fill="#f26868" fill-opacity="0.85"/>
<circle cx="420.1" cy="487.8" r="0.68" fill="#f26868" fill-opacity="0.85"/>
<circle cx="420.0" cy="490.4" r="0.68" fill="#f26868" fill-opacity="0.85"/>
<circle cx="420.2" cy="482.0" r="0.68" fill="#f26868" fill-opacity="0.85"/>
<circle cx="420.2" cy="485.1" r="0.68" fill="#f26868" fill-opacity="0.85"/>
<circle cx="420.2" cy="475.1" r="0.68" fill="#f26868" fill-opacity="0.85"/>
<circle cx="420.1" cy="497.6" r="0.68" fill="#f26868" fill-opacity="0.85"/>
<circle cx="420.1" cy="492.7" r="0.68" fill="#f26868" fill-opacity="0.85"/>
<circle cx="420.0" cy="483.0" r="0.68" fill="#f26868" fill-opacity="0.85"/>
<circle cx="419.9" cy="500.5" r="0.68" fill="#f26868" fill-opacity="0.85"/>
<circle cx="420.1" cy="499.2" r="0.68" fill="#f26868" fill-opacity="0.85"/>
<circle cx="420.1" cy="498.0" r="0.68" fill="#f26868" fill-opacity="0.85"/>
<circle cx="420.0" cy="502.6" r="0.68" fill="#f26868" fill-opacity="0.85"/>
<circle cx="420.2" cy="470.2" r="0.68" fill="#f26868" fill-opacity="0.85"/>
<circle cx="420.3" cy="515.2" r="0.68" fill="#f26868" fill-opacity="0.85"/>
<circle cx="420.2" cy="501.8" r="0.68" fill="#f26868" fill-opacity="0.85"/>
<circle cx="420.2" cy="493.0" r="0.68" fill="#f26868" fill-opacity="0.85"/>
<circle cx="420.1" cy="503.6" r="0.68" fill="#f26868" fill-opacity="0.85"/>
<circle cx="420.0" cy="492.7" r="0.68" fill="#f26868" fill-opacity="0.85"/>
<circle cx="420.0" cy="492.8" r="0.68" fill="#f26868" fill-opacity="0.85"/>
<circle cx="420.2" cy="513.9" r="0.68" fill="#f26868" fill-opacity="0.85"/>
<circle cx="420.3" cy="500.4" r="0.68" fill="#f26868" fill-opacity="0.85"/>
<circle cx="419.9" cy="484.6" r="0.68" fill="#f26868" fill-opacity="0.85"/>
<circle cx="419.9" cy="484.7" r="0.68" fill="#f26868" fill-opacity="0.85"/>
<circle cx="420.0" cy="503.3" r="0.68" fill="#f26868" fill-opacity="0.85"/>
<circle cx="420.0" cy="487.5" r="0.68" fill="#f26868" fill-opacity="0.85"/>
<circle cx="420.1" cy="488.6" r="0.68" fill="#f26868" fill-opacity="0.85"/>
<circle cx="419.9" cy="460.3" r="0.68" fill="#f26868" fill-opacity="0.85"/>
<circle cx="420.2" cy="517.3" r="0.68" fill="#f26868" fill-opacity="0.85"/>
<circle cx="420.04" cy="439.70" r="0.78" fill="#f26868" fill-opacity="1"/>
<line x1="435.00" y1="437.69" x2="435.00" y2="516.08" stroke="#6868f2" stroke-width="0.5" />
<rect x="431.80" y="458.79" width="6.40" height="29.90" fill="#8080ff" stroke="#6868f2" stroke-width="0.35" fill-opacity="0.38"/>
<line x1="431.80" y1="474.62" x2="438.20" y2="474.62" stroke="#6868f2" stroke-width="0.4" />
<circle cx="435.2" cy="466.6" r="0.68" fill="#6868f2" fill-opacity="0.85"/>
<circle cx="435.2" cy="491.9" r="0.68" fill="#6868f2" fill-opacity="0.85"/>
<circle cx="435.1" cy="472.1" r="0.68" fill="#6868f2" fill-opacity="0.85"/>
<circle cx="434.8" cy="503.1" r="0.68" fill="#6868f2" fill-opacity="0.85"/>
<circle cx="435.0" cy="462.6" r="0.68" fill="#6868f2" fill-opacity="0.85"/>
<circle cx="434.8" cy="504.0" r="0.68" fill="#6868f2" fill-opacity="0.85"/>
<circle cx="435.1" cy="458.0" r="0.68" fill="#6868f2" fill-opacity="0.85"/>
<circle cx="435.1" cy="446.3" r="0.68" fill="#6868f2" fill-opacity="0.85"/>
<circle cx="435.1" cy="498.8" r="0.68" fill="#6868f2" fill-opacity="0.85"/>
<circle cx="435.1" cy="488.0" r="0.68" fill="#6868f2" fill-opacity="0.85"/>
<circle cx="434.8" cy="495.6" r="0.68" fill="#6868f2" fill-opacity="0.85"/>
<circle cx="434.8" cy="478.1" r="0.68" fill="#6868f2" fill-opacity="0.85"/>
<circle cx="434.8" cy="472.6" r="0.68" fill="#6868f2" fill-opacity="0.85"/>
<circle cx="435.1" cy="514.1" r="0.68" fill="#6868f2" fill-opacity="0.85"/>
<circle cx="435.1" cy="509.4" r="0.68" fill="#6868f2" fill-opacity="0.85"/>
<circle cx="435.0" cy="490.6" r="0.68" fill="#6868f2" fill-opacity="0.85"/>
<circle cx="434.9" cy="458.6" r="0.68" fill="#6868f2" fill-opacity="0.85"/>
<circle cx="435.1" cy="470.2" r="0.68" fill="#6868f2" fill-opacity="0.85"/>
<circle cx="434.8" cy="480.5" r="0.68" fill="#6868f2" fill-opacity="0.85"/>
<circle cx="434.9" cy="457.4" r="0.68" fill="#6868f2" fill-opacity="0.85"/>
<circle cx="434.8" cy="493.0" r="0.68" fill="#6868f2" fill-opacity="0.85"/>
<circle cx="435.2" cy="482.8" r="0.68" fill="#6868f2" fill-opacity="0.85"/>
<circle cx="435.0" cy="488.1" r="0.68" fill="#6868f2" fill-opacity="0.85"/>
<circle cx="435.1" cy="455.1" r="0.68" fill="#6868f2" fill-opacity="0.85"/>
<circle cx="435.1" cy="491.8" r="0.68" fill="#6868f2" fill-opacity="0.85"/>
<circle cx="435.0" cy="479.4" r="0.68" fill="#6868f2" fill-opacity="0.85"/>
<circle cx="435.2" cy="474.9" r="0.68" fill="#6868f2" fill-opacity="0.85"/>
<circle cx="435.1" cy="496.5" r="0.68" fill="#6868f2" fill-opacity="0.85"/>
<circle cx="435.2" cy="470.3" r="0.68" fill="#6868f2" fill-opacity="0.85"/>
<circle cx="435.2" cy="472.9" r="0.68" fill="#6868f2" fill-opacity="0.85"/>
<circle cx="434.8" cy="466.3" r="0.68" fill="#6868f2" fill-opacity="0.85"/>
<circle cx="435.1" cy="469.0" r="0.68" fill="#6868f2" fill-opacity="0.85"/>
<circle cx="434.9" cy="497.6" r="0.68" fill="#6868f2" fill-opacity="0.85"/>
<circle cx="434.9" cy="500.3" r="0.68" fill="#6868f2" fill-opacity="0.85"/>
<circle cx="434.9" cy="475.5" r="0.68" fill="#6868f2" fill-opacity="0.85"/>
<circle cx="435.2" cy="508.6" r="0.68" fill="#6868f2" fill-opacity="0.85"/>
<circle cx="434.8" cy="492.1" r="0.68" fill="#6868f2" fill-opacity="0.85"/>
<circle cx="435.0" cy="449.0" r="0.68" fill="#6868f2" fill-opacity="0.85"/>
<circle cx="434.9" cy="437.7" r="0.68" fill="#6868f2" fill-opacity="0.85"/>
<circle cx="435.2" cy="516.1" r="0.68" fill="#6868f2" fill-opacity="0.85"/>
<line x1="445.00" y1="431.91" x2="445.00" y2="511.06" stroke="#f26868" stroke-width="0.5" />
<rect x="441.80" y="457.29" width="6.40" height="34.42" fill="#ff8080" stroke="#f26868" stroke-width="0.35" fill-opacity="0.38"/>
<line x1="441.80" y1="475.38" x2="448.20" y2="475.38" stroke="#f26868" stroke-width="0.4" />
<circle cx="445.0" cy="470.5" r="0.68" fill="#f26868" fill-opacity="0.85"/>
<circle cx="444.9" cy="454.0" r="0.68" fill="#f26868" fill-opacity="0.85"/>
<circle cx="445.0" cy="486.1" r="0.68" fill="#f26868" fill-opacity="0.85"/>
<circle cx="445.0" cy="494.8" r="0.68" fill="#f26868" fill-opacity="0.85"/>
<circle cx="445.0" cy="476.4" r="0.68" fill="#f26868" fill-opacity="0.85"/>
<circle cx="444.9" cy="476.5" r="0.68" fill="#f26868" fill-opacity="0.85"/>
<circle cx="444.8" cy="484.5" r="0.68" fill="#f26868" fill-opacity="0.85"/>
<circle cx="445.0" cy="497.3" r="0.68" fill="#f26868" fill-opacity="0.85"/>
<circle cx="445.2" cy="445.3" r="0.68" fill="#f26868" fill-opacity="0.85"/>
<circle cx="444.9" cy="463.7" r="0.68" fill="#f26868" fill-opacity="0.85"/>
<circle cx="444.9" cy="436.1" r="0.68" fill="#f26868" fill-opacity="0.85"/>
<circle cx="444.9" cy="504.9" r="0.68" fill="#f26868" fill-opacity="0.85"/>
<circle cx="445.1" cy="437.9" r="0.68" fill="#f26868" fill-opacity="0.85"/>
<circle cx="445.0" cy="463.2" r="0.68" fill="#f26868" fill-opacity="0.85"/>
<circle cx="445.1" cy="488.2" r="0.68" fill="#f26868" fill-opacity="0.85"/>
<circle cx="444.8" cy="460.8" r="0.68" fill="#f26868" fill-opacity="0.85"/>
<circle cx="444.9" cy="500.7" r="0.68" fill="#f26868" fill-opacity="0.85"/>
<circle cx="444.9" cy="482.0" r="0.68" fill="#f26868" fill-opacity="0.85"/>
<circle cx="444.9" cy="474.0" r="0.68" fill="#f26868" fill-opacity="0.85"/>
<circle cx="445.0" cy="493.2" r="0.68" fill="#f26868" fill-opacity="0.85"/>
<circle cx="445.0" cy="486.9" r="0.68" fill="#f26868" fill-opacity="0.85"/>
<circle cx="445.2" cy="482.0" r="0.68" fill="#f26868" fill-opacity="0.85"/>
<circle cx="445.0" cy="465.8" r="0.68" fill="#f26868" fill-opacity="0.85"/>
<circle cx="445.0" cy="459.0" r="0.68" fill="#f26868" fill-opacity="0.85"/>
<circle cx="445.2" cy="474.3" r="0.68" fill="#f26868" fill-opacity="0.85"/>
<circle cx="445.1" cy="459.6" r="0.68" fill="#f26868" fill-opacity="0.85"/>
<circle cx="445.0" cy="490.4" r="0.68" fill="#f26868" fill-opacity="0.85"/>
<circle cx="445.1" cy="494.0" r="0.68" fill="#f26868" fill-opacity="0.85"/>
<circle cx="444.9" cy="462.9" r="0.68" fill="#f26868" fill-opacity="0.85"/>
<circle cx="444.8" cy="482.2" r="0.68" fill="#f26868" fill-opacity="0.85"/>
<circle cx="445.2" cy="465.3" r="0.68" fill="#f26868" fill-opacity="0.85"/>
<circle cx="445.0" cy="467.1" r="0.68" fill="#f26868" fill-opacity="0.85"/>
<circle cx="445.0" cy="460.6" r="0.68" fill="#f26868" fill-opacity="0.85"/>
<circle cx="444.8" cy="483.8" r="0.68" fill="#f26868" fill-opacity="0.85"/>
<circle cx="445.1" cy="491.0" r="0.68" fill="#f26868" fill-opacity="0.85"/>
<circle cx="444.9" cy="473.6" r="0.68" fill="#f26868" fill-opacity="0.85"/>
<circle cx="445.1" cy="441.0" r="0.68" fill="#f26868" fill-opacity="0.85"/>
<circle cx="444.9" cy="476.2" r="0.68" fill="#f26868" fill-opacity="0.85"/>
<circle cx="445.2" cy="431.9" r="0.68" fill="#f26868" fill-opacity="0.85"/>
<circle cx="444.9" cy="511.1" r="0.68" fill="#f26868" fill-opacity="0.85"/>
<line x1="459.60" y1="502.26" x2="459.60" y2="516.08" stroke="#6868f2" stroke-width="0.5" />
<rect x="456.40" y="506.03" width="6.40" height="7.04" fill="#8080ff" stroke="#6868f2" stroke-width="0.35" fill-opacity="0.38"/>
<line x1="456.40" y1="509.55" x2="462.80" y2="509.55" stroke="#6868f2" stroke-width="0.4" />
<circle cx="459.5" cy="509.7" r="0.68" fill="#6868f2" fill-opacity="0.85"/>
<circle cx="459.6" cy="512.6" r="0.68" fill="#6868f2" fill-opacity="0.85"/>
<circle cx="459.7" cy="506.9" r="0.68" fill="#6868f2" fill-opacity="0.85"/>
<circle cx="459.5" cy="506.6" r="0.68" fill="#6868f2" fill-opacity="0.85"/>
<circle cx="459.5" cy="509.1" r="0.68" fill="#6868f2" fill-opacity="0.85"/>
<circle cx="459.7" cy="511.4" r="0.68" fill="#6868f2" fill-opacity="0.85"/>
<circle cx="459.7" cy="512.6" r="0.68" fill="#6868f2" fill-opacity="0.85"/>
<circle cx="459.6" cy="506.1" r="0.68" fill="#6868f2" fill-opacity="0.85"/>
<circle cx="459.4" cy="511.9" r="0.68" fill="#6868f2" fill-opacity="0.85"/>
<circle cx="459.5" cy="509.6" r="0.68" fill="#6868f2" fill-opacity="0.85"/>
<circle cx="459.5" cy="505.8" r="0.68" fill="#6868f2" fill-opacity="0.85"/>
<circle cx="459.4" cy="507.6" r="0.68" fill="#6868f2" fill-opacity="0.85"/>
<circle cx="459.7" cy="505.2" r="0.68" fill="#6868f2" fill-opacity="0.85"/>
<circle cx="459.6" cy="513.7" r="0.68" fill="#6868f2" fill-opacity="0.85"/>
<circle cx="459.8" cy="509.1" r="0.68" fill="#6868f2" fill-opacity="0.85"/>
<circle cx="459.6" cy="514.3" r="0.68" fill="#6868f2" fill-opacity="0.85"/>
<circle cx="459.8" cy="505.8" r="0.68" fill="#6868f2" fill-opacity="0.85"/>
<circle cx="459.6" cy="509.1" r="0.68" fill="#6868f2" fill-opacity="0.85"/>
<circle cx="459.6" cy="505.9" r="0.68" fill="#6868f2" fill-opacity="0.85"/>
<circle cx="459.5" cy="513.5" r="0.68" fill="#6868f2" fill-opacity="0.85"/>
<circle cx="459.6" cy="508.9" r="0.68" fill="#6868f2" fill-opacity="0.85"/>
<circle cx="459.8" cy="506.5" r="0.68" fill="#6868f2" fill-opacity="0.85"/>
<circle cx="459.6" cy="505.3" r="0.68" fill="#6868f2" fill-opacity="0.85"/>
<circle cx="459.4" cy="508.2" r="0.68" fill="#6868f2" fill-opacity="0.85"/>
<circle cx="459.5" cy="506.1" r="0.68" fill="#6868f2" fill-opacity="0.85"/>
<circle cx="459.5" cy="504.0" r="0.68" fill="#6868f2" fill-opacity="0.85"/>
<circle cx="459.6" cy="511.2" r="0.68" fill="#6868f2" fill-opacity="0.85"/>
<circle cx="459.6" cy="502.9" r="0.68" fill="#6868f2" fill-opacity="0.85"/>
<circle cx="459.6" cy="511.5" r="0.68" fill="#6868f2" fill-opacity="0.85"/>
<circle cx="459.8" cy="506.7" r="0.68" fill="#6868f2" fill-opacity="0.85"/>
<circle cx="459.7" cy="511.6" r="0.68" fill="#6868f2" fill-opacity="0.85"/>
<circle cx="459.4" cy="511.4" r="0.68" fill="#6868f2" fill-opacity="0.85"/>
<circle cx="459.4" cy="507.7" r="0.68" fill="#6868f2" fill-opacity="0.85"/>
<circle cx="459.7" cy="510.2" r="0.68" fill="#6868f2" fill-opacity="0.85"/>
<circle cx="459.6" cy="507.4" r="0.68" fill="#6868f2" fill-opacity="0.85"/>
<circle cx="459.7" cy="506.9" r="0.68" fill="#6868f2" fill-opacity="0.85"/>
<circle cx="459.6" cy="504.2" r="0.68" fill="#6868f2" fill-opacity="0.85"/>
<circle cx="459.4" cy="504.6" r="0.68" fill="#6868f2" fill-opacity="0.85"/>
<circle cx="459.6" cy="502.3" r="0.68" fill="#6868f2" fill-opacity="0.85"/>
<circle cx="459.7" cy="516.1" r="0.68" fill="#6868f2" fill-opacity="0.85"/>
<circle cx="459.64" cy="453.27" r="0.78" fill="#6868f2" fill-opacity="1"/>
<circle cx="459.42" cy="459.05" r="0.78" fill="#6868f2" fill-opacity="1"/>
<circle cx="459.45" cy="470.85" r="0.78" fill="#6868f2" fill-opacity="1"/>
<circle cx="459.76" cy="472.11" r="0.78" fill="#6868f2" fill-opacity="1"/>
<circle cx="459.62" cy="485.93" r="0.78" fill="#6868f2" fill-opacity="1"/>
<line x1="469.60" y1="503.02" x2="469.60" y2="515.58" stroke="#f26868" stroke-width="0.5" />
<rect x="466.40" y="506.78" width="6.40" height="5.78" fill="#ff8080" stroke="#f26868" stroke-width="0.35" fill-opacity="0.38"/>
<line x1="466.40" y1="509.67" x2="472.80" y2="509.67" stroke="#f26868" stroke-width="0.4" />
<circle cx="469.6" cy="505.9" r="0.68" fill="#f26868" fill-opacity="0.85"/>
<circle cx="469.8" cy="504.4" r="0.68" fill="#f26868" fill-opacity="0.85"/>
<circle cx="469.5" cy="510.8" r="0.68" fill="#f26868" fill-opacity="0.85"/>
<circle cx="469.6" cy="511.0" r="0.68" fill="#f26868" fill-opacity="0.85"/>
<circle cx="469.6" cy="508.0" r="0.68" fill="#f26868" fill-opacity="0.85"/>
<circle cx="469.5" cy="505.4" r="0.68" fill="#f26868" fill-opacity="0.85"/>
<circle cx="469.5" cy="507.8" r="0.68" fill="#f26868" fill-opacity="0.85"/>
<circle cx="469.6" cy="506.7" r="0.68" fill="#f26868" fill-opacity="0.85"/>
<circle cx="469.7" cy="506.3" r="0.68" fill="#f26868" fill-opacity="0.85"/>
<circle cx="469.6" cy="505.8" r="0.68" fill="#f26868" fill-opacity="0.85"/>
<circle cx="469.4" cy="509.3" r="0.68" fill="#f26868" fill-opacity="0.85"/>
<circle cx="469.8" cy="508.0" r="0.68" fill="#f26868" fill-opacity="0.85"/>
<circle cx="469.5" cy="510.9" r="0.68" fill="#f26868" fill-opacity="0.85"/>
<circle cx="469.8" cy="508.1" r="0.68" fill="#f26868" fill-opacity="0.85"/>
<circle cx="469.4" cy="507.5" r="0.68" fill="#f26868" fill-opacity="0.85"/>
<circle cx="469.7" cy="511.5" r="0.68" fill="#f26868" fill-opacity="0.85"/>
<circle cx="469.5" cy="508.3" r="0.68" fill="#f26868" fill-opacity="0.85"/>
<circle cx="469.5" cy="508.0" r="0.68" fill="#f26868" fill-opacity="0.85"/>
<circle cx="469.6" cy="508.6" r="0.68" fill="#f26868" fill-opacity="0.85"/>
<circle cx="469.7" cy="510.1" r="0.68" fill="#f26868" fill-opacity="0.85"/>
<circle cx="469.6" cy="508.4" r="0.68" fill="#f26868" fill-opacity="0.85"/>
<circle cx="469.6" cy="512.4" r="0.68" fill="#f26868" fill-opacity="0.85"/>
<circle cx="469.6" cy="508.1" r="0.68" fill="#f26868" fill-opacity="0.85"/>
<circle cx="469.6" cy="506.5" r="0.68" fill="#f26868" fill-opacity="0.85"/>
<circle cx="469.5" cy="510.4" r="0.68" fill="#f26868" fill-opacity="0.85"/>
<circle cx="469.8" cy="507.4" r="0.68" fill="#f26868" fill-opacity="0.85"/>
<circle cx="469.5" cy="512.3" r="0.68" fill="#f26868" fill-opacity="0.85"/>
<circle cx="469.5" cy="507.8" r="0.68" fill="#f26868" fill-opacity="0.85"/>
<circle cx="469.6" cy="510.3" r="0.68" fill="#f26868" fill-opacity="0.85"/>
<circle cx="469.5" cy="513.6" r="0.68" fill="#f26868" fill-opacity="0.85"/>
<circle cx="469.7" cy="507.5" r="0.68" fill="#f26868" fill-opacity="0.85"/>
<circle cx="469.4" cy="512.3" r="0.68" fill="#f26868" fill-opacity="0.85"/>
<circle cx="469.7" cy="510.0" r="0.68" fill="#f26868" fill-opacity="0.85"/>
<circle cx="469.5" cy="511.0" r="0.68" fill="#f26868" fill-opacity="0.85"/>
<circle cx="469.8" cy="508.0" r="0.68" fill="#f26868" fill-opacity="0.85"/>
<circle cx="469.5" cy="514.3" r="0.68" fill="#f26868" fill-opacity="0.85"/>
<circle cx="469.6" cy="506.3" r="0.68" fill="#f26868" fill-opacity="0.85"/>
<circle cx="469.5" cy="511.3" r="0.68" fill="#f26868" fill-opacity="0.85"/>
<circle cx="469.6" cy="503.0" r="0.68" fill="#f26868" fill-opacity="0.85"/>
<circle cx="469.5" cy="515.6" r="0.68" fill="#f26868" fill-opacity="0.85"/>
<circle cx="469.67" cy="442.71" r="0.78" fill="#f26868" fill-opacity="1"/>
<circle cx="469.56" cy="453.52" r="0.78" fill="#f26868" fill-opacity="1"/>
<circle cx="469.68" cy="454.52" r="0.78" fill="#f26868" fill-opacity="1"/>
<circle cx="469.52" cy="473.37" r="0.78" fill="#f26868" fill-opacity="1"/>
<circle cx="469.58" cy="481.66" r="0.78" fill="#f26868" fill-opacity="1"/>
<line x1="484.20" y1="504.27" x2="484.20" y2="516.83" stroke="#6868f2" stroke-width="0.5" />
<rect x="481.00" y="508.54" width="6.40" height="3.52" fill="#8080ff" stroke="#6868f2" stroke-width="0.35" fill-opacity="0.38"/>
<line x1="481.00" y1="510.30" x2="487.40" y2="510.30" stroke="#6868f2" stroke-width="0.4" />
<circle cx="484.2" cy="509.9" r="0.68" fill="#6868f2" fill-opacity="0.85"/>
<circle cx="484.3" cy="509.5" r="0.68" fill="#6868f2" fill-opacity="0.85"/>
<circle cx="484.2" cy="509.2" r="0.68" fill="#6868f2" fill-opacity="0.85"/>
<circle cx="484.1" cy="511.1" r="0.68" fill="#6868f2" fill-opacity="0.85"/>
<circle cx="484.3" cy="513.5" r="0.68" fill="#6868f2" fill-opacity="0.85"/>
<circle cx="484.2" cy="511.1" r="0.68" fill="#6868f2" fill-opacity="0.85"/>
<circle cx="484.2" cy="511.1" r="0.68" fill="#6868f2" fill-opacity="0.85"/>
<circle cx="484.1" cy="513.4" r="0.68" fill="#6868f2" fill-opacity="0.85"/>
<circle cx="484.2" cy="511.5" r="0.68" fill="#6868f2" fill-opacity="0.85"/>
<circle cx="484.3" cy="507.5" r="0.68" fill="#6868f2" fill-opacity="0.85"/>
<circle cx="484.1" cy="511.8" r="0.68" fill="#6868f2" fill-opacity="0.85"/>
<circle cx="484.3" cy="509.2" r="0.68" fill="#6868f2" fill-opacity="0.85"/>
<circle cx="484.2" cy="510.0" r="0.68" fill="#6868f2" fill-opacity="0.85"/>
<circle cx="484.0" cy="509.4" r="0.68" fill="#6868f2" fill-opacity="0.85"/>
<circle cx="484.4" cy="512.1" r="0.68" fill="#6868f2" fill-opacity="0.85"/>
<circle cx="484.1" cy="510.7" r="0.68" fill="#6868f2" fill-opacity="0.85"/>
<circle cx="484.2" cy="510.3" r="0.68" fill="#6868f2" fill-opacity="0.85"/>
<circle cx="484.4" cy="506.0" r="0.68" fill="#6868f2" fill-opacity="0.85"/>
<circle cx="484.1" cy="509.8" r="0.68" fill="#6868f2" fill-opacity="0.85"/>
<circle cx="484.0" cy="515.3" r="0.68" fill="#6868f2" fill-opacity="0.85"/>
<circle cx="484.1" cy="510.5" r="0.68" fill="#6868f2" fill-opacity="0.85"/>
<circle cx="484.1" cy="510.2" r="0.68" fill="#6868f2" fill-opacity="0.85"/>
<circle cx="484.3" cy="505.4" r="0.68" fill="#6868f2" fill-opacity="0.85"/>
<circle cx="484.2" cy="506.3" r="0.68" fill="#6868f2" fill-opacity="0.85"/>
<circle cx="484.0" cy="509.4" r="0.68" fill="#6868f2" fill-opacity="0.85"/>
<circle cx="484.1" cy="510.6" r="0.68" fill="#6868f2" fill-opacity="0.85"/>
<circle cx="484.2" cy="513.4" r="0.68" fill="#6868f2" fill-opacity="0.85"/>
<circle cx="484.1" cy="507.5" r="0.68" fill="#6868f2" fill-opacity="0.85"/>
<circle cx="484.1" cy="507.6" r="0.68" fill="#6868f2" fill-opacity="0.85"/>
<circle cx="484.4" cy="510.3" r="0.68" fill="#6868f2" fill-opacity="0.85"/>
<circle cx="484.2" cy="508.1" r="0.68" fill="#6868f2" fill-opacity="0.85"/>
<circle cx="484.1" cy="511.1" r="0.68" fill="#6868f2" fill-opacity="0.85"/>
<circle cx="484.2" cy="506.7" r="0.68" fill="#6868f2" fill-opacity="0.85"/>
<circle cx="484.0" cy="510.9" r="0.68" fill="#6868f2" fill-opacity="0.85"/>
<circle cx="484.2" cy="513.3" r="0.68" fill="#6868f2" fill-opacity="0.85"/>
<circle cx="484.3" cy="514.1" r="0.68" fill="#6868f2" fill-opacity="0.85"/>
<circle cx="484.0" cy="509.0" r="0.68" fill="#6868f2" fill-opacity="0.85"/>
<circle cx="484.2" cy="512.8" r="0.68" fill="#6868f2" fill-opacity="0.85"/>
<circle cx="484.1" cy="504.3" r="0.68" fill="#6868f2" fill-opacity="0.85"/>
<circle cx="484.3" cy="516.8" r="0.68" fill="#6868f2" fill-opacity="0.85"/>
<circle cx="484.25" cy="450.25" r="0.78" fill="#6868f2" fill-opacity="1"/>
<circle cx="484.36" cy="468.34" r="0.78" fill="#6868f2" fill-opacity="1"/>
<circle cx="484.24" cy="471.61" r="0.78" fill="#6868f2" fill-opacity="1"/>
<circle cx="484.07" cy="488.69" r="0.78" fill="#6868f2" fill-opacity="1"/>
<line x1="494.20" y1="503.52" x2="494.20" y2="516.08" stroke="#f26868" stroke-width="0.5" />
<rect x="491.00" y="508.54" width="6.40" height="3.27" fill="#ff8080" stroke="#f26868" stroke-width="0.35" fill-opacity="0.38"/>
<line x1="491.00" y1="510.18" x2="497.40" y2="510.18" stroke="#f26868" stroke-width="0.4" />
<circle cx="494.2" cy="507.9" r="0.68" fill="#f26868" fill-opacity="0.85"/>
<circle cx="494.2" cy="509.2" r="0.68" fill="#f26868" fill-opacity="0.85"/>
<circle cx="494.4" cy="511.0" r="0.68" fill="#f26868" fill-opacity="0.85"/>
<circle cx="494.1" cy="508.5" r="0.68" fill="#f26868" fill-opacity="0.85"/>
<circle cx="494.4" cy="513.5" r="0.68" fill="#f26868" fill-opacity="0.85"/>
<circle cx="494.1" cy="508.0" r="0.68" fill="#f26868" fill-opacity="0.85"/>
<circle cx="494.2" cy="507.9" r="0.68" fill="#f26868" fill-opacity="0.85"/>
<circle cx="494.1" cy="507.1" r="0.68" fill="#f26868" fill-opacity="0.85"/>
<circle cx="494.3" cy="510.9" r="0.68" fill="#f26868" fill-opacity="0.85"/>
<circle cx="494.4" cy="508.1" r="0.68" fill="#f26868" fill-opacity="0.85"/>
<circle cx="494.3" cy="506.2" r="0.68" fill="#f26868" fill-opacity="0.85"/>
<circle cx="494.1" cy="508.5" r="0.68" fill="#f26868" fill-opacity="0.85"/>
<circle cx="494.4" cy="511.7" r="0.68" fill="#f26868" fill-opacity="0.85"/>
<circle cx="494.3" cy="504.6" r="0.68" fill="#f26868" fill-opacity="0.85"/>
<circle cx="494.2" cy="508.8" r="0.68" fill="#f26868" fill-opacity="0.85"/>
<circle cx="494.3" cy="507.4" r="0.68" fill="#f26868" fill-opacity="0.85"/>
<circle cx="494.0" cy="510.1" r="0.68" fill="#f26868" fill-opacity="0.85"/>
<circle cx="494.2" cy="507.3" r="0.68" fill="#f26868" fill-opacity="0.85"/>
<circle cx="494.3" cy="513.3" r="0.68" fill="#f26868" fill-opacity="0.85"/>
<circle cx="494.3" cy="511.3" r="0.68" fill="#f26868" fill-opacity="0.85"/>
<circle cx="494.3" cy="508.1" r="0.68" fill="#f26868" fill-opacity="0.85"/>
<circle cx="494.0" cy="505.9" r="0.68" fill="#f26868" fill-opacity="0.85"/>
<circle cx="494.2" cy="507.4" r="0.68" fill="#f26868" fill-opacity="0.85"/>
<circle cx="494.1" cy="507.5" r="0.68" fill="#f26868" fill-opacity="0.85"/>
<circle cx="494.2" cy="509.1" r="0.68" fill="#f26868" fill-opacity="0.85"/>
<circle cx="494.2" cy="511.9" r="0.68" fill="#f26868" fill-opacity="0.85"/>
<circle cx="494.2" cy="511.2" r="0.68" fill="#f26868" fill-opacity="0.85"/>
<circle cx="494.2" cy="510.3" r="0.68" fill="#f26868" fill-opacity="0.85"/>
<circle cx="494.2" cy="511.7" r="0.68" fill="#f26868" fill-opacity="0.85"/>
<circle cx="494.4" cy="512.3" r="0.68" fill="#f26868" fill-opacity="0.85"/>
<circle cx="494.1" cy="511.8" r="0.68" fill="#f26868" fill-opacity="0.85"/>
<circle cx="494.1" cy="508.7" r="0.68" fill="#f26868" fill-opacity="0.85"/>
<circle cx="494.1" cy="504.9" r="0.68" fill="#f26868" fill-opacity="0.85"/>
<circle cx="494.0" cy="513.7" r="0.68" fill="#f26868" fill-opacity="0.85"/>
<circle cx="494.3" cy="513.9" r="0.68" fill="#f26868" fill-opacity="0.85"/>
<circle cx="494.4" cy="514.0" r="0.68" fill="#f26868" fill-opacity="0.85"/>
<circle cx="494.1" cy="509.9" r="0.68" fill="#f26868" fill-opacity="0.85"/>
<circle cx="494.1" cy="511.8" r="0.68" fill="#f26868" fill-opacity="0.85"/>
<circle cx="494.4" cy="503.5" r="0.68" fill="#f26868" fill-opacity="0.85"/>
<circle cx="494.3" cy="516.1" r="0.68" fill="#f26868" fill-opacity="0.85"/>
<circle cx="494.39" cy="451.51" r="0.78" fill="#f26868" fill-opacity="1"/>
<circle cx="494.40" cy="453.27" r="0.78" fill="#f26868" fill-opacity="1"/>
<circle cx="494.12" cy="472.86" r="0.78" fill="#f26868" fill-opacity="1"/>
<circle cx="494.03" cy="487.44" r="0.78" fill="#f26868" fill-opacity="1"/>
<text x="378.20" y="419.70" font-size="5.0" text-anchor="start" font-family='"Liberation Serif", serif' font-weight="bold" fill="#111"  stroke="#111" stroke-width="0.25">H</text>
<text x="367.80" y="474.50" font-size="3.75" text-anchor="middle" font-family='"Liberation Serif", serif' font-weight="bold" fill="#111" transform="rotate(-90 367.80 474.50)"  textLength="93.8" lengthAdjust="spacingAndGlyphs" stroke="#111" stroke-width="0.12">Serum Concentration of Unconjugated Bile Acids (ng/mL)</text>
<rect x="486.50" y="425.30" width="5.60" height="2.70" fill="#8080ff" stroke="#6868f2" stroke-width="0.3" fill-opacity="0.38"/>
<text x="493.10" y="427.60" font-size="2.7" text-anchor="start" font-family='"Liberation Serif", serif' font-weight="bold" fill="#111"  stroke="#111" stroke-width="0.12">WPLP</text>
<rect x="486.50" y="428.90" width="5.60" height="2.70" fill="#ff8080" stroke="#f26868" stroke-width="0.3" fill-opacity="0.38"/>
<text x="493.10" y="431.20" font-size="2.7" text-anchor="start" font-family='"Liberation Serif", serif' font-weight="bold" fill="#111"  stroke="#111" stroke-width="0.12">NPLP</text>
<rect x="557.70" y="424.40" width="123.10" height="100.00" fill="none" stroke="#6a6a6a" stroke-width="0.75" />
<line x1="556.40" y1="515.83" x2="557.70" y2="515.83" stroke="#555" stroke-width="0.4" />
<text x="555.30" y="516.88" font-size="3.1" text-anchor="end" font-family='"Liberation Serif", serif' font-weight="bold" fill="#111"  stroke="#111" stroke-width="0.12">0</text>
<line x1="556.40" y1="499.25" x2="557.70" y2="499.25" stroke="#555" stroke-width="0.4" />
<text x="555.30" y="500.30" font-size="3.1" text-anchor="end" font-family='"Liberation Serif", serif' font-weight="bold" fill="#111"  stroke="#111" stroke-width="0.12">200</text>
<line x1="556.40" y1="482.66" x2="557.70" y2="482.66" stroke="#555" stroke-width="0.4" />
<text x="555.30" y="483.71" font-size="3.1" text-anchor="end" font-family='"Liberation Serif", serif' font-weight="bold" fill="#111"  stroke="#111" stroke-width="0.12">400</text>
<line x1="556.40" y1="466.33" x2="557.70" y2="466.33" stroke="#555" stroke-width="0.4" />
<text x="555.30" y="467.38" font-size="3.1" text-anchor="end" font-family='"Liberation Serif", serif' font-weight="bold" fill="#111"  stroke="#111" stroke-width="0.12">600</text>
<line x1="556.40" y1="449.50" x2="557.70" y2="449.50" stroke="#555" stroke-width="0.4" />
<text x="555.30" y="450.55" font-size="3.1" text-anchor="end" font-family='"Liberation Serif", serif' font-weight="bold" fill="#111"  stroke="#111" stroke-width="0.12">800</text>
<line x1="556.40" y1="432.91" x2="557.70" y2="432.91" stroke="#555" stroke-width="0.4" />
<text x="555.30" y="433.96" font-size="3.1" text-anchor="end" font-family='"Liberation Serif", serif' font-weight="bold" fill="#111"  stroke="#111" stroke-width="0.12">1000</text>
<line x1="556.90" y1="507.54" x2="557.70" y2="507.54" stroke="#555" stroke-width="0.35" />
<line x1="556.90" y1="490.95" x2="557.70" y2="490.95" stroke="#555" stroke-width="0.35" />
<line x1="556.90" y1="474.50" x2="557.70" y2="474.50" stroke="#555" stroke-width="0.35" />
<line x1="556.90" y1="457.91" x2="557.70" y2="457.91" stroke="#555" stroke-width="0.35" />
<line x1="556.90" y1="441.21" x2="557.70" y2="441.21" stroke="#555" stroke-width="0.35" />
<line x1="565.00" y1="524.40" x2="565.00" y2="525.70" stroke="#555" stroke-width="0.4" />
<text x="565.00" y="531.40" font-size="3.1" text-anchor="middle" font-family='"Liberation Serif", serif' font-weight="bold" fill="#111"  stroke="#111" stroke-width="0.12">TCA</text>
<line x1="578.80" y1="524.40" x2="578.80" y2="525.70" stroke="#555" stroke-width="0.4" />
<text x="578.80" y="531.40" font-size="3.1" text-anchor="middle" font-family='"Liberation Serif", serif' font-weight="bold" fill="#111"  stroke="#111" stroke-width="0.12">GCA</text>
<line x1="592.40" y1="524.40" x2="592.40" y2="525.70" stroke="#555" stroke-width="0.4" />
<text x="592.40" y="531.40" font-size="3.1" text-anchor="middle" font-family='"Liberation Serif", serif' font-weight="bold" fill="#111"  stroke="#111" stroke-width="0.12">GCDCA</text>
<line x1="606.20" y1="524.40" x2="606.20" y2="525.70" stroke="#555" stroke-width="0.4" />
<text x="606.20" y="531.40" font-size="3.1" text-anchor="middle" font-family='"Liberation Serif", serif' font-weight="bold" fill="#111"  stroke="#111" stroke-width="0.12">TCDCA</text>
<line x1="619.80" y1="524.40" x2="619.80" y2="525.70" stroke="#555" stroke-width="0.4" />
<text x="619.80" y="531.40" font-size="3.1" text-anchor="middle" font-family='"Liberation Serif", serif' font-weight="bold" fill="#111"  stroke="#111" stroke-width="0.12">TUDCA</text>
<line x1="633.60" y1="524.40" x2="633.60" y2="525.70" stroke="#555" stroke-width="0.4" />
<text x="633.60" y="531.40" font-size="3.1" text-anchor="middle" font-family='"Liberation Serif", serif' font-weight="bold" fill="#111"  stroke="#111" stroke-width="0.12">THDCA</text>
<line x1="647.40" y1="524.40" x2="647.40" y2="525.70" stroke="#555" stroke-width="0.4" />
<text x="647.40" y="531.40" font-size="3.1" text-anchor="middle" font-family='"Liberation Serif", serif' font-weight="bold" fill="#111"  stroke="#111" stroke-width="0.12">THCA</text>
<line x1="661.00" y1="524.40" x2="661.00" y2="525.70" stroke="#555" stroke-width="0.4" />
<text x="661.00" y="531.40" font-size="3.1" text-anchor="middle" font-family='"Liberation Serif", serif' font-weight="bold" fill="#111"  stroke="#111" stroke-width="0.12">TLCA</text>
<line x1="674.80" y1="524.40" x2="674.80" y2="525.70" stroke="#555" stroke-width="0.4" />
<text x="674.80" y="531.40" font-size="3.1" text-anchor="middle" font-family='"Liberation Serif", serif' font-weight="bold" fill="#111"  stroke="#111" stroke-width="0.12">GLCA</text>
<line x1="562.20" y1="493.47" x2="562.20" y2="508.54" stroke="#6868f2" stroke-width="0.5" />
<rect x="560.50" y="496.73" width="3.40" height="6.28" fill="#8080ff" stroke="#6868f2" stroke-width="0.35" fill-opacity="0.38"/>
<line x1="560.50" y1="499.87" x2="563.90" y2="499.87" stroke="#6868f2" stroke-width="0.4" />
<circle cx="562.1" cy="506.1" r="0.68" fill="#6868f2" fill-opacity="0.85"/>
<circle cx="562.3" cy="504.1" r="0.68" fill="#6868f2" fill-opacity="0.85"/>
<circle cx="562.3" cy="503.5" r="0.68" fill="#6868f2" fill-opacity="0.85"/>
<circle cx="562.1" cy="507.3" r="0.68" fill="#6868f2" fill-opacity="0.85"/>
<circle cx="562.3" cy="505.5" r="0.68" fill="#6868f2" fill-opacity="0.85"/>
<circle cx="562.0" cy="500.8" r="0.68" fill="#6868f2" fill-opacity="0.85"/>
<circle cx="562.2" cy="501.2" r="0.68" fill="#6868f2" fill-opacity="0.85"/>
<circle cx="562.1" cy="501.1" r="0.68" fill="#6868f2" fill-opacity="0.85"/>
<circle cx="562.3" cy="504.7" r="0.68" fill="#6868f2" fill-opacity="0.85"/>
<circle cx="562.3" cy="500.7" r="0.68" fill="#6868f2" fill-opacity="0.85"/>
<circle cx="562.3" cy="507.8" r="0.68" fill="#6868f2" fill-opacity="0.85"/>
<circle cx="562.1" cy="506.3" r="0.68" fill="#6868f2" fill-opacity="0.85"/>
<circle cx="562.0" cy="502.0" r="0.68" fill="#6868f2" fill-opacity="0.85"/>
<circle cx="562.3" cy="502.5" r="0.68" fill="#6868f2" fill-opacity="0.85"/>
<circle cx="562.3" cy="504.4" r="0.68" fill="#6868f2" fill-opacity="0.85"/>
<circle cx="562.0" cy="501.6" r="0.68" fill="#6868f2" fill-opacity="0.85"/>
<circle cx="562.3" cy="501.3" r="0.68" fill="#6868f2" fill-opacity="0.85"/>
<circle cx="562.4" cy="495.3" r="0.68" fill="#6868f2" fill-opacity="0.85"/>
<circle cx="562.1" cy="497.0" r="0.68" fill="#6868f2" fill-opacity="0.85"/>
<circle cx="562.2" cy="497.9" r="0.68" fill="#6868f2" fill-opacity="0.85"/>
<circle cx="562.3" cy="499.2" r="0.68" fill="#6868f2" fill-opacity="0.85"/>
<circle cx="562.4" cy="499.5" r="0.68" fill="#6868f2" fill-opacity="0.85"/>
<circle cx="562.3" cy="500.2" r="0.68" fill="#6868f2" fill-opacity="0.85"/>
<circle cx="562.2" cy="505.7" r="0.68" fill="#6868f2" fill-opacity="0.85"/>
<circle cx="562.3" cy="496.7" r="0.68" fill="#6868f2" fill-opacity="0.85"/>
<circle cx="562.2" cy="496.4" r="0.68" fill="#6868f2" fill-opacity="0.85"/>
<circle cx="562.0" cy="502.4" r="0.68" fill="#6868f2" fill-opacity="0.85"/>
<circle cx="562.2" cy="501.0" r="0.68" fill="#6868f2" fill-opacity="0.85"/>
<circle cx="562.2" cy="498.4" r="0.68" fill="#6868f2" fill-opacity="0.85"/>
<circle cx="562.1" cy="499.9" r="0.68" fill="#6868f2" fill-opacity="0.85"/>
<circle cx="562.2" cy="498.7" r="0.68" fill="#6868f2" fill-opacity="0.85"/>
<circle cx="562.1" cy="496.7" r="0.68" fill="#6868f2" fill-opacity="0.85"/>
<circle cx="562.1" cy="504.0" r="0.68" fill="#6868f2" fill-opacity="0.85"/>
<circle cx="562.3" cy="503.8" r="0.68" fill="#6868f2" fill-opacity="0.85"/>
<circle cx="562.4" cy="493.5" r="0.68" fill="#6868f2" fill-opacity="0.85"/>
<circle cx="562.2" cy="508.5" r="0.68" fill="#6868f2" fill-opacity="0.85"/>
<circle cx="562.34" cy="470.35" r="0.78" fill="#6868f2" fill-opacity="1"/>
<circle cx="562.05" cy="473.37" r="0.78" fill="#6868f2" fill-opacity="1"/>
<circle cx="562.21" cy="480.90" r="0.78" fill="#6868f2" fill-opacity="1"/>
<circle cx="562.30" cy="487.94" r="0.78" fill="#6868f2" fill-opacity="1"/>
<line x1="567.80" y1="494.22" x2="567.80" y2="513.57" stroke="#f26868" stroke-width="0.5" />
<rect x="566.10" y="497.49" width="3.40" height="7.29" fill="#ff8080" stroke="#f26868" stroke-width="0.35" fill-opacity="0.38"/>
<line x1="566.10" y1="501.13" x2="569.50" y2="501.13" stroke="#f26868" stroke-width="0.4" />
<circle cx="567.8" cy="510.2" r="0.68" fill="#f26868" fill-opacity="0.85"/>
<circle cx="567.6" cy="506.7" r="0.68" fill="#f26868" fill-opacity="0.85"/>
<circle cx="567.7" cy="501.7" r="0.68" fill="#f26868" fill-opacity="0.85"/>
<circle cx="568.0" cy="509.9" r="0.68" fill="#f26868" fill-opacity="0.85"/>
<circle cx="567.8" cy="508.8" r="0.68" fill="#f26868" fill-opacity="0.85"/>
<circle cx="567.7" cy="505.7" r="0.68" fill="#f26868" fill-opacity="0.85"/>
<circle cx="567.8" cy="497.1" r="0.68" fill="#f26868" fill-opacity="0.85"/>
<circle cx="567.6" cy="495.7" r="0.68" fill="#f26868" fill-opacity="0.85"/>
<circle cx="567.8" cy="506.7" r="0.68" fill="#f26868" fill-opacity="0.85"/>
<circle cx="567.7" cy="503.9" r="0.68" fill="#f26868" fill-opacity="0.85"/>
<circle cx="567.7" cy="504.3" r="0.68" fill="#f26868" fill-opacity="0.85"/>
<circle cx="567.9" cy="502.2" r="0.68" fill="#f26868" fill-opacity="0.85"/>
<circle cx="568.0" cy="499.6" r="0.68" fill="#f26868" fill-opacity="0.85"/>
<circle cx="567.6" cy="502.7" r="0.68" fill="#f26868" fill-opacity="0.85"/>
<circle cx="567.9" cy="500.2" r="0.68" fill="#f26868" fill-opacity="0.85"/>
<circle cx="567.8" cy="508.6" r="0.68" fill="#f26868" fill-opacity="0.85"/>
<circle cx="567.8" cy="503.5" r="0.68" fill="#f26868" fill-opacity="0.85"/>
<circle cx="567.8" cy="504.1" r="0.68" fill="#f26868" fill-opacity="0.85"/>
<circle cx="567.6" cy="504.1" r="0.68" fill="#f26868" fill-opacity="0.85"/>
<circle cx="567.7" cy="509.3" r="0.68" fill="#f26868" fill-opacity="0.85"/>
<circle cx="567.8" cy="510.7" r="0.68" fill="#f26868" fill-opacity="0.85"/>
<circle cx="567.7" cy="496.2" r="0.68" fill="#f26868" fill-opacity="0.85"/>
<circle cx="568.0" cy="510.5" r="0.68" fill="#f26868" fill-opacity="0.85"/>
<circle cx="567.7" cy="509.3" r="0.68" fill="#f26868" fill-opacity="0.85"/>
<circle cx="567.9" cy="502.1" r="0.68" fill="#f26868" fill-opacity="0.85"/>
<circle cx="567.9" cy="507.3" r="0.68" fill="#f26868" fill-opacity="0.85"/>
<circle cx="567.9" cy="503.6" r="0.68" fill="#f26868" fill-opacity="0.85"/>
<circle cx="567.8" cy="501.4" r="0.68" fill="#f26868" fill-opacity="0.85"/>
<circle cx="567.8" cy="501.8" r="0.68" fill="#f26868" fill-opacity="0.85"/>
<circle cx="567.9" cy="502.7" r="0.68" fill="#f26868" fill-opacity="0.85"/>
<circle cx="567.6" cy="506.2" r="0.68" fill="#f26868" fill-opacity="0.85"/>
<circle cx="567.7" cy="501.7" r="0.68" fill="#f26868" fill-opacity="0.85"/>
<circle cx="567.6" cy="504.3" r="0.68" fill="#f26868" fill-opacity="0.85"/>
<circle cx="567.8" cy="504.7" r="0.68" fill="#f26868" fill-opacity="0.85"/>
<circle cx="567.8" cy="494.2" r="0.68" fill="#f26868" fill-opacity="0.85"/>
<circle cx="568.0" cy="513.6" r="0.68" fill="#f26868" fill-opacity="0.85"/>
<circle cx="567.97" cy="459.55" r="0.78" fill="#f26868" fill-opacity="1"/>
<circle cx="567.76" cy="482.16" r="0.78" fill="#f26868" fill-opacity="1"/>
<line x1="576.00" y1="501.26" x2="576.00" y2="515.58" stroke="#6868f2" stroke-width="0.5" />
<rect x="574.30" y="505.03" width="3.40" height="8.04" fill="#8080ff" stroke="#6868f2" stroke-width="0.35" fill-opacity="0.38"/>
<line x1="574.30" y1="509.05" x2="577.70" y2="509.05" stroke="#6868f2" stroke-width="0.4" />
<circle cx="576.0" cy="506.3" r="0.68" fill="#6868f2" fill-opacity="0.85"/>
<circle cx="576.1" cy="511.2" r="0.68" fill="#6868f2" fill-opacity="0.85"/>
<circle cx="576.0" cy="511.6" r="0.68" fill="#6868f2" fill-opacity="0.85"/>
<circle cx="575.8" cy="512.6" r="0.68" fill="#6868f2" fill-opacity="0.85"/>
<circle cx="576.1" cy="513.8" r="0.68" fill="#6868f2" fill-opacity="0.85"/>
<circle cx="576.0" cy="508.1" r="0.68" fill="#6868f2" fill-opacity="0.85"/>
<circle cx="576.1" cy="510.7" r="0.68" fill="#6868f2" fill-opacity="0.85"/>
<circle cx="576.2" cy="510.2" r="0.68" fill="#6868f2" fill-opacity="0.85"/>
<circle cx="575.9" cy="509.3" r="0.68" fill="#6868f2" fill-opacity="0.85"/>
<circle cx="576.1" cy="507.3" r="0.68" fill="#6868f2" fill-opacity="0.85"/>
<circle cx="575.9" cy="506.3" r="0.68" fill="#6868f2" fill-opacity="0.85"/>
<circle cx="576.1" cy="506.6" r="0.68" fill="#6868f2" fill-opacity="0.85"/>
<circle cx="575.8" cy="510.3" r="0.68" fill="#6868f2" fill-opacity="0.85"/>
<circle cx="576.1" cy="511.7" r="0.68" fill="#6868f2" fill-opacity="0.85"/>
<circle cx="576.0" cy="508.5" r="0.68" fill="#6868f2" fill-opacity="0.85"/>
<circle cx="576.0" cy="504.5" r="0.68" fill="#6868f2" fill-opacity="0.85"/>
<circle cx="576.0" cy="510.8" r="0.68" fill="#6868f2" fill-opacity="0.85"/>
<circle cx="575.9" cy="506.5" r="0.68" fill="#6868f2" fill-opacity="0.85"/>
<circle cx="575.9" cy="509.2" r="0.68" fill="#6868f2" fill-opacity="0.85"/>
<circle cx="576.1" cy="515.0" r="0.68" fill="#6868f2" fill-opacity="0.85"/>
<circle cx="576.1" cy="512.0" r="0.68" fill="#6868f2" fill-opacity="0.85"/>
<circle cx="575.8" cy="506.4" r="0.68" fill="#6868f2" fill-opacity="0.85"/>
<circle cx="575.9" cy="505.8" r="0.68" fill="#6868f2" fill-opacity="0.85"/>
<circle cx="576.2" cy="509.6" r="0.68" fill="#6868f2" fill-opacity="0.85"/>
<circle cx="575.9" cy="511.0" r="0.68" fill="#6868f2" fill-opacity="0.85"/>
<circle cx="575.9" cy="505.4" r="0.68" fill="#6868f2" fill-opacity="0.85"/>
<circle cx="576.0" cy="507.3" r="0.68" fill="#6868f2" fill-opacity="0.85"/>
<circle cx="575.9" cy="509.4" r="0.68" fill="#6868f2" fill-opacity="0.85"/>
<circle cx="576.2" cy="507.3" r="0.68" fill="#6868f2" fill-opacity="0.85"/>
<circle cx="576.2" cy="505.6" r="0.68" fill="#6868f2" fill-opacity="0.85"/>
<circle cx="575.9" cy="514.5" r="0.68" fill="#6868f2" fill-opacity="0.85"/>
<circle cx="575.9" cy="509.3" r="0.68" fill="#6868f2" fill-opacity="0.85"/>
<circle cx="575.9" cy="505.3" r="0.68" fill="#6868f2" fill-opacity="0.85"/>
<circle cx="576.0" cy="507.8" r="0.68" fill="#6868f2" fill-opacity="0.85"/>
<circle cx="575.9" cy="501.3" r="0.68" fill="#6868f2" fill-opacity="0.85"/>
<circle cx="576.1" cy="515.6" r="0.68" fill="#6868f2" fill-opacity="0.85"/>
<circle cx="576.15" cy="472.36" r="0.78" fill="#6868f2" fill-opacity="1"/>
<circle cx="575.83" cy="484.67" r="0.78" fill="#6868f2" fill-opacity="1"/>
<circle cx="575.81" cy="489.20" r="0.78" fill="#6868f2" fill-opacity="1"/>
<circle cx="575.84" cy="491.71" r="0.78" fill="#6868f2" fill-opacity="1"/>
<line x1="581.60" y1="494.97" x2="581.60" y2="515.58" stroke="#f26868" stroke-width="0.5" />
<rect x="579.90" y="502.51" width="3.40" height="10.55" fill="#ff8080" stroke="#f26868" stroke-width="0.35" fill-opacity="0.38"/>
<line x1="579.90" y1="507.79" x2="583.30" y2="507.79" stroke="#f26868" stroke-width="0.4" />
<circle cx="581.4" cy="503.8" r="0.68" fill="#f26868" fill-opacity="0.85"/>
<circle cx="581.5" cy="506.4" r="0.68" fill="#f26868" fill-opacity="0.85"/>
<circle cx="581.6" cy="510.5" r="0.68" fill="#f26868" fill-opacity="0.85"/>
<circle cx="581.5" cy="512.8" r="0.68" fill="#f26868" fill-opacity="0.85"/>
<circle cx="581.6" cy="496.2" r="0.68" fill="#f26868" fill-opacity="0.85"/>
<circle cx="581.5" cy="496.1" r="0.68" fill="#f26868" fill-opacity="0.85"/>
<circle cx="581.5" cy="510.4" r="0.68" fill="#f26868" fill-opacity="0.85"/>
<circle cx="581.7" cy="502.0" r="0.68" fill="#f26868" fill-opacity="0.85"/>
<circle cx="581.5" cy="506.1" r="0.68" fill="#f26868" fill-opacity="0.85"/>
<circle cx="581.7" cy="506.0" r="0.68" fill="#f26868" fill-opacity="0.85"/>
<circle cx="581.7" cy="509.2" r="0.68" fill="#f26868" fill-opacity="0.85"/>
<circle cx="581.6" cy="495.4" r="0.68" fill="#f26868" fill-opacity="0.85"/>
<circle cx="581.4" cy="496.0" r="0.68" fill="#f26868" fill-opacity="0.85"/>
<circle cx="581.7" cy="512.2" r="0.68" fill="#f26868" fill-opacity="0.85"/>
<circle cx="581.6" cy="507.8" r="0.68" fill="#f26868" fill-opacity="0.85"/>
<circle cx="581.6" cy="505.4" r="0.68" fill="#f26868" fill-opacity="0.85"/>
<circle cx="581.7" cy="504.7" r="0.68" fill="#f26868" fill-opacity="0.85"/>
<circle cx="581.6" cy="501.4" r="0.68" fill="#f26868" fill-opacity="0.85"/>
<circle cx="581.8" cy="510.1" r="0.68" fill="#f26868" fill-opacity="0.85"/>
<circle cx="581.4" cy="506.0" r="0.68" fill="#f26868" fill-opacity="0.85"/>
<circle cx="581.8" cy="498.4" r="0.68" fill="#f26868" fill-opacity="0.85"/>
<circle cx="581.6" cy="504.8" r="0.68" fill="#f26868" fill-opacity="0.85"/>
<circle cx="581.6" cy="497.1" r="0.68" fill="#f26868" fill-opacity="0.85"/>
<circle cx="581.8" cy="501.7" r="0.68" fill="#f26868" fill-opacity="0.85"/>
<circle cx="581.8" cy="509.2" r="0.68" fill="#f26868" fill-opacity="0.85"/>
<circle cx="581.6" cy="503.2" r="0.68" fill="#f26868" fill-opacity="0.85"/>
<circle cx="581.4" cy="504.4" r="0.68" fill="#f26868" fill-opacity="0.85"/>
<circle cx="581.6" cy="514.5" r="0.68" fill="#f26868" fill-opacity="0.85"/>
<circle cx="581.6" cy="501.3" r="0.68" fill="#f26868" fill-opacity="0.85"/>
<circle cx="581.6" cy="505.2" r="0.68" fill="#f26868" fill-opacity="0.85"/>
<circle cx="581.7" cy="506.2" r="0.68" fill="#f26868" fill-opacity="0.85"/>
<circle cx="581.5" cy="508.2" r="0.68" fill="#f26868" fill-opacity="0.85"/>
<circle cx="581.7" cy="508.2" r="0.68" fill="#f26868" fill-opacity="0.85"/>
<circle cx="581.5" cy="505.3" r="0.68" fill="#f26868" fill-opacity="0.85"/>
<circle cx="581.5" cy="495.0" r="0.68" fill="#f26868" fill-opacity="0.85"/>
<circle cx="581.4" cy="515.6" r="0.68" fill="#f26868" fill-opacity="0.85"/>
<circle cx="581.44" cy="457.29" r="0.78" fill="#f26868" fill-opacity="1"/>
<circle cx="581.51" cy="468.34" r="0.78" fill="#f26868" fill-opacity="1"/>
<circle cx="581.61" cy="469.60" r="0.78" fill="#f26868" fill-opacity="1"/>
<circle cx="581.78" cy="474.62" r="0.78" fill="#f26868" fill-opacity="1"/>
<circle cx="581.47" cy="480.90" r="0.78" fill="#f26868" fill-opacity="1"/>
<circle cx="581.52" cy="484.92" r="0.78" fill="#f26868" fill-opacity="1"/>
<circle cx="581.55" cy="488.44" r="0.78" fill="#f26868" fill-opacity="1"/>
<line x1="589.60" y1="501.76" x2="589.60" y2="515.58" stroke="#6868f2" stroke-width="0.5" />
<rect x="587.90" y="505.03" width="3.40" height="8.54" fill="#8080ff" stroke="#6868f2" stroke-width="0.35" fill-opacity="0.38"/>
<line x1="587.90" y1="509.30" x2="591.30" y2="509.30" stroke="#6868f2" stroke-width="0.4" />
<circle cx="589.8" cy="508.4" r="0.68" fill="#6868f2" fill-opacity="0.85"/>
<circle cx="589.5" cy="503.1" r="0.68" fill="#6868f2" fill-opacity="0.85"/>
<circle cx="589.5" cy="508.1" r="0.68" fill="#6868f2" fill-opacity="0.85"/>
<circle cx="589.8" cy="510.8" r="0.68" fill="#6868f2" fill-opacity="0.85"/>
<circle cx="589.7" cy="503.0" r="0.68" fill="#6868f2" fill-opacity="0.85"/>
<circle cx="589.6" cy="510.1" r="0.68" fill="#6868f2" fill-opacity="0.85"/>
<circle cx="589.4" cy="510.6" r="0.68" fill="#6868f2" fill-opacity="0.85"/>
<circle cx="589.5" cy="505.9" r="0.68" fill="#6868f2" fill-opacity="0.85"/>
<circle cx="589.5" cy="508.2" r="0.68" fill="#6868f2" fill-opacity="0.85"/>
<circle cx="589.8" cy="510.3" r="0.68" fill="#6868f2" fill-opacity="0.85"/>
<circle cx="589.6" cy="507.1" r="0.68" fill="#6868f2" fill-opacity="0.85"/>
<circle cx="589.8" cy="511.9" r="0.68" fill="#6868f2" fill-opacity="0.85"/>
<circle cx="589.5" cy="504.1" r="0.68" fill="#6868f2" fill-opacity="0.85"/>
<circle cx="589.4" cy="511.3" r="0.68" fill="#6868f2" fill-opacity="0.85"/>
<circle cx="589.8" cy="512.3" r="0.68" fill="#6868f2" fill-opacity="0.85"/>
<circle cx="589.4" cy="507.6" r="0.68" fill="#6868f2" fill-opacity="0.85"/>
<circle cx="589.7" cy="504.1" r="0.68" fill="#6868f2" fill-opacity="0.85"/>
<circle cx="589.6" cy="512.1" r="0.68" fill="#6868f2" fill-opacity="0.85"/>
<circle cx="589.5" cy="509.5" r="0.68" fill="#6868f2" fill-opacity="0.85"/>
<circle cx="589.7" cy="508.2" r="0.68" fill="#6868f2" fill-opacity="0.85"/>
<circle cx="589.6" cy="509.1" r="0.68" fill="#6868f2" fill-opacity="0.85"/>
<circle cx="589.8" cy="509.3" r="0.68" fill="#6868f2" fill-opacity="0.85"/>
<circle cx="589.6" cy="512.0" r="0.68" fill="#6868f2" fill-opacity="0.85"/>
<circle cx="589.8" cy="514.3" r="0.68" fill="#6868f2" fill-opacity="0.85"/>
<circle cx="589.8" cy="505.3" r="0.68" fill="#6868f2" fill-opacity="0.85"/>
<circle cx="589.6" cy="509.7" r="0.68" fill="#6868f2" fill-opacity="0.85"/>
<circle cx="589.7" cy="506.5" r="0.68" fill="#6868f2" fill-opacity="0.85"/>
<circle cx="589.7" cy="505.2" r="0.68" fill="#6868f2" fill-opacity="0.85"/>
<circle cx="589.7" cy="508.2" r="0.68" fill="#6868f2" fill-opacity="0.85"/>
<circle cx="589.4" cy="508.4" r="0.68" fill="#6868f2" fill-opacity="0.85"/>
<circle cx="589.7" cy="510.4" r="0.68" fill="#6868f2" fill-opacity="0.85"/>
<circle cx="589.7" cy="503.5" r="0.68" fill="#6868f2" fill-opacity="0.85"/>
<circle cx="589.5" cy="506.5" r="0.68" fill="#6868f2" fill-opacity="0.85"/>
<circle cx="589.4" cy="510.7" r="0.68" fill="#6868f2" fill-opacity="0.85"/>
<circle cx="589.4" cy="501.8" r="0.68" fill="#6868f2" fill-opacity="0.85"/>
<circle cx="589.6" cy="515.6" r="0.68" fill="#6868f2" fill-opacity="0.85"/>
<circle cx="589.44" cy="479.65" r="0.78" fill="#6868f2" fill-opacity="1"/>
<circle cx="589.74" cy="480.90" r="0.78" fill="#6868f2" fill-opacity="1"/>
<circle cx="589.57" cy="484.67" r="0.78" fill="#6868f2" fill-opacity="1"/>
<circle cx="589.80" cy="486.68" r="0.78" fill="#6868f2" fill-opacity="1"/>
<line x1="595.20" y1="495.48" x2="595.20" y2="515.58" stroke="#f26868" stroke-width="0.5" />
<rect x="593.50" y="502.51" width="3.40" height="10.55" fill="#ff8080" stroke="#f26868" stroke-width="0.35" fill-opacity="0.38"/>
<line x1="593.50" y1="507.79" x2="596.90" y2="507.79" stroke="#f26868" stroke-width="0.4" />
<circle cx="595.1" cy="511.5" r="0.68" fill="#f26868" fill-opacity="0.85"/>
<circle cx="595.3" cy="513.7" r="0.68" fill="#f26868" fill-opacity="0.85"/>
<circle cx="595.3" cy="503.9" r="0.68" fill="#f26868" fill-opacity="0.85"/>
<circle cx="595.1" cy="511.4" r="0.68" fill="#f26868" fill-opacity="0.85"/>
<circle cx="595.4" cy="511.1" r="0.68" fill="#f26868" fill-opacity="0.85"/>
<circle cx="595.1" cy="505.9" r="0.68" fill="#f26868" fill-opacity="0.85"/>
<circle cx="595.4" cy="507.8" r="0.68" fill="#f26868" fill-opacity="0.85"/>
<circle cx="595.2" cy="505.2" r="0.68" fill="#f26868" fill-opacity="0.85"/>
<circle cx="595.4" cy="497.9" r="0.68" fill="#f26868" fill-opacity="0.85"/>
<circle cx="595.4" cy="508.3" r="0.68" fill="#f26868" fill-opacity="0.85"/>
<circle cx="595.3" cy="510.2" r="0.68" fill="#f26868" fill-opacity="0.85"/>
<circle cx="595.1" cy="511.4" r="0.68" fill="#f26868" fill-opacity="0.85"/>
<circle cx="595.2" cy="500.2" r="0.68" fill="#f26868" fill-opacity="0.85"/>
<circle cx="595.2" cy="509.7" r="0.68" fill="#f26868" fill-opacity="0.85"/>
<circle cx="595.3" cy="505.1" r="0.68" fill="#f26868" fill-opacity="0.85"/>
<circle cx="595.2" cy="505.6" r="0.68" fill="#f26868" fill-opacity="0.85"/>
<circle cx="595.4" cy="505.3" r="0.68" fill="#f26868" fill-opacity="0.85"/>
<circle cx="595.1" cy="506.7" r="0.68" fill="#f26868" fill-opacity="0.85"/>
<circle cx="595.2" cy="501.4" r="0.68" fill="#f26868" fill-opacity="0.85"/>
<circle cx="595.1" cy="498.6" r="0.68" fill="#f26868" fill-opacity="0.85"/>
<circle cx="595.1" cy="502.8" r="0.68" fill="#f26868" fill-opacity="0.85"/>
<circle cx="595.1" cy="500.7" r="0.68" fill="#f26868" fill-opacity="0.85"/>
<circle cx="595.0" cy="511.0" r="0.68" fill="#f26868" fill-opacity="0.85"/>
<circle cx="595.2" cy="510.3" r="0.68" fill="#f26868" fill-opacity="0.85"/>
<circle cx="595.2" cy="500.8" r="0.68" fill="#f26868" fill-opacity="0.85"/>
<circle cx="595.2" cy="509.3" r="0.68" fill="#f26868" fill-opacity="0.85"/>
<circle cx="595.3" cy="505.6" r="0.68" fill="#f26868" fill-opacity="0.85"/>
<circle cx="595.2" cy="511.0" r="0.68" fill="#f26868" fill-opacity="0.85"/>
<circle cx="595.3" cy="500.9" r="0.68" fill="#f26868" fill-opacity="0.85"/>
<circle cx="595.0" cy="503.2" r="0.68" fill="#f26868" fill-opacity="0.85"/>
<circle cx="595.1" cy="507.4" r="0.68" fill="#f26868" fill-opacity="0.85"/>
<circle cx="595.0" cy="501.7" r="0.68" fill="#f26868" fill-opacity="0.85"/>
<circle cx="595.1" cy="511.7" r="0.68" fill="#f26868" fill-opacity="0.85"/>
<circle cx="595.3" cy="504.9" r="0.68" fill="#f26868" fill-opacity="0.85"/>
<circle cx="595.1" cy="495.5" r="0.68" fill="#f26868" fill-opacity="0.85"/>
<circle cx="595.2" cy="515.6" r="0.68" fill="#f26868" fill-opacity="0.85"/>
<circle cx="595.15" cy="470.35" r="0.78" fill="#f26868" fill-opacity="1"/>
<circle cx="595.27" cy="474.62" r="0.78" fill="#f26868" fill-opacity="1"/>
<circle cx="595.35" cy="477.89" r="0.78" fill="#f26868" fill-opacity="1"/>
<circle cx="595.33" cy="485.93" r="0.78" fill="#f26868" fill-opacity="1"/>
<line x1="603.40" y1="461.56" x2="603.40" y2="481.66" stroke="#6868f2" stroke-width="0.5" />
<rect x="601.70" y="468.34" width="3.40" height="11.56" fill="#8080ff" stroke="#6868f2" stroke-width="0.35" fill-opacity="0.38"/>
<line x1="601.70" y1="474.62" x2="605.10" y2="474.62" stroke="#6868f2" stroke-width="0.4" />
<circle cx="603.5" cy="467.6" r="0.68" fill="#6868f2" fill-opacity="0.85"/>
<circle cx="603.5" cy="468.7" r="0.68" fill="#6868f2" fill-opacity="0.85"/>
<circle cx="603.5" cy="468.0" r="0.68" fill="#6868f2" fill-opacity="0.85"/>
<circle cx="603.3" cy="470.1" r="0.68" fill="#6868f2" fill-opacity="0.85"/>
<circle cx="603.5" cy="473.3" r="0.68" fill="#6868f2" fill-opacity="0.85"/>
<circle cx="603.4" cy="475.5" r="0.68" fill="#6868f2" fill-opacity="0.85"/>
<circle cx="603.3" cy="475.4" r="0.68" fill="#6868f2" fill-opacity="0.85"/>
<circle cx="603.6" cy="466.1" r="0.68" fill="#6868f2" fill-opacity="0.85"/>
<circle cx="603.5" cy="464.7" r="0.68" fill="#6868f2" fill-opacity="0.85"/>
<circle cx="603.5" cy="471.9" r="0.68" fill="#6868f2" fill-opacity="0.85"/>
<circle cx="603.5" cy="473.2" r="0.68" fill="#6868f2" fill-opacity="0.85"/>
<circle cx="603.5" cy="463.8" r="0.68" fill="#6868f2" fill-opacity="0.85"/>
<circle cx="603.4" cy="468.9" r="0.68" fill="#6868f2" fill-opacity="0.85"/>
<circle cx="603.6" cy="465.7" r="0.68" fill="#6868f2" fill-opacity="0.85"/>
<circle cx="603.6" cy="476.5" r="0.68" fill="#6868f2" fill-opacity="0.85"/>
<circle cx="603.5" cy="472.0" r="0.68" fill="#6868f2" fill-opacity="0.85"/>
<circle cx="603.4" cy="466.8" r="0.68" fill="#6868f2" fill-opacity="0.85"/>
<circle cx="603.4" cy="468.2" r="0.68" fill="#6868f2" fill-opacity="0.85"/>
<circle cx="603.2" cy="474.3" r="0.68" fill="#6868f2" fill-opacity="0.85"/>
<circle cx="603.6" cy="467.5" r="0.68" fill="#6868f2" fill-opacity="0.85"/>
<circle cx="603.5" cy="477.5" r="0.68" fill="#6868f2" fill-opacity="0.85"/>
<circle cx="603.4" cy="469.6" r="0.68" fill="#6868f2" fill-opacity="0.85"/>
<circle cx="603.4" cy="475.3" r="0.68" fill="#6868f2" fill-opacity="0.85"/>
<circle cx="603.5" cy="476.1" r="0.68" fill="#6868f2" fill-opacity="0.85"/>
<circle cx="603.2" cy="469.3" r="0.68" fill="#6868f2" fill-opacity="0.85"/>
<circle cx="603.4" cy="469.4" r="0.68" fill="#6868f2" fill-opacity="0.85"/>
<circle cx="603.3" cy="479.4" r="0.68" fill="#6868f2" fill-opacity="0.85"/>
<circle cx="603.4" cy="476.5" r="0.68" fill="#6868f2" fill-opacity="0.85"/>
<circle cx="603.3" cy="463.7" r="0.68" fill="#6868f2" fill-opacity="0.85"/>
<circle cx="603.4" cy="473.5" r="0.68" fill="#6868f2" fill-opacity="0.85"/>
<circle cx="603.6" cy="471.1" r="0.68" fill="#6868f2" fill-opacity="0.85"/>
<circle cx="603.4" cy="469.2" r="0.68" fill="#6868f2" fill-opacity="0.85"/>
<circle cx="603.2" cy="473.8" r="0.68" fill="#6868f2" fill-opacity="0.85"/>
<circle cx="603.2" cy="474.4" r="0.68" fill="#6868f2" fill-opacity="0.85"/>
<circle cx="603.5" cy="461.6" r="0.68" fill="#6868f2" fill-opacity="0.85"/>
<circle cx="603.4" cy="481.7" r="0.68" fill="#6868f2" fill-opacity="0.85"/>
<circle cx="603.38" cy="438.94" r="0.78" fill="#6868f2" fill-opacity="1"/>
<circle cx="603.21" cy="443.97" r="0.78" fill="#6868f2" fill-opacity="1"/>
<circle cx="603.24" cy="445.73" r="0.78" fill="#6868f2" fill-opacity="1"/>
<circle cx="603.20" cy="449.75" r="0.78" fill="#6868f2" fill-opacity="1"/>
<circle cx="603.56" cy="497.49" r="0.78" fill="#6868f2" fill-opacity="1"/>
<circle cx="603.22" cy="498.74" r="0.78" fill="#6868f2" fill-opacity="1"/>
<circle cx="603.33" cy="506.78" r="0.78" fill="#6868f2" fill-opacity="1"/>
<circle cx="603.39" cy="511.06" r="0.78" fill="#6868f2" fill-opacity="1"/>
<line x1="609.00" y1="461.56" x2="609.00" y2="482.91" stroke="#f26868" stroke-width="0.5" />
<rect x="607.30" y="466.58" width="3.40" height="13.07" fill="#ff8080" stroke="#f26868" stroke-width="0.35" fill-opacity="0.38"/>
<line x1="607.30" y1="473.37" x2="610.70" y2="473.37" stroke="#f26868" stroke-width="0.4" />
<circle cx="609.1" cy="471.4" r="0.68" fill="#f26868" fill-opacity="0.85"/>
<circle cx="609.0" cy="472.3" r="0.68" fill="#f26868" fill-opacity="0.85"/>
<circle cx="608.9" cy="465.9" r="0.68" fill="#f26868" fill-opacity="0.85"/>
<circle cx="609.0" cy="481.7" r="0.68" fill="#f26868" fill-opacity="0.85"/>
<circle cx="609.1" cy="475.9" r="0.68" fill="#f26868" fill-opacity="0.85"/>
<circle cx="609.0" cy="477.8" r="0.68" fill="#f26868" fill-opacity="0.85"/>
<circle cx="609.1" cy="469.9" r="0.68" fill="#f26868" fill-opacity="0.85"/>
<circle cx="609.2" cy="476.4" r="0.68" fill="#f26868" fill-opacity="0.85"/>
<circle cx="609.1" cy="472.0" r="0.68" fill="#f26868" fill-opacity="0.85"/>
<circle cx="609.0" cy="470.7" r="0.68" fill="#f26868" fill-opacity="0.85"/>
<circle cx="609.1" cy="475.6" r="0.68" fill="#f26868" fill-opacity="0.85"/>
<circle cx="609.0" cy="469.0" r="0.68" fill="#f26868" fill-opacity="0.85"/>
<circle cx="609.0" cy="469.9" r="0.68" fill="#f26868" fill-opacity="0.85"/>
<circle cx="609.0" cy="466.1" r="0.68" fill="#f26868" fill-opacity="0.85"/>
<circle cx="609.2" cy="470.5" r="0.68" fill="#f26868" fill-opacity="0.85"/>
<circle cx="609.2" cy="474.0" r="0.68" fill="#f26868" fill-opacity="0.85"/>
<circle cx="609.0" cy="464.5" r="0.68" fill="#f26868" fill-opacity="0.85"/>
<circle cx="609.0" cy="477.2" r="0.68" fill="#f26868" fill-opacity="0.85"/>
<circle cx="608.8" cy="479.2" r="0.68" fill="#f26868" fill-opacity="0.85"/>
<circle cx="609.0" cy="474.8" r="0.68" fill="#f26868" fill-opacity="0.85"/>
<circle cx="609.2" cy="471.6" r="0.68" fill="#f26868" fill-opacity="0.85"/>
<circle cx="608.9" cy="467.7" r="0.68" fill="#f26868" fill-opacity="0.85"/>
<circle cx="609.1" cy="463.1" r="0.68" fill="#f26868" fill-opacity="0.85"/>
<circle cx="608.9" cy="475.5" r="0.68" fill="#f26868" fill-opacity="0.85"/>
<circle cx="609.1" cy="473.2" r="0.68" fill="#f26868" fill-opacity="0.85"/>
<circle cx="608.9" cy="471.0" r="0.68" fill="#f26868" fill-opacity="0.85"/>
<circle cx="609.0" cy="467.5" r="0.68" fill="#f26868" fill-opacity="0.85"/>
<circle cx="609.1" cy="474.1" r="0.68" fill="#f26868" fill-opacity="0.85"/>
<circle cx="608.8" cy="474.6" r="0.68" fill="#f26868" fill-opacity="0.85"/>
<circle cx="609.1" cy="470.7" r="0.68" fill="#f26868" fill-opacity="0.85"/>
<circle cx="609.0" cy="474.4" r="0.68" fill="#f26868" fill-opacity="0.85"/>
<circle cx="608.9" cy="480.3" r="0.68" fill="#f26868" fill-opacity="0.85"/>
<circle cx="608.9" cy="477.6" r="0.68" fill="#f26868" fill-opacity="0.85"/>
<circle cx="609.0" cy="464.8" r="0.68" fill="#f26868" fill-opacity="0.85"/>
<circle cx="609.1" cy="461.6" r="0.68" fill="#f26868" fill-opacity="0.85"/>
<circle cx="608.9" cy="482.9" r="0.68" fill="#f26868" fill-opacity="0.85"/>
<circle cx="608.83" cy="436.93" r="0.78" fill="#f26868" fill-opacity="1"/>
<circle cx="608.89" cy="438.19" r="0.78" fill="#f26868" fill-opacity="1"/>
<circle cx="609.05" cy="445.73" r="0.78" fill="#f26868" fill-opacity="1"/>
<circle cx="608.96" cy="500.50" r="0.78" fill="#f26868" fill-opacity="1"/>
<circle cx="609.11" cy="501.76" r="0.78" fill="#f26868" fill-opacity="1"/>
<circle cx="609.09" cy="509.30" r="0.78" fill="#f26868" fill-opacity="1"/>
<circle cx="608.95" cy="512.31" r="0.78" fill="#f26868" fill-opacity="1"/>
<line x1="617.00" y1="451.01" x2="617.00" y2="469.60" stroke="#6868f2" stroke-width="0.5" />
<rect x="615.30" y="456.53" width="3.40" height="10.55" fill="#8080ff" stroke="#6868f2" stroke-width="0.35" fill-opacity="0.38"/>
<line x1="615.30" y1="461.56" x2="618.70" y2="461.56" stroke="#6868f2" stroke-width="0.4" />
<circle cx="616.9" cy="460.1" r="0.68" fill="#6868f2" fill-opacity="0.85"/>
<circle cx="617.0" cy="461.9" r="0.68" fill="#6868f2" fill-opacity="0.85"/>
<circle cx="617.1" cy="459.0" r="0.68" fill="#6868f2" fill-opacity="0.85"/>
<circle cx="616.9" cy="463.9" r="0.68" fill="#6868f2" fill-opacity="0.85"/>
<circle cx="617.2" cy="465.7" r="0.68" fill="#6868f2" fill-opacity="0.85"/>
<circle cx="616.8" cy="466.8" r="0.68" fill="#6868f2" fill-opacity="0.85"/>
<circle cx="616.9" cy="461.9" r="0.68" fill="#6868f2" fill-opacity="0.85"/>
<circle cx="617.0" cy="459.2" r="0.68" fill="#6868f2" fill-opacity="0.85"/>
<circle cx="617.1" cy="467.7" r="0.68" fill="#6868f2" fill-opacity="0.85"/>
<circle cx="617.0" cy="458.5" r="0.68" fill="#6868f2" fill-opacity="0.85"/>
<circle cx="617.2" cy="455.9" r="0.68" fill="#6868f2" fill-opacity="0.85"/>
<circle cx="616.9" cy="453.4" r="0.68" fill="#6868f2" fill-opacity="0.85"/>
<circle cx="616.8" cy="462.1" r="0.68" fill="#6868f2" fill-opacity="0.85"/>
<circle cx="617.0" cy="456.3" r="0.68" fill="#6868f2" fill-opacity="0.85"/>
<circle cx="616.9" cy="463.0" r="0.68" fill="#6868f2" fill-opacity="0.85"/>
<circle cx="617.0" cy="461.7" r="0.68" fill="#6868f2" fill-opacity="0.85"/>
<circle cx="617.0" cy="455.4" r="0.68" fill="#6868f2" fill-opacity="0.85"/>
<circle cx="617.2" cy="460.3" r="0.68" fill="#6868f2" fill-opacity="0.85"/>
<circle cx="616.9" cy="453.7" r="0.68" fill="#6868f2" fill-opacity="0.85"/>
<circle cx="617.1" cy="462.2" r="0.68" fill="#6868f2" fill-opacity="0.85"/>
<circle cx="617.0" cy="454.8" r="0.68" fill="#6868f2" fill-opacity="0.85"/>
<circle cx="616.9" cy="455.8" r="0.68" fill="#6868f2" fill-opacity="0.85"/>
<circle cx="617.2" cy="456.0" r="0.68" fill="#6868f2" fill-opacity="0.85"/>
<circle cx="616.9" cy="464.1" r="0.68" fill="#6868f2" fill-opacity="0.85"/>
<circle cx="616.9" cy="465.7" r="0.68" fill="#6868f2" fill-opacity="0.85"/>
<circle cx="616.9" cy="463.6" r="0.68" fill="#6868f2" fill-opacity="0.85"/>
<circle cx="617.1" cy="461.5" r="0.68" fill="#6868f2" fill-opacity="0.85"/>
<circle cx="617.1" cy="457.9" r="0.68" fill="#6868f2" fill-opacity="0.85"/>
<circle cx="616.9" cy="459.7" r="0.68" fill="#6868f2" fill-opacity="0.85"/>
<circle cx="616.8" cy="456.6" r="0.68" fill="#6868f2" fill-opacity="0.85"/>
<circle cx="617.0" cy="460.7" r="0.68" fill="#6868f2" fill-opacity="0.85"/>
<circle cx="616.9" cy="454.7" r="0.68" fill="#6868f2" fill-opacity="0.85"/>
<circle cx="617.0" cy="452.8" r="0.68" fill="#6868f2" fill-opacity="0.85"/>
<circle cx="617.1" cy="458.3" r="0.68" fill="#6868f2" fill-opacity="0.85"/>
<circle cx="616.8" cy="451.0" r="0.68" fill="#6868f2" fill-opacity="0.85"/>
<circle cx="616.8" cy="469.6" r="0.68" fill="#6868f2" fill-opacity="0.85"/>
<circle cx="617.13" cy="439.45" r="0.78" fill="#6868f2" fill-opacity="1"/>
<circle cx="617.15" cy="498.74" r="0.78" fill="#6868f2" fill-opacity="1"/>
<line x1="622.60" y1="451.51" x2="622.60" y2="470.35" stroke="#f26868" stroke-width="0.5" />
<rect x="620.90" y="458.29" width="3.40" height="9.55" fill="#ff8080" stroke="#f26868" stroke-width="0.35" fill-opacity="0.38"/>
<line x1="620.90" y1="462.81" x2="624.30" y2="462.81" stroke="#f26868" stroke-width="0.4" />
<circle cx="622.6" cy="456.2" r="0.68" fill="#f26868" fill-opacity="0.85"/>
<circle cx="622.5" cy="464.6" r="0.68" fill="#f26868" fill-opacity="0.85"/>
<circle cx="622.7" cy="456.6" r="0.68" fill="#f26868" fill-opacity="0.85"/>
<circle cx="622.6" cy="459.1" r="0.68" fill="#f26868" fill-opacity="0.85"/>
<circle cx="622.8" cy="464.2" r="0.68" fill="#f26868" fill-opacity="0.85"/>
<circle cx="622.6" cy="465.3" r="0.68" fill="#f26868" fill-opacity="0.85"/>
<circle cx="622.6" cy="465.8" r="0.68" fill="#f26868" fill-opacity="0.85"/>
<circle cx="622.7" cy="466.4" r="0.68" fill="#f26868" fill-opacity="0.85"/>
<circle cx="622.6" cy="460.8" r="0.68" fill="#f26868" fill-opacity="0.85"/>
<circle cx="622.6" cy="458.5" r="0.68" fill="#f26868" fill-opacity="0.85"/>
<circle cx="622.7" cy="461.8" r="0.68" fill="#f26868" fill-opacity="0.85"/>
<circle cx="622.6" cy="457.3" r="0.68" fill="#f26868" fill-opacity="0.85"/>
<circle cx="622.8" cy="464.1" r="0.68" fill="#f26868" fill-opacity="0.85"/>
<circle cx="622.5" cy="457.5" r="0.68" fill="#f26868" fill-opacity="0.85"/>
<circle cx="622.6" cy="465.2" r="0.68" fill="#f26868" fill-opacity="0.85"/>
<circle cx="622.8" cy="463.7" r="0.68" fill="#f26868" fill-opacity="0.85"/>
<circle cx="622.7" cy="460.0" r="0.68" fill="#f26868" fill-opacity="0.85"/>
<circle cx="622.6" cy="463.9" r="0.68" fill="#f26868" fill-opacity="0.85"/>
<circle cx="622.5" cy="464.8" r="0.68" fill="#f26868" fill-opacity="0.85"/>
<circle cx="622.5" cy="459.1" r="0.68" fill="#f26868" fill-opacity="0.85"/>
<circle cx="622.6" cy="459.8" r="0.68" fill="#f26868" fill-opacity="0.85"/>
<circle cx="622.6" cy="456.5" r="0.68" fill="#f26868" fill-opacity="0.85"/>
<circle cx="622.6" cy="464.6" r="0.68" fill="#f26868" fill-opacity="0.85"/>
<circle cx="622.5" cy="463.0" r="0.68" fill="#f26868" fill-opacity="0.85"/>
<circle cx="622.6" cy="458.8" r="0.68" fill="#f26868" fill-opacity="0.85"/>
<circle cx="622.6" cy="458.8" r="0.68" fill="#f26868" fill-opacity="0.85"/>
<circle cx="622.4" cy="458.5" r="0.68" fill="#f26868" fill-opacity="0.85"/>
<circle cx="622.7" cy="467.0" r="0.68" fill="#f26868" fill-opacity="0.85"/>
<circle cx="622.7" cy="457.0" r="0.68" fill="#f26868" fill-opacity="0.85"/>
<circle cx="622.5" cy="467.4" r="0.68" fill="#f26868" fill-opacity="0.85"/>
<circle cx="622.5" cy="466.8" r="0.68" fill="#f26868" fill-opacity="0.85"/>
<circle cx="622.4" cy="466.3" r="0.68" fill="#f26868" fill-opacity="0.85"/>
<circle cx="622.6" cy="462.1" r="0.68" fill="#f26868" fill-opacity="0.85"/>
<circle cx="622.7" cy="457.6" r="0.68" fill="#f26868" fill-opacity="0.85"/>
<circle cx="622.6" cy="451.5" r="0.68" fill="#f26868" fill-opacity="0.85"/>
<circle cx="622.6" cy="470.4" r="0.68" fill="#f26868" fill-opacity="0.85"/>
<circle cx="622.64" cy="437.69" r="0.78" fill="#f26868" fill-opacity="1"/>
<circle cx="622.42" cy="438.44" r="0.78" fill="#f26868" fill-opacity="1"/>
<circle cx="622.42" cy="484.67" r="0.78" fill="#f26868" fill-opacity="1"/>
<circle cx="622.60" cy="494.72" r="0.78" fill="#f26868" fill-opacity="1"/>
<circle cx="622.77" cy="496.73" r="0.78" fill="#f26868" fill-opacity="1"/>
<circle cx="622.68" cy="508.04" r="0.78" fill="#f26868" fill-opacity="1"/>
<line x1="630.80" y1="482.41" x2="630.80" y2="506.78" stroke="#6868f2" stroke-width="0.5" />
<rect x="629.10" y="486.68" width="3.40" height="12.06" fill="#8080ff" stroke="#6868f2" stroke-width="0.35" fill-opacity="0.38"/>
<line x1="629.10" y1="492.96" x2="632.50" y2="492.96" stroke="#6868f2" stroke-width="0.4" />
<circle cx="630.9" cy="499.8" r="0.68" fill="#6868f2" fill-opacity="0.85"/>
<circle cx="630.9" cy="503.7" r="0.68" fill="#6868f2" fill-opacity="0.85"/>
<circle cx="630.8" cy="498.7" r="0.68" fill="#6868f2" fill-opacity="0.85"/>
<circle cx="630.7" cy="497.5" r="0.68" fill="#6868f2" fill-opacity="0.85"/>
<circle cx="630.9" cy="491.9" r="0.68" fill="#6868f2" fill-opacity="0.85"/>
<circle cx="630.8" cy="492.5" r="0.68" fill="#6868f2" fill-opacity="0.85"/>
<circle cx="631.0" cy="505.0" r="0.68" fill="#6868f2" fill-opacity="0.85"/>
<circle cx="630.8" cy="499.6" r="0.68" fill="#6868f2" fill-opacity="0.85"/>
<circle cx="630.7" cy="502.2" r="0.68" fill="#6868f2" fill-opacity="0.85"/>
<circle cx="631.0" cy="489.3" r="0.68" fill="#6868f2" fill-opacity="0.85"/>
<circle cx="630.8" cy="496.7" r="0.68" fill="#6868f2" fill-opacity="0.85"/>
<circle cx="630.7" cy="497.7" r="0.68" fill="#6868f2" fill-opacity="0.85"/>
<circle cx="630.9" cy="498.0" r="0.68" fill="#6868f2" fill-opacity="0.85"/>
<circle cx="630.7" cy="485.3" r="0.68" fill="#6868f2" fill-opacity="0.85"/>
<circle cx="630.7" cy="496.0" r="0.68" fill="#6868f2" fill-opacity="0.85"/>
<circle cx="631.0" cy="499.8" r="0.68" fill="#6868f2" fill-opacity="0.85"/>
<circle cx="630.8" cy="490.5" r="0.68" fill="#6868f2" fill-opacity="0.85"/>
<circle cx="630.9" cy="487.5" r="0.68" fill="#6868f2" fill-opacity="0.85"/>
<circle cx="630.7" cy="494.7" r="0.68" fill="#6868f2" fill-opacity="0.85"/>
<circle cx="630.8" cy="483.6" r="0.68" fill="#6868f2" fill-opacity="0.85"/>
<circle cx="630.7" cy="493.5" r="0.68" fill="#6868f2" fill-opacity="0.85"/>
<circle cx="630.9" cy="485.4" r="0.68" fill="#6868f2" fill-opacity="0.85"/>
<circle cx="630.8" cy="495.9" r="0.68" fill="#6868f2" fill-opacity="0.85"/>
<circle cx="630.8" cy="503.6" r="0.68" fill="#6868f2" fill-opacity="0.85"/>
<circle cx="630.8" cy="489.5" r="0.68" fill="#6868f2" fill-opacity="0.85"/>
<circle cx="630.7" cy="489.7" r="0.68" fill="#6868f2" fill-opacity="0.85"/>
<circle cx="630.7" cy="493.5" r="0.68" fill="#6868f2" fill-opacity="0.85"/>
<circle cx="630.9" cy="498.8" r="0.68" fill="#6868f2" fill-opacity="0.85"/>
<circle cx="630.7" cy="498.1" r="0.68" fill="#6868f2" fill-opacity="0.85"/>
<circle cx="630.6" cy="496.9" r="0.68" fill="#6868f2" fill-opacity="0.85"/>
<circle cx="630.8" cy="491.2" r="0.68" fill="#6868f2" fill-opacity="0.85"/>
<circle cx="630.8" cy="500.7" r="0.68" fill="#6868f2" fill-opacity="0.85"/>
<circle cx="631.0" cy="499.8" r="0.68" fill="#6868f2" fill-opacity="0.85"/>
<circle cx="630.8" cy="497.6" r="0.68" fill="#6868f2" fill-opacity="0.85"/>
<circle cx="630.8" cy="482.4" r="0.68" fill="#6868f2" fill-opacity="0.85"/>
<circle cx="631.0" cy="506.8" r="0.68" fill="#6868f2" fill-opacity="0.85"/>
<circle cx="630.89" cy="448.99" r="0.78" fill="#6868f2" fill-opacity="1"/>
<circle cx="630.78" cy="463.57" r="0.78" fill="#6868f2" fill-opacity="1"/>
<circle cx="630.76" cy="465.33" r="0.78" fill="#6868f2" fill-opacity="1"/>
<line x1="636.40" y1="480.40" x2="636.40" y2="504.27" stroke="#f26868" stroke-width="0.5" />
<rect x="634.70" y="486.18" width="3.40" height="11.31" fill="#ff8080" stroke="#f26868" stroke-width="0.35" fill-opacity="0.38"/>
<line x1="634.70" y1="492.21" x2="638.10" y2="492.21" stroke="#f26868" stroke-width="0.4" />
<circle cx="636.2" cy="488.8" r="0.68" fill="#f26868" fill-opacity="0.85"/>
<circle cx="636.6" cy="490.5" r="0.68" fill="#f26868" fill-opacity="0.85"/>
<circle cx="636.3" cy="486.6" r="0.68" fill="#f26868" fill-opacity="0.85"/>
<circle cx="636.6" cy="495.0" r="0.68" fill="#f26868" fill-opacity="0.85"/>
<circle cx="636.4" cy="488.4" r="0.68" fill="#f26868" fill-opacity="0.85"/>
<circle cx="636.4" cy="490.8" r="0.68" fill="#f26868" fill-opacity="0.85"/>
<circle cx="636.4" cy="493.5" r="0.68" fill="#f26868" fill-opacity="0.85"/>
<circle cx="636.2" cy="485.4" r="0.68" fill="#f26868" fill-opacity="0.85"/>
<circle cx="636.4" cy="493.3" r="0.68" fill="#f26868" fill-opacity="0.85"/>
<circle cx="636.5" cy="494.7" r="0.68" fill="#f26868" fill-opacity="0.85"/>
<circle cx="636.5" cy="486.5" r="0.68" fill="#f26868" fill-opacity="0.85"/>
<circle cx="636.5" cy="489.8" r="0.68" fill="#f26868" fill-opacity="0.85"/>
<circle cx="636.5" cy="500.5" r="0.68" fill="#f26868" fill-opacity="0.85"/>
<circle cx="636.3" cy="490.5" r="0.68" fill="#f26868" fill-opacity="0.85"/>
<circle cx="636.4" cy="489.0" r="0.68" fill="#f26868" fill-opacity="0.85"/>
<circle cx="636.4" cy="495.7" r="0.68" fill="#f26868" fill-opacity="0.85"/>
<circle cx="636.2" cy="488.5" r="0.68" fill="#f26868" fill-opacity="0.85"/>
<circle cx="636.5" cy="489.7" r="0.68" fill="#f26868" fill-opacity="0.85"/>
<circle cx="636.2" cy="482.5" r="0.68" fill="#f26868" fill-opacity="0.85"/>
<circle cx="636.4" cy="498.9" r="0.68" fill="#f26868" fill-opacity="0.85"/>
<circle cx="636.3" cy="483.3" r="0.68" fill="#f26868" fill-opacity="0.85"/>
<circle cx="636.3" cy="489.8" r="0.68" fill="#f26868" fill-opacity="0.85"/>
<circle cx="636.6" cy="485.4" r="0.68" fill="#f26868" fill-opacity="0.85"/>
<circle cx="636.4" cy="484.2" r="0.68" fill="#f26868" fill-opacity="0.85"/>
<circle cx="636.5" cy="499.4" r="0.68" fill="#f26868" fill-opacity="0.85"/>
<circle cx="636.4" cy="498.1" r="0.68" fill="#f26868" fill-opacity="0.85"/>
<circle cx="636.4" cy="496.2" r="0.68" fill="#f26868" fill-opacity="0.85"/>
<circle cx="636.5" cy="496.7" r="0.68" fill="#f26868" fill-opacity="0.85"/>
<circle cx="636.2" cy="480.9" r="0.68" fill="#f26868" fill-opacity="0.85"/>
<circle cx="636.4" cy="490.9" r="0.68" fill="#f26868" fill-opacity="0.85"/>
<circle cx="636.3" cy="495.7" r="0.68" fill="#f26868" fill-opacity="0.85"/>
<circle cx="636.4" cy="486.5" r="0.68" fill="#f26868" fill-opacity="0.85"/>
<circle cx="636.4" cy="490.6" r="0.68" fill="#f26868" fill-opacity="0.85"/>
<circle cx="636.6" cy="491.1" r="0.68" fill="#f26868" fill-opacity="0.85"/>
<circle cx="636.3" cy="480.4" r="0.68" fill="#f26868" fill-opacity="0.85"/>
<circle cx="636.3" cy="504.3" r="0.68" fill="#f26868" fill-opacity="0.85"/>
<circle cx="636.57" cy="446.48" r="0.78" fill="#f26868" fill-opacity="1"/>
<circle cx="636.49" cy="457.29" r="0.78" fill="#f26868" fill-opacity="1"/>
<circle cx="636.37" cy="516.08" r="0.78" fill="#f26868" fill-opacity="1"/>
<line x1="644.60" y1="474.12" x2="644.60" y2="497.99" stroke="#6868f2" stroke-width="0.5" />
<rect x="642.90" y="482.91" width="3.40" height="13.07" fill="#8080ff" stroke="#6868f2" stroke-width="0.35" fill-opacity="0.38"/>
<line x1="642.90" y1="489.20" x2="646.30" y2="489.20" stroke="#6868f2" stroke-width="0.4" />
<circle cx="644.6" cy="489.9" r="0.68" fill="#6868f2" fill-opacity="0.85"/>
<circle cx="644.7" cy="490.1" r="0.68" fill="#6868f2" fill-opacity="0.85"/>
<circle cx="644.8" cy="477.9" r="0.68" fill="#6868f2" fill-opacity="0.85"/>
<circle cx="644.7" cy="483.6" r="0.68" fill="#6868f2" fill-opacity="0.85"/>
<circle cx="644.7" cy="493.8" r="0.68" fill="#6868f2" fill-opacity="0.85"/>
<circle cx="644.4" cy="491.5" r="0.68" fill="#6868f2" fill-opacity="0.85"/>
<circle cx="644.4" cy="495.1" r="0.68" fill="#6868f2" fill-opacity="0.85"/>
<circle cx="644.7" cy="486.1" r="0.68" fill="#6868f2" fill-opacity="0.85"/>
<circle cx="644.7" cy="484.1" r="0.68" fill="#6868f2" fill-opacity="0.85"/>
<circle cx="644.6" cy="485.2" r="0.68" fill="#6868f2" fill-opacity="0.85"/>
<circle cx="644.5" cy="492.0" r="0.68" fill="#6868f2" fill-opacity="0.85"/>
<circle cx="644.6" cy="489.5" r="0.68" fill="#6868f2" fill-opacity="0.85"/>
<circle cx="644.7" cy="482.5" r="0.68" fill="#6868f2" fill-opacity="0.85"/>
<circle cx="644.7" cy="476.8" r="0.68" fill="#6868f2" fill-opacity="0.85"/>
<circle cx="644.5" cy="479.8" r="0.68" fill="#6868f2" fill-opacity="0.85"/>
<circle cx="644.5" cy="482.9" r="0.68" fill="#6868f2" fill-opacity="0.85"/>
<circle cx="644.5" cy="480.0" r="0.68" fill="#6868f2" fill-opacity="0.85"/>
<circle cx="644.7" cy="481.0" r="0.68" fill="#6868f2" fill-opacity="0.85"/>
<circle cx="644.5" cy="488.0" r="0.68" fill="#6868f2" fill-opacity="0.85"/>
<circle cx="644.8" cy="476.5" r="0.68" fill="#6868f2" fill-opacity="0.85"/>
<circle cx="644.6" cy="487.7" r="0.68" fill="#6868f2" fill-opacity="0.85"/>
<circle cx="644.5" cy="477.9" r="0.68" fill="#6868f2" fill-opacity="0.85"/>
<circle cx="644.6" cy="485.4" r="0.68" fill="#6868f2" fill-opacity="0.85"/>
<circle cx="644.5" cy="489.5" r="0.68" fill="#6868f2" fill-opacity="0.85"/>
<circle cx="644.8" cy="495.5" r="0.68" fill="#6868f2" fill-opacity="0.85"/>
<circle cx="644.4" cy="485.0" r="0.68" fill="#6868f2" fill-opacity="0.85"/>
<circle cx="644.6" cy="490.3" r="0.68" fill="#6868f2" fill-opacity="0.85"/>
<circle cx="644.6" cy="484.7" r="0.68" fill="#6868f2" fill-opacity="0.85"/>
<circle cx="644.4" cy="486.5" r="0.68" fill="#6868f2" fill-opacity="0.85"/>
<circle cx="644.5" cy="478.6" r="0.68" fill="#6868f2" fill-opacity="0.85"/>
<circle cx="644.8" cy="493.2" r="0.68" fill="#6868f2" fill-opacity="0.85"/>
<circle cx="644.7" cy="488.2" r="0.68" fill="#6868f2" fill-opacity="0.85"/>
<circle cx="644.6" cy="483.1" r="0.68" fill="#6868f2" fill-opacity="0.85"/>
<circle cx="644.7" cy="477.1" r="0.68" fill="#6868f2" fill-opacity="0.85"/>
<circle cx="644.8" cy="474.1" r="0.68" fill="#6868f2" fill-opacity="0.85"/>
<circle cx="644.7" cy="498.0" r="0.68" fill="#6868f2" fill-opacity="0.85"/>
<circle cx="644.69" cy="449.75" r="0.78" fill="#6868f2" fill-opacity="1"/>
<circle cx="644.63" cy="462.06" r="0.78" fill="#6868f2" fill-opacity="1"/>
<circle cx="644.60" cy="514.82" r="0.78" fill="#6868f2" fill-opacity="1"/>
<line x1="650.20" y1="477.39" x2="650.20" y2="499.75" stroke="#f26868" stroke-width="0.5" />
<rect x="648.50" y="482.91" width="3.40" height="11.81" fill="#ff8080" stroke="#f26868" stroke-width="0.35" fill-opacity="0.38"/>
<line x1="648.50" y1="487.94" x2="651.90" y2="487.94" stroke="#f26868" stroke-width="0.4" />
<circle cx="650.3" cy="484.9" r="0.68" fill="#f26868" fill-opacity="0.85"/>
<circle cx="650.1" cy="490.6" r="0.68" fill="#f26868" fill-opacity="0.85"/>
<circle cx="650.4" cy="492.7" r="0.68" fill="#f26868" fill-opacity="0.85"/>
<circle cx="650.3" cy="492.9" r="0.68" fill="#f26868" fill-opacity="0.85"/>
<circle cx="650.1" cy="492.2" r="0.68" fill="#f26868" fill-opacity="0.85"/>
<circle cx="650.2" cy="494.1" r="0.68" fill="#f26868" fill-opacity="0.85"/>
<circle cx="650.1" cy="483.1" r="0.68" fill="#f26868" fill-opacity="0.85"/>
<circle cx="650.0" cy="488.3" r="0.68" fill="#f26868" fill-opacity="0.85"/>
<circle cx="650.1" cy="487.3" r="0.68" fill="#f26868" fill-opacity="0.85"/>
<circle cx="650.1" cy="482.5" r="0.68" fill="#f26868" fill-opacity="0.85"/>
<circle cx="650.0" cy="484.9" r="0.68" fill="#f26868" fill-opacity="0.85"/>
<circle cx="650.0" cy="489.8" r="0.68" fill="#f26868" fill-opacity="0.85"/>
<circle cx="650.3" cy="488.4" r="0.68" fill="#f26868" fill-opacity="0.85"/>
<circle cx="650.3" cy="490.4" r="0.68" fill="#f26868" fill-opacity="0.85"/>
<circle cx="650.3" cy="492.8" r="0.68" fill="#f26868" fill-opacity="0.85"/>
<circle cx="650.0" cy="484.5" r="0.68" fill="#f26868" fill-opacity="0.85"/>
<circle cx="650.0" cy="479.1" r="0.68" fill="#f26868" fill-opacity="0.85"/>
<circle cx="650.3" cy="478.8" r="0.68" fill="#f26868" fill-opacity="0.85"/>
<circle cx="650.1" cy="489.1" r="0.68" fill="#f26868" fill-opacity="0.85"/>
<circle cx="650.1" cy="497.4" r="0.68" fill="#f26868" fill-opacity="0.85"/>
<circle cx="650.3" cy="483.6" r="0.68" fill="#f26868" fill-opacity="0.85"/>
<circle cx="650.2" cy="488.6" r="0.68" fill="#f26868" fill-opacity="0.85"/>
<circle cx="650.1" cy="489.0" r="0.68" fill="#f26868" fill-opacity="0.85"/>
<circle cx="650.1" cy="489.7" r="0.68" fill="#f26868" fill-opacity="0.85"/>
<circle cx="650.0" cy="483.3" r="0.68" fill="#f26868" fill-opacity="0.85"/>
<circle cx="650.3" cy="487.1" r="0.68" fill="#f26868" fill-opacity="0.85"/>
<circle cx="650.4" cy="490.8" r="0.68" fill="#f26868" fill-opacity="0.85"/>
<circle cx="650.0" cy="489.9" r="0.68" fill="#f26868" fill-opacity="0.85"/>
<circle cx="650.1" cy="482.8" r="0.68" fill="#f26868" fill-opacity="0.85"/>
<circle cx="650.2" cy="497.0" r="0.68" fill="#f26868" fill-opacity="0.85"/>
<circle cx="650.1" cy="488.2" r="0.68" fill="#f26868" fill-opacity="0.85"/>
<circle cx="650.2" cy="485.7" r="0.68" fill="#f26868" fill-opacity="0.85"/>
<circle cx="650.2" cy="492.4" r="0.68" fill="#f26868" fill-opacity="0.85"/>
<circle cx="650.1" cy="485.1" r="0.68" fill="#f26868" fill-opacity="0.85"/>
<circle cx="650.0" cy="477.4" r="0.68" fill="#f26868" fill-opacity="0.85"/>
<circle cx="650.2" cy="499.7" r="0.68" fill="#f26868" fill-opacity="0.85"/>
<circle cx="650.32" cy="457.04" r="0.78" fill="#f26868" fill-opacity="1"/>
<circle cx="650.06" cy="512.31" r="0.78" fill="#f26868" fill-opacity="1"/>
<line x1="658.20" y1="490.95" x2="658.20" y2="508.54" stroke="#6868f2" stroke-width="0.5" />
<rect x="656.50" y="498.74" width="3.40" height="6.78" fill="#8080ff" stroke="#6868f2" stroke-width="0.35" fill-opacity="0.38"/>
<line x1="656.50" y1="502.14" x2="659.90" y2="502.14" stroke="#6868f2" stroke-width="0.4" />
<circle cx="658.1" cy="499.4" r="0.68" fill="#6868f2" fill-opacity="0.85"/>
<circle cx="658.2" cy="495.9" r="0.68" fill="#6868f2" fill-opacity="0.85"/>
<circle cx="658.1" cy="504.3" r="0.68" fill="#6868f2" fill-opacity="0.85"/>
<circle cx="658.3" cy="494.6" r="0.68" fill="#6868f2" fill-opacity="0.85"/>
<circle cx="658.2" cy="500.9" r="0.68" fill="#6868f2" fill-opacity="0.85"/>
<circle cx="658.0" cy="504.0" r="0.68" fill="#6868f2" fill-opacity="0.85"/>
<circle cx="658.2" cy="505.6" r="0.68" fill="#6868f2" fill-opacity="0.85"/>
<circle cx="658.1" cy="495.3" r="0.68" fill="#6868f2" fill-opacity="0.85"/>
<circle cx="658.0" cy="505.0" r="0.68" fill="#6868f2" fill-opacity="0.85"/>
<circle cx="658.0" cy="501.6" r="0.68" fill="#6868f2" fill-opacity="0.85"/>
<circle cx="658.2" cy="496.8" r="0.68" fill="#6868f2" fill-opacity="0.85"/>
<circle cx="658.2" cy="506.1" r="0.68" fill="#6868f2" fill-opacity="0.85"/>
<circle cx="658.0" cy="493.2" r="0.68" fill="#6868f2" fill-opacity="0.85"/>
<circle cx="658.1" cy="504.0" r="0.68" fill="#6868f2" fill-opacity="0.85"/>
<circle cx="658.4" cy="498.2" r="0.68" fill="#6868f2" fill-opacity="0.85"/>
<circle cx="658.2" cy="497.1" r="0.68" fill="#6868f2" fill-opacity="0.85"/>
<circle cx="658.4" cy="503.2" r="0.68" fill="#6868f2" fill-opacity="0.85"/>
<circle cx="658.2" cy="500.4" r="0.68" fill="#6868f2" fill-opacity="0.85"/>
<circle cx="658.4" cy="494.4" r="0.68" fill="#6868f2" fill-opacity="0.85"/>
<circle cx="658.3" cy="501.5" r="0.68" fill="#6868f2" fill-opacity="0.85"/>
<circle cx="658.2" cy="500.5" r="0.68" fill="#6868f2" fill-opacity="0.85"/>
<circle cx="658.0" cy="503.3" r="0.68" fill="#6868f2" fill-opacity="0.85"/>
<circle cx="658.1" cy="499.4" r="0.68" fill="#6868f2" fill-opacity="0.85"/>
<circle cx="658.3" cy="498.0" r="0.68" fill="#6868f2" fill-opacity="0.85"/>
<circle cx="658.3" cy="496.1" r="0.68" fill="#6868f2" fill-opacity="0.85"/>
<circle cx="658.1" cy="502.0" r="0.68" fill="#6868f2" fill-opacity="0.85"/>
<circle cx="658.1" cy="503.9" r="0.68" fill="#6868f2" fill-opacity="0.85"/>
<circle cx="658.3" cy="497.9" r="0.68" fill="#6868f2" fill-opacity="0.85"/>
<circle cx="658.4" cy="505.4" r="0.68" fill="#6868f2" fill-opacity="0.85"/>
<circle cx="658.1" cy="500.0" r="0.68" fill="#6868f2" fill-opacity="0.85"/>
<circle cx="658.4" cy="500.5" r="0.68" fill="#6868f2" fill-opacity="0.85"/>
<circle cx="658.2" cy="495.7" r="0.68" fill="#6868f2" fill-opacity="0.85"/>
<circle cx="658.1" cy="498.9" r="0.68" fill="#6868f2" fill-opacity="0.85"/>
<circle cx="658.1" cy="506.1" r="0.68" fill="#6868f2" fill-opacity="0.85"/>
<circle cx="658.3" cy="491.0" r="0.68" fill="#6868f2" fill-opacity="0.85"/>
<circle cx="658.4" cy="508.5" r="0.68" fill="#6868f2" fill-opacity="0.85"/>
<circle cx="658.08" cy="455.78" r="0.78" fill="#6868f2" fill-opacity="1"/>
<circle cx="658.10" cy="462.81" r="0.78" fill="#6868f2" fill-opacity="1"/>
<line x1="663.80" y1="492.96" x2="663.80" y2="508.04" stroke="#f26868" stroke-width="0.5" />
<rect x="662.10" y="496.23" width="3.40" height="7.54" fill="#ff8080" stroke="#f26868" stroke-width="0.35" fill-opacity="0.38"/>
<line x1="662.10" y1="500.00" x2="665.50" y2="500.00" stroke="#f26868" stroke-width="0.4" />
<circle cx="663.7" cy="499.4" r="0.68" fill="#f26868" fill-opacity="0.85"/>
<circle cx="663.8" cy="500.5" r="0.68" fill="#f26868" fill-opacity="0.85"/>
<circle cx="663.9" cy="507.1" r="0.68" fill="#f26868" fill-opacity="0.85"/>
<circle cx="663.9" cy="496.6" r="0.68" fill="#f26868" fill-opacity="0.85"/>
<circle cx="663.7" cy="505.1" r="0.68" fill="#f26868" fill-opacity="0.85"/>
<circle cx="663.9" cy="498.3" r="0.68" fill="#f26868" fill-opacity="0.85"/>
<circle cx="664.0" cy="501.4" r="0.68" fill="#f26868" fill-opacity="0.85"/>
<circle cx="663.8" cy="498.0" r="0.68" fill="#f26868" fill-opacity="0.85"/>
<circle cx="663.8" cy="496.6" r="0.68" fill="#f26868" fill-opacity="0.85"/>
<circle cx="663.9" cy="501.8" r="0.68" fill="#f26868" fill-opacity="0.85"/>
<circle cx="663.9" cy="502.7" r="0.68" fill="#f26868" fill-opacity="0.85"/>
<circle cx="663.9" cy="498.8" r="0.68" fill="#f26868" fill-opacity="0.85"/>
<circle cx="664.0" cy="502.4" r="0.68" fill="#f26868" fill-opacity="0.85"/>
<circle cx="663.9" cy="505.8" r="0.68" fill="#f26868" fill-opacity="0.85"/>
<circle cx="664.0" cy="500.5" r="0.68" fill="#f26868" fill-opacity="0.85"/>
<circle cx="663.7" cy="497.6" r="0.68" fill="#f26868" fill-opacity="0.85"/>
<circle cx="663.9" cy="499.3" r="0.68" fill="#f26868" fill-opacity="0.85"/>
<circle cx="663.7" cy="504.0" r="0.68" fill="#f26868" fill-opacity="0.85"/>
<circle cx="663.6" cy="503.5" r="0.68" fill="#f26868" fill-opacity="0.85"/>
<circle cx="663.7" cy="502.0" r="0.68" fill="#f26868" fill-opacity="0.85"/>
<circle cx="664.0" cy="505.0" r="0.68" fill="#f26868" fill-opacity="0.85"/>
<circle cx="663.7" cy="503.2" r="0.68" fill="#f26868" fill-opacity="0.85"/>
<circle cx="663.7" cy="502.6" r="0.68" fill="#f26868" fill-opacity="0.85"/>
<circle cx="664.0" cy="502.5" r="0.68" fill="#f26868" fill-opacity="0.85"/>
<circle cx="664.0" cy="501.8" r="0.68" fill="#f26868" fill-opacity="0.85"/>
<circle cx="663.9" cy="496.6" r="0.68" fill="#f26868" fill-opacity="0.85"/>
<circle cx="663.7" cy="504.4" r="0.68" fill="#f26868" fill-opacity="0.85"/>
<circle cx="663.9" cy="503.8" r="0.68" fill="#f26868" fill-opacity="0.85"/>
<circle cx="663.6" cy="496.2" r="0.68" fill="#f26868" fill-opacity="0.85"/>
<circle cx="663.6" cy="502.3" r="0.68" fill="#f26868" fill-opacity="0.85"/>
<circle cx="663.6" cy="498.6" r="0.68" fill="#f26868" fill-opacity="0.85"/>
<circle cx="663.7" cy="497.6" r="0.68" fill="#f26868" fill-opacity="0.85"/>
<circle cx="663.7" cy="497.8" r="0.68" fill="#f26868" fill-opacity="0.85"/>
<circle cx="663.9" cy="506.4" r="0.68" fill="#f26868" fill-opacity="0.85"/>
<circle cx="663.8" cy="493.0" r="0.68" fill="#f26868" fill-opacity="0.85"/>
<circle cx="663.9" cy="508.0" r="0.68" fill="#f26868" fill-opacity="0.85"/>
<circle cx="663.80" cy="468.59" r="0.78" fill="#f26868" fill-opacity="1"/>
<circle cx="663.75" cy="474.62" r="0.78" fill="#f26868" fill-opacity="1"/>
<circle cx="663.74" cy="476.13" r="0.78" fill="#f26868" fill-opacity="1"/>
<circle cx="663.62" cy="516.08" r="0.78" fill="#f26868" fill-opacity="1"/>
<line x1="672.00" y1="474.62" x2="672.00" y2="492.96" stroke="#6868f2" stroke-width="0.5" />
<rect x="670.30" y="478.64" width="3.40" height="9.80" fill="#8080ff" stroke="#6868f2" stroke-width="0.35" fill-opacity="0.38"/>
<line x1="670.30" y1="484.17" x2="673.70" y2="484.17" stroke="#6868f2" stroke-width="0.4" />
<circle cx="672.1" cy="488.4" r="0.68" fill="#6868f2" fill-opacity="0.85"/>
<circle cx="671.9" cy="483.1" r="0.68" fill="#6868f2" fill-opacity="0.85"/>
<circle cx="672.2" cy="490.9" r="0.68" fill="#6868f2" fill-opacity="0.85"/>
<circle cx="672.1" cy="481.4" r="0.68" fill="#6868f2" fill-opacity="0.85"/>
<circle cx="672.0" cy="484.2" r="0.68" fill="#6868f2" fill-opacity="0.85"/>
<circle cx="672.2" cy="485.1" r="0.68" fill="#6868f2" fill-opacity="0.85"/>
<circle cx="671.8" cy="486.0" r="0.68" fill="#6868f2" fill-opacity="0.85"/>
<circle cx="672.1" cy="484.3" r="0.68" fill="#6868f2" fill-opacity="0.85"/>
<circle cx="672.1" cy="490.1" r="0.68" fill="#6868f2" fill-opacity="0.85"/>
<circle cx="671.8" cy="480.7" r="0.68" fill="#6868f2" fill-opacity="0.85"/>
<circle cx="672.0" cy="480.0" r="0.68" fill="#6868f2" fill-opacity="0.85"/>
<circle cx="671.8" cy="490.8" r="0.68" fill="#6868f2" fill-opacity="0.85"/>
<circle cx="672.2" cy="479.8" r="0.68" fill="#6868f2" fill-opacity="0.85"/>
<circle cx="671.8" cy="481.4" r="0.68" fill="#6868f2" fill-opacity="0.85"/>
<circle cx="672.1" cy="479.3" r="0.68" fill="#6868f2" fill-opacity="0.85"/>
<circle cx="672.0" cy="484.4" r="0.68" fill="#6868f2" fill-opacity="0.85"/>
<circle cx="671.9" cy="480.0" r="0.68" fill="#6868f2" fill-opacity="0.85"/>
<circle cx="672.2" cy="485.7" r="0.68" fill="#6868f2" fill-opacity="0.85"/>
<circle cx="672.0" cy="484.2" r="0.68" fill="#6868f2" fill-opacity="0.85"/>
<circle cx="672.0" cy="485.7" r="0.68" fill="#6868f2" fill-opacity="0.85"/>
<circle cx="671.9" cy="484.3" r="0.68" fill="#6868f2" fill-opacity="0.85"/>
<circle cx="671.9" cy="482.3" r="0.68" fill="#6868f2" fill-opacity="0.85"/>
<circle cx="671.9" cy="483.5" r="0.68" fill="#6868f2" fill-opacity="0.85"/>
<circle cx="671.8" cy="483.4" r="0.68" fill="#6868f2" fill-opacity="0.85"/>
<circle cx="671.9" cy="483.6" r="0.68" fill="#6868f2" fill-opacity="0.85"/>
<circle cx="672.0" cy="481.6" r="0.68" fill="#6868f2" fill-opacity="0.85"/>
<circle cx="672.0" cy="479.9" r="0.68" fill="#6868f2" fill-opacity="0.85"/>
<circle cx="672.1" cy="478.6" r="0.68" fill="#6868f2" fill-opacity="0.85"/>
<circle cx="671.9" cy="487.9" r="0.68" fill="#6868f2" fill-opacity="0.85"/>
<circle cx="671.9" cy="483.4" r="0.68" fill="#6868f2" fill-opacity="0.85"/>
<circle cx="672.0" cy="484.0" r="0.68" fill="#6868f2" fill-opacity="0.85"/>
<circle cx="672.1" cy="490.1" r="0.68" fill="#6868f2" fill-opacity="0.85"/>
<circle cx="671.9" cy="484.8" r="0.68" fill="#6868f2" fill-opacity="0.85"/>
<circle cx="671.9" cy="483.1" r="0.68" fill="#6868f2" fill-opacity="0.85"/>
<circle cx="671.9" cy="474.6" r="0.68" fill="#6868f2" fill-opacity="0.85"/>
<circle cx="671.9" cy="493.0" r="0.68" fill="#6868f2" fill-opacity="0.85"/>
<circle cx="671.95" cy="454.52" r="0.78" fill="#6868f2" fill-opacity="1"/>
<circle cx="672.12" cy="512.31" r="0.78" fill="#6868f2" fill-opacity="1"/>
<line x1="677.60" y1="474.12" x2="677.60" y2="490.95" stroke="#f26868" stroke-width="0.5" />
<rect x="675.90" y="478.64" width="3.40" height="8.79" fill="#ff8080" stroke="#f26868" stroke-width="0.35" fill-opacity="0.38"/>
<line x1="675.90" y1="482.91" x2="679.30" y2="482.91" stroke="#f26868" stroke-width="0.4" />
<circle cx="677.6" cy="478.0" r="0.68" fill="#f26868" fill-opacity="0.85"/>
<circle cx="677.5" cy="477.9" r="0.68" fill="#f26868" fill-opacity="0.85"/>
<circle cx="677.8" cy="476.5" r="0.68" fill="#f26868" fill-opacity="0.85"/>
<circle cx="677.5" cy="480.1" r="0.68" fill="#f26868" fill-opacity="0.85"/>
<circle cx="677.8" cy="483.7" r="0.68" fill="#f26868" fill-opacity="0.85"/>
<circle cx="677.8" cy="483.1" r="0.68" fill="#f26868" fill-opacity="0.85"/>
<circle cx="677.8" cy="486.0" r="0.68" fill="#f26868" fill-opacity="0.85"/>
<circle cx="677.5" cy="486.0" r="0.68" fill="#f26868" fill-opacity="0.85"/>
<circle cx="677.7" cy="485.3" r="0.68" fill="#f26868" fill-opacity="0.85"/>
<circle cx="677.4" cy="484.6" r="0.68" fill="#f26868" fill-opacity="0.85"/>
<circle cx="677.8" cy="480.9" r="0.68" fill="#f26868" fill-opacity="0.85"/>
<circle cx="677.7" cy="477.6" r="0.68" fill="#f26868" fill-opacity="0.85"/>
<circle cx="677.4" cy="484.6" r="0.68" fill="#f26868" fill-opacity="0.85"/>
<circle cx="677.5" cy="484.5" r="0.68" fill="#f26868" fill-opacity="0.85"/>
<circle cx="677.4" cy="484.3" r="0.68" fill="#f26868" fill-opacity="0.85"/>
<circle cx="677.5" cy="479.9" r="0.68" fill="#f26868" fill-opacity="0.85"/>
<circle cx="677.8" cy="486.5" r="0.68" fill="#f26868" fill-opacity="0.85"/>
<circle cx="677.7" cy="486.2" r="0.68" fill="#f26868" fill-opacity="0.85"/>
<circle cx="677.5" cy="487.7" r="0.68" fill="#f26868" fill-opacity="0.85"/>
<circle cx="677.7" cy="479.3" r="0.68" fill="#f26868" fill-opacity="0.85"/>
<circle cx="677.4" cy="483.2" r="0.68" fill="#f26868" fill-opacity="0.85"/>
<circle cx="677.6" cy="480.2" r="0.68" fill="#f26868" fill-opacity="0.85"/>
<circle cx="677.6" cy="484.9" r="0.68" fill="#f26868" fill-opacity="0.85"/>
<circle cx="677.4" cy="485.2" r="0.68" fill="#f26868" fill-opacity="0.85"/>
<circle cx="677.8" cy="486.1" r="0.68" fill="#f26868" fill-opacity="0.85"/>
<circle cx="677.7" cy="479.8" r="0.68" fill="#f26868" fill-opacity="0.85"/>
<circle cx="677.8" cy="480.8" r="0.68" fill="#f26868" fill-opacity="0.85"/>
<circle cx="677.7" cy="481.3" r="0.68" fill="#f26868" fill-opacity="0.85"/>
<circle cx="677.6" cy="480.5" r="0.68" fill="#f26868" fill-opacity="0.85"/>
<circle cx="677.5" cy="485.9" r="0.68" fill="#f26868" fill-opacity="0.85"/>
<circle cx="677.6" cy="480.9" r="0.68" fill="#f26868" fill-opacity="0.85"/>
<circle cx="677.8" cy="486.1" r="0.68" fill="#f26868" fill-opacity="0.85"/>
<circle cx="677.6" cy="486.0" r="0.68" fill="#f26868" fill-opacity="0.85"/>
<circle cx="677.7" cy="476.7" r="0.68" fill="#f26868" fill-opacity="0.85"/>
<circle cx="677.6" cy="474.1" r="0.68" fill="#f26868" fill-opacity="0.85"/>
<circle cx="677.5" cy="491.0" r="0.68" fill="#f26868" fill-opacity="0.85"/>
<circle cx="677.40" cy="455.78" r="0.78" fill="#f26868" fill-opacity="1"/>
<circle cx="677.49" cy="457.29" r="0.78" fill="#f26868" fill-opacity="1"/>
<circle cx="677.47" cy="459.05" r="0.78" fill="#f26868" fill-opacity="1"/>
<circle cx="677.44" cy="460.30" r="0.78" fill="#f26868" fill-opacity="1"/>
<circle cx="677.42" cy="506.78" r="0.78" fill="#f26868" fill-opacity="1"/>
<circle cx="677.70" cy="508.04" r="0.78" fill="#f26868" fill-opacity="1"/>
<circle cx="677.80" cy="511.31" r="0.78" fill="#f26868" fill-opacity="1"/>
<text x="557.50" y="418.70" font-size="5.0" text-anchor="start" font-family='"Liberation Serif", serif' font-weight="bold" fill="#111"  stroke="#111" stroke-width="0.25">H-1</text>
<text x="546.40" y="474.40" font-size="3.75" text-anchor="middle" font-family='"Liberation Serif", serif' font-weight="bold" fill="#111" transform="rotate(-90 546.40 474.40)"  textLength="88.4" lengthAdjust="spacingAndGlyphs" stroke="#111" stroke-width="0.12">Serum Concentration of Conjugated Bile Acids (ng/mL)</text>
<rect x="666.80" y="425.30" width="5.60" height="2.70" fill="#8080ff" stroke="#6868f2" stroke-width="0.3" fill-opacity="0.38"/>
<text x="673.40" y="427.60" font-size="2.7" text-anchor="start" font-family='"Liberation Serif", serif' font-weight="bold" fill="#111"  stroke="#111" stroke-width="0.12">WPLP</text>
<rect x="666.80" y="428.90" width="5.60" height="2.70" fill="#ff8080" stroke="#f26868" stroke-width="0.3" fill-opacity="0.38"/>
<text x="673.40" y="431.20" font-size="2.7" text-anchor="start" font-family='"Liberation Serif", serif' font-weight="bold" fill="#111"  stroke="#111" stroke-width="0.12">NPLP</text>
</svg></body></html>
